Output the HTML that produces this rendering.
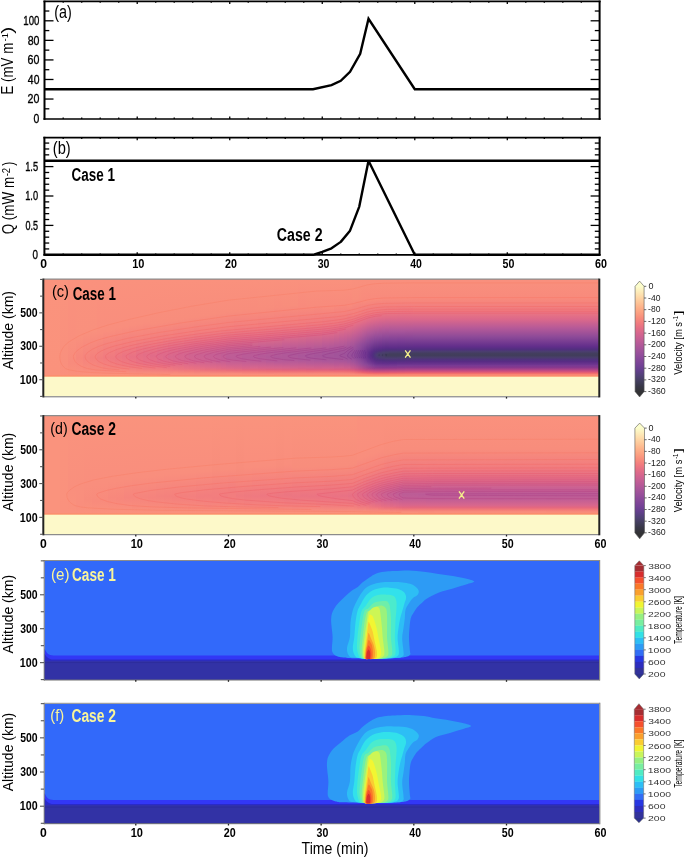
<!DOCTYPE html>
<html><head><meta charset="utf-8"><style>
html,body{margin:0;padding:0;background:#fff;}
svg{display:block;will-change:transform;}
text{font-family:"Liberation Sans",sans-serif;}
</style></head><body>
<svg width="685" height="858" viewBox="0 0 685 858" shape-rendering="auto">
<defs><linearGradient id="c0" x1="0" y1="0" x2="0" y2="1"><stop offset="0" stop-color="#fa937d"/><stop offset="0.8162" stop-color="#fa927c"/><stop offset="0.8205" stop-color="#fb8d6f"/><stop offset="0.8291" stop-color="#fd9d74"/><stop offset="0.8333" stop-color="#fdf9c9"/><stop offset="1" stop-color="#fdf9c9"/></linearGradient>
<linearGradient id="c1" x1="0" y1="0" x2="0" y2="1"><stop offset="0" stop-color="#fa937d"/><stop offset="0.8162" stop-color="#fa927c"/><stop offset="0.8205" stop-color="#fb8d6f"/><stop offset="0.8291" stop-color="#fd9d74"/><stop offset="0.8333" stop-color="#fdf9c9"/><stop offset="1" stop-color="#fdf9c9"/></linearGradient>
<linearGradient id="c2" x1="0" y1="0" x2="0" y2="1"><stop offset="0" stop-color="#fa937d"/><stop offset="0.7436" stop-color="#f98f7d"/><stop offset="0.8162" stop-color="#fa907c"/><stop offset="0.8205" stop-color="#fb8d6f"/><stop offset="0.8291" stop-color="#fd9d74"/><stop offset="0.8333" stop-color="#fdf9c9"/><stop offset="1" stop-color="#fdf9c9"/></linearGradient>
<linearGradient id="c3" x1="0" y1="0" x2="0" y2="1"><stop offset="0" stop-color="#fa917d"/><stop offset="0.5299" stop-color="#f98f7d"/><stop offset="0.7137" stop-color="#f88b7c"/><stop offset="0.8162" stop-color="#fa907b"/><stop offset="0.8205" stop-color="#fb8d6f"/><stop offset="0.8291" stop-color="#fd9d74"/><stop offset="0.8333" stop-color="#fdf9c9"/><stop offset="1" stop-color="#fdf9c9"/></linearGradient>
<linearGradient id="c4" x1="0" y1="0" x2="0" y2="1"><stop offset="0" stop-color="#fa917d"/><stop offset="0.4915" stop-color="#f9907d"/><stop offset="0.6752" stop-color="#f7877c"/><stop offset="0.7821" stop-color="#f98e7d"/><stop offset="0.8162" stop-color="#fa907b"/><stop offset="0.8205" stop-color="#fb8d6f"/><stop offset="0.8291" stop-color="#fd9d74"/><stop offset="0.8333" stop-color="#fdf9c9"/><stop offset="1" stop-color="#fdf9c9"/></linearGradient>
<linearGradient id="c5" x1="0" y1="0" x2="0" y2="1"><stop offset="0" stop-color="#fa917d"/><stop offset="0.4658" stop-color="#f9907d"/><stop offset="0.6752" stop-color="#f5847d"/><stop offset="0.7692" stop-color="#f88b7c"/><stop offset="0.812" stop-color="#fa917d"/><stop offset="0.8162" stop-color="#fa8f7b"/><stop offset="0.8205" stop-color="#fb8c6f"/><stop offset="0.8291" stop-color="#fd9d74"/><stop offset="0.8333" stop-color="#fdf9c9"/><stop offset="1" stop-color="#fdf9c9"/></linearGradient>
<linearGradient id="c6" x1="0" y1="0" x2="0" y2="1"><stop offset="0" stop-color="#fa917d"/><stop offset="0.4402" stop-color="#f9907d"/><stop offset="0.6709" stop-color="#f4817d"/><stop offset="0.765" stop-color="#f7887c"/><stop offset="0.812" stop-color="#fa917d"/><stop offset="0.8162" stop-color="#fa8f7b"/><stop offset="0.8205" stop-color="#fb8c6e"/><stop offset="0.8291" stop-color="#fd9d74"/><stop offset="0.8333" stop-color="#fdf9c9"/><stop offset="1" stop-color="#fdf9c9"/></linearGradient>
<linearGradient id="c7" x1="0" y1="0" x2="0" y2="1"><stop offset="0" stop-color="#fa917d"/><stop offset="0.4573" stop-color="#f98e7d"/><stop offset="0.6752" stop-color="#f27e7e"/><stop offset="0.7692" stop-color="#f7887c"/><stop offset="0.812" stop-color="#fa917d"/><stop offset="0.8162" stop-color="#fa8f7b"/><stop offset="0.8205" stop-color="#fb8c6e"/><stop offset="0.8291" stop-color="#fd9d74"/><stop offset="0.8333" stop-color="#fdf9c9"/><stop offset="1" stop-color="#fdf9c9"/></linearGradient>
<linearGradient id="c8" x1="0" y1="0" x2="0" y2="1"><stop offset="0" stop-color="#fa917d"/><stop offset="0.4402" stop-color="#f98e7d"/><stop offset="0.6667" stop-color="#f17b7f"/><stop offset="0.765" stop-color="#f6857d"/><stop offset="0.812" stop-color="#fa917d"/><stop offset="0.8162" stop-color="#fa8f7a"/><stop offset="0.8205" stop-color="#fb8c6e"/><stop offset="0.8291" stop-color="#fd9d74"/><stop offset="0.8333" stop-color="#fdf9c9"/><stop offset="1" stop-color="#fdf9c9"/></linearGradient>
<linearGradient id="c9" x1="0" y1="0" x2="0" y2="1"><stop offset="0" stop-color="#fa917d"/><stop offset="0.4274" stop-color="#f98e7d"/><stop offset="0.5897" stop-color="#f37f7e"/><stop offset="0.6752" stop-color="#ef7980"/><stop offset="0.7521" stop-color="#f4817d"/><stop offset="0.812" stop-color="#fa917d"/><stop offset="0.8162" stop-color="#fa8f7a"/><stop offset="0.8205" stop-color="#fb8c6e"/><stop offset="0.8291" stop-color="#fd9d74"/><stop offset="0.8333" stop-color="#fdf9c9"/><stop offset="1" stop-color="#fdf9c9"/></linearGradient>
<linearGradient id="c10" x1="0" y1="0" x2="0" y2="1"><stop offset="0" stop-color="#fa917d"/><stop offset="0.4145" stop-color="#f98e7d"/><stop offset="0.5726" stop-color="#f37f7e"/><stop offset="0.6624" stop-color="#ed7681"/><stop offset="0.7393" stop-color="#f27d7e"/><stop offset="0.812" stop-color="#fa917d"/><stop offset="0.8162" stop-color="#fa8f7a"/><stop offset="0.8205" stop-color="#fb8c6e"/><stop offset="0.8291" stop-color="#fd9d74"/><stop offset="0.8333" stop-color="#fdf9c9"/><stop offset="1" stop-color="#fdf9c9"/></linearGradient>
<linearGradient id="c11" x1="0" y1="0" x2="0" y2="1"><stop offset="0" stop-color="#fa917d"/><stop offset="0.4017" stop-color="#f98e7d"/><stop offset="0.5556" stop-color="#f37f7e"/><stop offset="0.6538" stop-color="#eb7482"/><stop offset="0.7308" stop-color="#f07a7f"/><stop offset="0.7821" stop-color="#f7877c"/><stop offset="0.812" stop-color="#fa917d"/><stop offset="0.8162" stop-color="#fa8e7a"/><stop offset="0.8205" stop-color="#fb8c6e"/><stop offset="0.8291" stop-color="#fd9d74"/><stop offset="0.8333" stop-color="#fdf9c9"/><stop offset="1" stop-color="#fdf9c9"/></linearGradient>
<linearGradient id="c12" x1="0" y1="0" x2="0" y2="1"><stop offset="0" stop-color="#fa917d"/><stop offset="0.3889" stop-color="#f98e7d"/><stop offset="0.5427" stop-color="#f37f7e"/><stop offset="0.6624" stop-color="#e97184"/><stop offset="0.7479" stop-color="#f17b7f"/><stop offset="0.812" stop-color="#f9907d"/><stop offset="0.8162" stop-color="#fa8e7a"/><stop offset="0.8205" stop-color="#fb8c6e"/><stop offset="0.8291" stop-color="#fd9d74"/><stop offset="0.8333" stop-color="#fdf9c9"/><stop offset="1" stop-color="#fdf9c9"/></linearGradient>
<linearGradient id="c13" x1="0" y1="0" x2="0" y2="1"><stop offset="0" stop-color="#fa917d"/><stop offset="0.3761" stop-color="#f98e7d"/><stop offset="0.5043" stop-color="#f5837d"/><stop offset="0.6453" stop-color="#e66f85"/><stop offset="0.7094" stop-color="#ea7283"/><stop offset="0.7735" stop-color="#f4817d"/><stop offset="0.812" stop-color="#f9907d"/><stop offset="0.8162" stop-color="#fa8e79"/><stop offset="0.8205" stop-color="#fb8c6e"/><stop offset="0.8291" stop-color="#fd9d74"/><stop offset="0.8333" stop-color="#fdf9c9"/><stop offset="1" stop-color="#fdf9c9"/></linearGradient>
<linearGradient id="c14" x1="0" y1="0" x2="0" y2="1"><stop offset="0" stop-color="#fa917d"/><stop offset="0.3632" stop-color="#f98e7d"/><stop offset="0.4915" stop-color="#f5837d"/><stop offset="0.641" stop-color="#e46e86"/><stop offset="0.7094" stop-color="#e77085"/><stop offset="0.7692" stop-color="#f27d7e"/><stop offset="0.8077" stop-color="#f9907d"/><stop offset="0.8162" stop-color="#fa8e79"/><stop offset="0.8205" stop-color="#fb8b6d"/><stop offset="0.8291" stop-color="#fd9d74"/><stop offset="0.8333" stop-color="#fdf9c9"/><stop offset="1" stop-color="#fdf9c9"/></linearGradient>
<linearGradient id="c15" x1="0" y1="0" x2="0" y2="1"><stop offset="0" stop-color="#fa917d"/><stop offset="0.3803" stop-color="#f88d7c"/><stop offset="0.5299" stop-color="#f17b7f"/><stop offset="0.6496" stop-color="#e16b88"/><stop offset="0.7222" stop-color="#e77085"/><stop offset="0.7692" stop-color="#f17c7f"/><stop offset="0.812" stop-color="#f9907d"/><stop offset="0.8162" stop-color="#fa8e79"/><stop offset="0.8205" stop-color="#fb8b6d"/><stop offset="0.8291" stop-color="#fd9d74"/><stop offset="0.8333" stop-color="#fdf9c9"/><stop offset="1" stop-color="#fdf9c9"/></linearGradient>
<linearGradient id="c16" x1="0" y1="0" x2="0" y2="1"><stop offset="0" stop-color="#fa917d"/><stop offset="0.3718" stop-color="#f88d7c"/><stop offset="0.5214" stop-color="#f17b7f"/><stop offset="0.641" stop-color="#de6a8a"/><stop offset="0.7051" stop-color="#e26c88"/><stop offset="0.7692" stop-color="#f17b7f"/><stop offset="0.812" stop-color="#f9907d"/><stop offset="0.8162" stop-color="#fa8d79"/><stop offset="0.8205" stop-color="#fa896d"/><stop offset="0.8291" stop-color="#fd9d74"/><stop offset="0.8333" stop-color="#fdf9c9"/><stop offset="1" stop-color="#fdf9c9"/></linearGradient>
<linearGradient id="c17" x1="0" y1="0" x2="0" y2="1"><stop offset="0" stop-color="#fa917d"/><stop offset="0.3632" stop-color="#f88d7c"/><stop offset="0.5043" stop-color="#f17c7f"/><stop offset="0.6197" stop-color="#e06b89"/><stop offset="0.6709" stop-color="#dc688b"/><stop offset="0.7308" stop-color="#e56f86"/><stop offset="0.7692" stop-color="#f07a7f"/><stop offset="0.8077" stop-color="#f98e7d"/><stop offset="0.8162" stop-color="#fa8d79"/><stop offset="0.8205" stop-color="#fa896d"/><stop offset="0.8291" stop-color="#fd9d74"/><stop offset="0.8333" stop-color="#fdf9c9"/><stop offset="1" stop-color="#fdf9c9"/></linearGradient>
<linearGradient id="c18" x1="0" y1="0" x2="0" y2="1"><stop offset="0" stop-color="#fa917d"/><stop offset="0.3547" stop-color="#f88d7c"/><stop offset="0.4829" stop-color="#f37f7e"/><stop offset="0.5983" stop-color="#e16b88"/><stop offset="0.6624" stop-color="#d8678d"/><stop offset="0.7308" stop-color="#e46e86"/><stop offset="0.7735" stop-color="#f17a7e"/><stop offset="0.812" stop-color="#f9907d"/><stop offset="0.8162" stop-color="#fa8d78"/><stop offset="0.8205" stop-color="#fa896d"/><stop offset="0.8291" stop-color="#fd9d74"/><stop offset="0.8333" stop-color="#fdf9c9"/><stop offset="1" stop-color="#fdf9c9"/></linearGradient>
<linearGradient id="c19" x1="0" y1="0" x2="0" y2="1"><stop offset="0" stop-color="#fa917d"/><stop offset="0.3504" stop-color="#f88d7c"/><stop offset="0.4829" stop-color="#f27d7e"/><stop offset="0.5726" stop-color="#e46e86"/><stop offset="0.6538" stop-color="#d7668d"/><stop offset="0.7009" stop-color="#db688b"/><stop offset="0.7692" stop-color="#ee7680"/><stop offset="0.7949" stop-color="#f7887c"/><stop offset="0.812" stop-color="#f9907d"/><stop offset="0.8162" stop-color="#f98c78"/><stop offset="0.8205" stop-color="#fa896c"/><stop offset="0.8291" stop-color="#fd9d74"/><stop offset="0.8333" stop-color="#fdf9c9"/><stop offset="1" stop-color="#fdf9c9"/></linearGradient>
<linearGradient id="c20" x1="0" y1="0" x2="0" y2="1"><stop offset="0" stop-color="#fa917d"/><stop offset="0.3419" stop-color="#f88d7c"/><stop offset="0.4915" stop-color="#f17b7f"/><stop offset="0.6368" stop-color="#d6658e"/><stop offset="0.6923" stop-color="#d7668d"/><stop offset="0.7692" stop-color="#ed7580"/><stop offset="0.8034" stop-color="#f88b7c"/><stop offset="0.812" stop-color="#f9907d"/><stop offset="0.8162" stop-color="#f98c78"/><stop offset="0.8205" stop-color="#fa896c"/><stop offset="0.8291" stop-color="#fd9d74"/><stop offset="0.8333" stop-color="#fdf9c9"/><stop offset="1" stop-color="#fdf9c9"/></linearGradient>
<linearGradient id="c21" x1="0" y1="0" x2="0" y2="1"><stop offset="0" stop-color="#fa917d"/><stop offset="0.3333" stop-color="#f88d7c"/><stop offset="0.4615" stop-color="#f37f7e"/><stop offset="0.5556" stop-color="#e46e86"/><stop offset="0.6496" stop-color="#d2648f"/><stop offset="0.6923" stop-color="#d5658e"/><stop offset="0.7607" stop-color="#e97184"/><stop offset="0.7821" stop-color="#f27b7c"/><stop offset="0.8034" stop-color="#f88b7c"/><stop offset="0.812" stop-color="#f9907d"/><stop offset="0.8162" stop-color="#f98c78"/><stop offset="0.8205" stop-color="#fa896c"/><stop offset="0.8291" stop-color="#fd9d74"/><stop offset="0.8333" stop-color="#fdf9c9"/><stop offset="1" stop-color="#fdf9c9"/></linearGradient>
<linearGradient id="c22" x1="0" y1="0" x2="0" y2="1"><stop offset="0" stop-color="#fa917d"/><stop offset="0.3248" stop-color="#f88d7c"/><stop offset="0.4573" stop-color="#f37f7e"/><stop offset="0.5556" stop-color="#e36d87"/><stop offset="0.6453" stop-color="#d06390"/><stop offset="0.6966" stop-color="#d3648f"/><stop offset="0.765" stop-color="#ea7182"/><stop offset="0.7863" stop-color="#f47e7b"/><stop offset="0.8034" stop-color="#f88b7c"/><stop offset="0.812" stop-color="#f98e7d"/><stop offset="0.8162" stop-color="#f98b78"/><stop offset="0.8205" stop-color="#fa896c"/><stop offset="0.8291" stop-color="#fd9d74"/><stop offset="0.8333" stop-color="#fdf9c9"/><stop offset="1" stop-color="#fdf9c9"/></linearGradient>
<linearGradient id="c23" x1="0" y1="0" x2="0" y2="1"><stop offset="0" stop-color="#fa917d"/><stop offset="0.3205" stop-color="#f88d7c"/><stop offset="0.453" stop-color="#f27e7e"/><stop offset="0.547" stop-color="#e36d87"/><stop offset="0.6496" stop-color="#cd6291"/><stop offset="0.6966" stop-color="#d16390"/><stop offset="0.765" stop-color="#e97083"/><stop offset="0.7821" stop-color="#f1797c"/><stop offset="0.8077" stop-color="#f88d7c"/><stop offset="0.812" stop-color="#f98e7d"/><stop offset="0.8162" stop-color="#f98b78"/><stop offset="0.8205" stop-color="#fa896c"/><stop offset="0.8291" stop-color="#fd9d74"/><stop offset="0.8333" stop-color="#fdf9c9"/><stop offset="1" stop-color="#fdf9c9"/></linearGradient>
<linearGradient id="c24" x1="0" y1="0" x2="0" y2="1"><stop offset="0" stop-color="#fa917d"/><stop offset="0.312" stop-color="#f88d7c"/><stop offset="0.4444" stop-color="#f37f7e"/><stop offset="0.5256" stop-color="#e66f85"/><stop offset="0.6453" stop-color="#ca6192"/><stop offset="0.6966" stop-color="#ce6291"/><stop offset="0.7564" stop-color="#e36d87"/><stop offset="0.7735" stop-color="#eb717e"/><stop offset="0.8034" stop-color="#f88b7c"/><stop offset="0.812" stop-color="#f98e7d"/><stop offset="0.8162" stop-color="#f98b77"/><stop offset="0.8205" stop-color="#fa896c"/><stop offset="0.8291" stop-color="#fd9d74"/><stop offset="0.8333" stop-color="#fdf9c9"/><stop offset="1" stop-color="#fdf9c9"/></linearGradient>
<linearGradient id="c25" x1="0" y1="0" x2="0" y2="1"><stop offset="0" stop-color="#fa917d"/><stop offset="0.3077" stop-color="#f88d7c"/><stop offset="0.4402" stop-color="#f37f7e"/><stop offset="0.5342" stop-color="#e36d87"/><stop offset="0.6453" stop-color="#c86093"/><stop offset="0.688" stop-color="#ca6192"/><stop offset="0.7479" stop-color="#de6a8a"/><stop offset="0.7735" stop-color="#ea6f7e"/><stop offset="0.7991" stop-color="#f7887c"/><stop offset="0.812" stop-color="#f98e7d"/><stop offset="0.8162" stop-color="#f98b77"/><stop offset="0.8205" stop-color="#fa896c"/><stop offset="0.8291" stop-color="#fd9d74"/><stop offset="0.8333" stop-color="#fdf9c9"/><stop offset="1" stop-color="#fdf9c9"/></linearGradient>
<linearGradient id="c26" x1="0" y1="0" x2="0" y2="1"><stop offset="0" stop-color="#fa917d"/><stop offset="0.2991" stop-color="#f88d7c"/><stop offset="0.4316" stop-color="#f37f7e"/><stop offset="0.5214" stop-color="#e46e86"/><stop offset="0.641" stop-color="#c65f94"/><stop offset="0.6923" stop-color="#c86093"/><stop offset="0.7521" stop-color="#de6a8a"/><stop offset="0.7778" stop-color="#ec717c"/><stop offset="0.8077" stop-color="#f88d7c"/><stop offset="0.812" stop-color="#f98e7d"/><stop offset="0.8205" stop-color="#fa896c"/><stop offset="0.8291" stop-color="#fd9d74"/><stop offset="0.8333" stop-color="#fdf9c9"/><stop offset="1" stop-color="#fdf9c9"/></linearGradient>
<linearGradient id="c27" x1="0" y1="0" x2="0" y2="1"><stop offset="0" stop-color="#fa917d"/><stop offset="0.2906" stop-color="#f88d7c"/><stop offset="0.4274" stop-color="#f37f7e"/><stop offset="0.5171" stop-color="#e46e86"/><stop offset="0.6368" stop-color="#c45e94"/><stop offset="0.6966" stop-color="#c65f94"/><stop offset="0.7607" stop-color="#e16a87"/><stop offset="0.7778" stop-color="#ec707b"/><stop offset="0.8077" stop-color="#f88d7c"/><stop offset="0.812" stop-color="#f98e7d"/><stop offset="0.8205" stop-color="#fa896c"/><stop offset="0.8291" stop-color="#fd9d74"/><stop offset="0.8333" stop-color="#fdf9c9"/><stop offset="1" stop-color="#fdf9c9"/></linearGradient>
<linearGradient id="c28" x1="0" y1="0" x2="0" y2="1"><stop offset="0" stop-color="#fa917d"/><stop offset="0.2863" stop-color="#f88d7c"/><stop offset="0.4188" stop-color="#f37f7e"/><stop offset="0.5171" stop-color="#e36d87"/><stop offset="0.6453" stop-color="#c05d95"/><stop offset="0.6923" stop-color="#c45e94"/><stop offset="0.7479" stop-color="#da678c"/><stop offset="0.765" stop-color="#e26984"/><stop offset="0.7821" stop-color="#ee737a"/><stop offset="0.8077" stop-color="#f88d7c"/><stop offset="0.812" stop-color="#f98e7d"/><stop offset="0.8205" stop-color="#fa896c"/><stop offset="0.8291" stop-color="#fd9d74"/><stop offset="0.8333" stop-color="#fdf9c9"/><stop offset="1" stop-color="#fdf9c9"/></linearGradient>
<linearGradient id="c29" x1="0" y1="0" x2="0" y2="1"><stop offset="0" stop-color="#fa917d"/><stop offset="0.2778" stop-color="#f88d7c"/><stop offset="0.4145" stop-color="#f37f7e"/><stop offset="0.5043" stop-color="#e46e86"/><stop offset="0.6368" stop-color="#bf5d96"/><stop offset="0.6752" stop-color="#bd5c96"/><stop offset="0.7265" stop-color="#cd6291"/><stop offset="0.7607" stop-color="#de6888"/><stop offset="0.7778" stop-color="#ea6d7b"/><stop offset="0.8034" stop-color="#f88a7c"/><stop offset="0.812" stop-color="#f98e7d"/><stop offset="0.8205" stop-color="#fa896c"/><stop offset="0.8291" stop-color="#fd9d74"/><stop offset="0.8333" stop-color="#fdf9c9"/><stop offset="1" stop-color="#fdf9c9"/></linearGradient>
<linearGradient id="c30" x1="0" y1="0" x2="0" y2="1"><stop offset="0" stop-color="#fa917d"/><stop offset="0.2735" stop-color="#f88d7c"/><stop offset="0.4145" stop-color="#f27d7e"/><stop offset="0.5043" stop-color="#e36d87"/><stop offset="0.6368" stop-color="#bd5c96"/><stop offset="0.6838" stop-color="#bd5c96"/><stop offset="0.7393" stop-color="#d2648f"/><stop offset="0.7607" stop-color="#dc6788"/><stop offset="0.7778" stop-color="#ea6c7c"/><stop offset="0.7991" stop-color="#f6837b"/><stop offset="0.8034" stop-color="#f88a7c"/><stop offset="0.812" stop-color="#f98e7d"/><stop offset="0.8205" stop-color="#fa896c"/><stop offset="0.8291" stop-color="#fd9d74"/><stop offset="0.8333" stop-color="#fdf9c9"/><stop offset="1" stop-color="#fdf9c9"/></linearGradient>
<linearGradient id="c31" x1="0" y1="0" x2="0" y2="1"><stop offset="0" stop-color="#fa917d"/><stop offset="0.265" stop-color="#f88d7c"/><stop offset="0.4017" stop-color="#f37f7e"/><stop offset="0.5" stop-color="#e36d87"/><stop offset="0.641" stop-color="#ba5b97"/><stop offset="0.6752" stop-color="#b95b97"/><stop offset="0.735" stop-color="#ce6291"/><stop offset="0.7607" stop-color="#db6589"/><stop offset="0.7735" stop-color="#e5677e"/><stop offset="0.7906" stop-color="#f27a79"/><stop offset="0.812" stop-color="#f98e7d"/><stop offset="0.8205" stop-color="#fa896c"/><stop offset="0.8291" stop-color="#fd9d74"/><stop offset="0.8333" stop-color="#fdf9c9"/><stop offset="1" stop-color="#fdf9c9"/></linearGradient>
<linearGradient id="c32" x1="0" y1="0" x2="0" y2="1"><stop offset="0" stop-color="#fa917d"/><stop offset="0.2607" stop-color="#f88c7c"/><stop offset="0.3974" stop-color="#f37f7e"/><stop offset="0.4786" stop-color="#e66f85"/><stop offset="0.6282" stop-color="#bb5b97"/><stop offset="0.6709" stop-color="#b75a98"/><stop offset="0.7094" stop-color="#c15e95"/><stop offset="0.7564" stop-color="#d8668d"/><stop offset="0.7735" stop-color="#e5667e"/><stop offset="0.7949" stop-color="#f47d79"/><stop offset="0.812" stop-color="#f98e7d"/><stop offset="0.8205" stop-color="#fa896c"/><stop offset="0.8291" stop-color="#fd9d74"/><stop offset="0.8333" stop-color="#fdf9c9"/><stop offset="1" stop-color="#fdf9c9"/></linearGradient>
<linearGradient id="c33" x1="0" y1="0" x2="0" y2="1"><stop offset="0" stop-color="#fa917d"/><stop offset="0.2521" stop-color="#f88d7c"/><stop offset="0.3974" stop-color="#f27d7e"/><stop offset="0.4786" stop-color="#e56f86"/><stop offset="0.5897" stop-color="#c35e95"/><stop offset="0.6538" stop-color="#b45998"/><stop offset="0.6923" stop-color="#b95b97"/><stop offset="0.7393" stop-color="#ce6291"/><stop offset="0.7607" stop-color="#da6489"/><stop offset="0.7735" stop-color="#e3667e"/><stop offset="0.7906" stop-color="#f17778"/><stop offset="0.812" stop-color="#f98e7d"/><stop offset="0.8205" stop-color="#fa896c"/><stop offset="0.8291" stop-color="#fd9d74"/><stop offset="0.8333" stop-color="#fdf9c9"/><stop offset="1" stop-color="#fdf9c9"/></linearGradient>
<linearGradient id="c34" x1="0" y1="0" x2="0" y2="1"><stop offset="0" stop-color="#fa917d"/><stop offset="0.2436" stop-color="#f88d7c"/><stop offset="0.3846" stop-color="#f37f7e"/><stop offset="0.4829" stop-color="#e36d87"/><stop offset="0.6154" stop-color="#b95b97"/><stop offset="0.6624" stop-color="#b25998"/><stop offset="0.7009" stop-color="#b95b97"/><stop offset="0.7564" stop-color="#d6648d"/><stop offset="0.7692" stop-color="#df6281"/><stop offset="0.7863" stop-color="#ee7178"/><stop offset="0.812" stop-color="#f98e7d"/><stop offset="0.8205" stop-color="#fa896c"/><stop offset="0.8291" stop-color="#fd9d74"/><stop offset="0.8333" stop-color="#fdf9c9"/><stop offset="1" stop-color="#fdf9c9"/></linearGradient>
<linearGradient id="c35" x1="0" y1="0" x2="0" y2="1"><stop offset="0" stop-color="#fa917d"/><stop offset="0.2393" stop-color="#f88c7c"/><stop offset="0.3803" stop-color="#f37f7e"/><stop offset="0.4786" stop-color="#e36d87"/><stop offset="0.6197" stop-color="#b55a98"/><stop offset="0.6667" stop-color="#b05899"/><stop offset="0.7094" stop-color="#bb5b97"/><stop offset="0.7564" stop-color="#d5648d"/><stop offset="0.7692" stop-color="#de6282"/><stop offset="0.7863" stop-color="#ee7078"/><stop offset="0.8077" stop-color="#f88b7c"/><stop offset="0.812" stop-color="#f88d7c"/><stop offset="0.8205" stop-color="#fa896c"/><stop offset="0.8291" stop-color="#fd9d74"/><stop offset="0.8333" stop-color="#fdf9c9"/><stop offset="1" stop-color="#fdf9c9"/></linearGradient>
<linearGradient id="c36" x1="0" y1="0" x2="0" y2="1"><stop offset="0" stop-color="#fa917d"/><stop offset="0.2308" stop-color="#f88d7c"/><stop offset="0.3718" stop-color="#f37f7e"/><stop offset="0.4658" stop-color="#e46e86"/><stop offset="0.5556" stop-color="#c86093"/><stop offset="0.6325" stop-color="#b05899"/><stop offset="0.6838" stop-color="#b05898"/><stop offset="0.7222" stop-color="#c05d95"/><stop offset="0.7564" stop-color="#d4638d"/><stop offset="0.7735" stop-color="#e1627e"/><stop offset="0.7906" stop-color="#f07578"/><stop offset="0.8077" stop-color="#f88b7c"/><stop offset="0.812" stop-color="#f88d7c"/><stop offset="0.8205" stop-color="#fa896c"/><stop offset="0.8291" stop-color="#fd9d74"/><stop offset="0.8333" stop-color="#fdf9c9"/><stop offset="1" stop-color="#fdf9c9"/></linearGradient>
<linearGradient id="c37" x1="0" y1="0" x2="0" y2="1"><stop offset="0" stop-color="#fa917d"/><stop offset="0.2222" stop-color="#f88d7c"/><stop offset="0.3675" stop-color="#f27e7e"/><stop offset="0.4615" stop-color="#e46e86"/><stop offset="0.5641" stop-color="#c35e94"/><stop offset="0.641" stop-color="#ac5799"/><stop offset="0.6838" stop-color="#af5899"/><stop offset="0.7265" stop-color="#c15e95"/><stop offset="0.7564" stop-color="#d2628d"/><stop offset="0.7735" stop-color="#e1627e"/><stop offset="0.7906" stop-color="#f07578"/><stop offset="0.8077" stop-color="#f88b7c"/><stop offset="0.812" stop-color="#f88d7c"/><stop offset="0.8205" stop-color="#fa896c"/><stop offset="0.8291" stop-color="#fd9d74"/><stop offset="0.8333" stop-color="#fdf9c9"/><stop offset="1" stop-color="#fdf9c9"/></linearGradient>
<linearGradient id="c38" x1="0" y1="0" x2="0" y2="1"><stop offset="0" stop-color="#fa917d"/><stop offset="0.2436" stop-color="#f88a7c"/><stop offset="0.3889" stop-color="#f07a7f"/><stop offset="0.4701" stop-color="#e06b88"/><stop offset="0.5983" stop-color="#b55a98"/><stop offset="0.6538" stop-color="#aa569a"/><stop offset="0.6923" stop-color="#af5899"/><stop offset="0.7479" stop-color="#cd6090"/><stop offset="0.765" stop-color="#d85f86"/><stop offset="0.7821" stop-color="#ea6a79"/><stop offset="0.8034" stop-color="#f7867a"/><stop offset="0.812" stop-color="#f88d7c"/><stop offset="0.8205" stop-color="#fa896c"/><stop offset="0.8291" stop-color="#fd9d74"/><stop offset="0.8333" stop-color="#fdf9c9"/><stop offset="1" stop-color="#fdf9c9"/></linearGradient>
<linearGradient id="c39" x1="0" y1="0" x2="0" y2="1"><stop offset="0" stop-color="#fa917d"/><stop offset="0.235" stop-color="#f88b7c"/><stop offset="0.3675" stop-color="#f17c7f"/><stop offset="0.453" stop-color="#e36d87"/><stop offset="0.5513" stop-color="#c35e94"/><stop offset="0.6325" stop-color="#aa569a"/><stop offset="0.6709" stop-color="#a8569a"/><stop offset="0.7179" stop-color="#b95b97"/><stop offset="0.7564" stop-color="#d1618d"/><stop offset="0.7692" stop-color="#db5e82"/><stop offset="0.7863" stop-color="#ed6e78"/><stop offset="0.8077" stop-color="#f88b7c"/><stop offset="0.812" stop-color="#f88d7c"/><stop offset="0.8205" stop-color="#fa896c"/><stop offset="0.8291" stop-color="#fd9d74"/><stop offset="0.8333" stop-color="#fdf9c9"/><stop offset="1" stop-color="#fdf9c9"/></linearGradient>
<linearGradient id="c40" x1="0" y1="0" x2="0" y2="1"><stop offset="0" stop-color="#fa917d"/><stop offset="0.2265" stop-color="#f88b7c"/><stop offset="0.3761" stop-color="#f07a7f"/><stop offset="0.4615" stop-color="#e06b89"/><stop offset="0.6026" stop-color="#af5899"/><stop offset="0.6538" stop-color="#a5549a"/><stop offset="0.6923" stop-color="#ac5799"/><stop offset="0.7393" stop-color="#c55d93"/><stop offset="0.7607" stop-color="#d35f8a"/><stop offset="0.7735" stop-color="#e0607e"/><stop offset="0.7949" stop-color="#f37a77"/><stop offset="0.8077" stop-color="#f88b7c"/><stop offset="0.812" stop-color="#f88d7c"/><stop offset="0.8205" stop-color="#fa896c"/><stop offset="0.8291" stop-color="#fd9d74"/><stop offset="0.8333" stop-color="#fdf9c9"/><stop offset="1" stop-color="#fdf9c9"/></linearGradient>
<linearGradient id="c41" x1="0" y1="0" x2="0" y2="1"><stop offset="0" stop-color="#fa917d"/><stop offset="0.2436" stop-color="#f88a7c"/><stop offset="0.3846" stop-color="#ee7781"/><stop offset="0.453" stop-color="#e06b89"/><stop offset="0.5598" stop-color="#bb5b97"/><stop offset="0.6282" stop-color="#a6559a"/><stop offset="0.6624" stop-color="#a3549a"/><stop offset="0.7009" stop-color="#ae5799"/><stop offset="0.7564" stop-color="#d0608e"/><stop offset="0.7735" stop-color="#e0607e"/><stop offset="0.7949" stop-color="#f37a77"/><stop offset="0.8077" stop-color="#f88b7c"/><stop offset="0.812" stop-color="#f88d7c"/><stop offset="0.8205" stop-color="#fa896c"/><stop offset="0.8291" stop-color="#fd9d74"/><stop offset="0.8333" stop-color="#fdf9c9"/><stop offset="1" stop-color="#fdf9c9"/></linearGradient>
<linearGradient id="c42" x1="0" y1="0" x2="0" y2="1"><stop offset="0" stop-color="#fa917d"/><stop offset="0.2436" stop-color="#f88a7c"/><stop offset="0.3803" stop-color="#ee7781"/><stop offset="0.4658" stop-color="#db688b"/><stop offset="0.5726" stop-color="#b45998"/><stop offset="0.6239" stop-color="#a5549a"/><stop offset="0.6709" stop-color="#a3549a"/><stop offset="0.7094" stop-color="#b15998"/><stop offset="0.7564" stop-color="#d0608d"/><stop offset="0.7735" stop-color="#de5e7e"/><stop offset="0.7949" stop-color="#f37a77"/><stop offset="0.8077" stop-color="#f88b7c"/><stop offset="0.812" stop-color="#f88d7c"/><stop offset="0.8205" stop-color="#fa896c"/><stop offset="0.8291" stop-color="#fd9d74"/><stop offset="0.8333" stop-color="#fdf9c9"/><stop offset="1" stop-color="#fdf9c9"/></linearGradient>
<linearGradient id="c43" x1="0" y1="0" x2="0" y2="1"><stop offset="0" stop-color="#fa917d"/><stop offset="0.2179" stop-color="#f88b7c"/><stop offset="0.359" stop-color="#f07a7f"/><stop offset="0.4402" stop-color="#e06b89"/><stop offset="0.5641" stop-color="#b45998"/><stop offset="0.6368" stop-color="#a1539a"/><stop offset="0.6795" stop-color="#a3549a"/><stop offset="0.7308" stop-color="#bc5a95"/><stop offset="0.7564" stop-color="#cf5f8d"/><stop offset="0.7692" stop-color="#d95c82"/><stop offset="0.7863" stop-color="#ed6d77"/><stop offset="0.8077" stop-color="#f88b7c"/><stop offset="0.812" stop-color="#f88d7c"/><stop offset="0.8205" stop-color="#fa896c"/><stop offset="0.8291" stop-color="#fd9d74"/><stop offset="0.8333" stop-color="#fdf9c9"/><stop offset="1" stop-color="#fdf9c9"/></linearGradient>
<linearGradient id="c44" x1="0" y1="0" x2="0" y2="1"><stop offset="0" stop-color="#fa917d"/><stop offset="0.2137" stop-color="#f88b7c"/><stop offset="0.3462" stop-color="#f17b7f"/><stop offset="0.4274" stop-color="#e16b88"/><stop offset="0.5256" stop-color="#bf5d96"/><stop offset="0.6111" stop-color="#a3549a"/><stop offset="0.6624" stop-color="#9f529a"/><stop offset="0.7009" stop-color="#ab5699"/><stop offset="0.7521" stop-color="#cc5f8f"/><stop offset="0.7692" stop-color="#d95c82"/><stop offset="0.7863" stop-color="#ed6d77"/><stop offset="0.8077" stop-color="#f88b7c"/><stop offset="0.812" stop-color="#f88d7c"/><stop offset="0.8205" stop-color="#fa896c"/><stop offset="0.8291" stop-color="#fd9d74"/><stop offset="0.8333" stop-color="#fdf9c9"/><stop offset="1" stop-color="#fdf9c9"/></linearGradient>
<linearGradient id="c45" x1="0" y1="0" x2="0" y2="1"><stop offset="0" stop-color="#fa917d"/><stop offset="0.2094" stop-color="#f88b7c"/><stop offset="0.3248" stop-color="#f27d7e"/><stop offset="0.4017" stop-color="#e56f86"/><stop offset="0.4829" stop-color="#cc6192"/><stop offset="0.5897" stop-color="#a6559a"/><stop offset="0.6453" stop-color="#9d519b"/><stop offset="0.688" stop-color="#a3549a"/><stop offset="0.735" stop-color="#be5a94"/><stop offset="0.7607" stop-color="#d05d8a"/><stop offset="0.7735" stop-color="#de5e7d"/><stop offset="0.7906" stop-color="#f07276"/><stop offset="0.8077" stop-color="#f88a7c"/><stop offset="0.812" stop-color="#f88d7c"/><stop offset="0.8205" stop-color="#fa896c"/><stop offset="0.8291" stop-color="#fd9d74"/><stop offset="0.8333" stop-color="#fdf9c9"/><stop offset="1" stop-color="#fdf9c9"/></linearGradient>
<linearGradient id="c46" x1="0" y1="0" x2="0" y2="1"><stop offset="0" stop-color="#fa917d"/><stop offset="0.2265" stop-color="#f88a7c"/><stop offset="0.3504" stop-color="#ee7781"/><stop offset="0.4188" stop-color="#e06b89"/><stop offset="0.5385" stop-color="#b35998"/><stop offset="0.6154" stop-color="#9d519b"/><stop offset="0.6624" stop-color="#99509a"/><stop offset="0.7051" stop-color="#a8569a"/><stop offset="0.7564" stop-color="#cc5d8e"/><stop offset="0.7692" stop-color="#d85b81"/><stop offset="0.7821" stop-color="#e86578"/><stop offset="0.8034" stop-color="#f78479"/><stop offset="0.812" stop-color="#f88d7c"/><stop offset="0.8205" stop-color="#fa896c"/><stop offset="0.8291" stop-color="#fd9d74"/><stop offset="0.8333" stop-color="#fdf9c9"/><stop offset="1" stop-color="#fdf9c9"/></linearGradient>
<linearGradient id="c47" x1="0" y1="0" x2="0" y2="1"><stop offset="0" stop-color="#fa917d"/><stop offset="0.2222" stop-color="#f88a7c"/><stop offset="0.3462" stop-color="#ee7781"/><stop offset="0.4359" stop-color="#d8678d"/><stop offset="0.5641" stop-color="#a7559a"/><stop offset="0.6368" stop-color="#974f9a"/><stop offset="0.6752" stop-color="#99509a"/><stop offset="0.7265" stop-color="#b35696"/><stop offset="0.7564" stop-color="#c85c8e"/><stop offset="0.7692" stop-color="#d55983"/><stop offset="0.7821" stop-color="#e56379"/><stop offset="0.7949" stop-color="#f17576"/><stop offset="0.812" stop-color="#f88d7c"/><stop offset="0.8205" stop-color="#fa896c"/><stop offset="0.8291" stop-color="#fd9d74"/><stop offset="0.8333" stop-color="#fdf9c9"/><stop offset="1" stop-color="#fdf9c9"/></linearGradient>
<linearGradient id="c48" x1="0" y1="0" x2="0" y2="1"><stop offset="0" stop-color="#fa917d"/><stop offset="0.2222" stop-color="#f88a7c"/><stop offset="0.3376" stop-color="#ef7980"/><stop offset="0.4103" stop-color="#e06b89"/><stop offset="0.5385" stop-color="#af5899"/><stop offset="0.6026" stop-color="#9c509b"/><stop offset="0.6581" stop-color="#964e9a"/><stop offset="0.6923" stop-color="#9f529a"/><stop offset="0.735" stop-color="#b65795"/><stop offset="0.7607" stop-color="#ca598b"/><stop offset="0.7735" stop-color="#da5a7e"/><stop offset="0.7949" stop-color="#f17475"/><stop offset="0.812" stop-color="#f88d7c"/><stop offset="0.8162" stop-color="#f98774"/><stop offset="0.8205" stop-color="#fa896c"/><stop offset="0.8291" stop-color="#fd9d74"/><stop offset="0.8333" stop-color="#fdf9c9"/><stop offset="1" stop-color="#fdf9c9"/></linearGradient>
<linearGradient id="c49" x1="0" y1="0" x2="0" y2="1"><stop offset="0" stop-color="#f9907d"/><stop offset="0.1752" stop-color="#f88d7c"/><stop offset="0.3034" stop-color="#f37f7e"/><stop offset="0.3932" stop-color="#e36d87"/><stop offset="0.5" stop-color="#bc5c96"/><stop offset="0.5855" stop-color="#9e529a"/><stop offset="0.6496" stop-color="#934d9a"/><stop offset="0.6966" stop-color="#9e529a"/><stop offset="0.7393" stop-color="#b85794"/><stop offset="0.7607" stop-color="#c8588c"/><stop offset="0.7735" stop-color="#d8597f"/><stop offset="0.7906" stop-color="#ed6c76"/><stop offset="0.8034" stop-color="#f68078"/><stop offset="0.812" stop-color="#f88d7c"/><stop offset="0.8162" stop-color="#f98674"/><stop offset="0.8205" stop-color="#fa896c"/><stop offset="0.8291" stop-color="#fd9d74"/><stop offset="0.8333" stop-color="#fdf9c9"/><stop offset="1" stop-color="#fdf9c9"/></linearGradient>
<linearGradient id="c50" x1="0" y1="0" x2="0" y2="1"><stop offset="0" stop-color="#f9907d"/><stop offset="0.1752" stop-color="#f88d7c"/><stop offset="0.2991" stop-color="#f37f7e"/><stop offset="0.3803" stop-color="#e56f86"/><stop offset="0.4701" stop-color="#c65f94"/><stop offset="0.5641" stop-color="#a2539a"/><stop offset="0.6325" stop-color="#924c9a"/><stop offset="0.6752" stop-color="#944d9a"/><stop offset="0.7179" stop-color="#a75499"/><stop offset="0.7607" stop-color="#c6568c"/><stop offset="0.7735" stop-color="#d65780"/><stop offset="0.7949" stop-color="#f07074"/><stop offset="0.812" stop-color="#f88d7c"/><stop offset="0.8162" stop-color="#f98674"/><stop offset="0.8205" stop-color="#fa896c"/><stop offset="0.8291" stop-color="#fd9d74"/><stop offset="0.8333" stop-color="#fdf9c9"/><stop offset="1" stop-color="#fdf9c9"/></linearGradient>
<linearGradient id="c51" x1="0" y1="0" x2="0" y2="1"><stop offset="0" stop-color="#f9907d"/><stop offset="0.1709" stop-color="#f88d7c"/><stop offset="0.2949" stop-color="#f37f7e"/><stop offset="0.3761" stop-color="#e56f86"/><stop offset="0.4615" stop-color="#c86093"/><stop offset="0.5556" stop-color="#a2539a"/><stop offset="0.6239" stop-color="#904b9a"/><stop offset="0.6709" stop-color="#914b9a"/><stop offset="0.7094" stop-color="#9f529a"/><stop offset="0.7521" stop-color="#bc5692"/><stop offset="0.7692" stop-color="#cd5484"/><stop offset="0.7821" stop-color="#e05d7a"/><stop offset="0.7991" stop-color="#f27574"/><stop offset="0.812" stop-color="#f88a7b"/><stop offset="0.8162" stop-color="#f88673"/><stop offset="0.8205" stop-color="#fa896c"/><stop offset="0.8291" stop-color="#fd9d74"/><stop offset="0.8333" stop-color="#fdf9c9"/><stop offset="1" stop-color="#fdf9c9"/></linearGradient>
<linearGradient id="c52" x1="0" y1="0" x2="0" y2="1"><stop offset="0" stop-color="#f9907d"/><stop offset="0.1667" stop-color="#f88d7c"/><stop offset="0.2949" stop-color="#f37f7e"/><stop offset="0.3803" stop-color="#e36d87"/><stop offset="0.4573" stop-color="#c86093"/><stop offset="0.5598" stop-color="#9e519a"/><stop offset="0.6282" stop-color="#8d4a98"/><stop offset="0.6752" stop-color="#8e4a99"/><stop offset="0.7265" stop-color="#a65298"/><stop offset="0.7607" stop-color="#c1548d"/><stop offset="0.7735" stop-color="#d15481"/><stop offset="0.7949" stop-color="#ef6d73"/><stop offset="0.812" stop-color="#f88a7b"/><stop offset="0.8162" stop-color="#f88673"/><stop offset="0.8205" stop-color="#fa896c"/><stop offset="0.8291" stop-color="#fd9d74"/><stop offset="0.8333" stop-color="#fdf9c9"/><stop offset="1" stop-color="#fdf9c9"/></linearGradient>
<linearGradient id="c53" x1="0" y1="0" x2="0" y2="1"><stop offset="0" stop-color="#f9907d"/><stop offset="0.1667" stop-color="#f88d7c"/><stop offset="0.2906" stop-color="#f37f7e"/><stop offset="0.3761" stop-color="#e36d87"/><stop offset="0.453" stop-color="#c86093"/><stop offset="0.5641" stop-color="#99509a"/><stop offset="0.6282" stop-color="#8b4898"/><stop offset="0.6795" stop-color="#8d4a98"/><stop offset="0.7265" stop-color="#a45198"/><stop offset="0.7564" stop-color="#bb5490"/><stop offset="0.7735" stop-color="#d05381"/><stop offset="0.7949" stop-color="#ed6b73"/><stop offset="0.812" stop-color="#f88a7a"/><stop offset="0.8162" stop-color="#f88573"/><stop offset="0.8205" stop-color="#fa896c"/><stop offset="0.8291" stop-color="#fd9d74"/><stop offset="0.8333" stop-color="#fdf9c9"/><stop offset="1" stop-color="#fdf9c9"/></linearGradient>
<linearGradient id="c54" x1="0" y1="0" x2="0" y2="1"><stop offset="0" stop-color="#f9907d"/><stop offset="0.1624" stop-color="#f88d7c"/><stop offset="0.2863" stop-color="#f37f7e"/><stop offset="0.3675" stop-color="#e56f86"/><stop offset="0.4487" stop-color="#c86093"/><stop offset="0.5598" stop-color="#99509a"/><stop offset="0.6154" stop-color="#8a4898"/><stop offset="0.6624" stop-color="#874697"/><stop offset="0.7009" stop-color="#934c9a"/><stop offset="0.7308" stop-color="#a45198"/><stop offset="0.7607" stop-color="#bc518d"/><stop offset="0.7735" stop-color="#ce5281"/><stop offset="0.7949" stop-color="#ec6873"/><stop offset="0.8077" stop-color="#f78276"/><stop offset="0.812" stop-color="#f8897a"/><stop offset="0.8162" stop-color="#f88573"/><stop offset="0.8205" stop-color="#fa896c"/><stop offset="0.8291" stop-color="#fd9d74"/><stop offset="0.8333" stop-color="#fdf9c9"/><stop offset="1" stop-color="#fdf9c9"/></linearGradient>
<linearGradient id="c55" x1="0" y1="0" x2="0" y2="1"><stop offset="0" stop-color="#f9907d"/><stop offset="0.1838" stop-color="#f88b7c"/><stop offset="0.3034" stop-color="#f17b7f"/><stop offset="0.3761" stop-color="#e26c88"/><stop offset="0.4658" stop-color="#bf5d96"/><stop offset="0.5556" stop-color="#984f9a"/><stop offset="0.6239" stop-color="#864597"/><stop offset="0.6752" stop-color="#874697"/><stop offset="0.7265" stop-color="#9d5098"/><stop offset="0.7607" stop-color="#ba508d"/><stop offset="0.7735" stop-color="#cb5082"/><stop offset="0.7949" stop-color="#ec6872"/><stop offset="0.8077" stop-color="#f68176"/><stop offset="0.812" stop-color="#f88979"/><stop offset="0.8162" stop-color="#f88572"/><stop offset="0.8205" stop-color="#fa896c"/><stop offset="0.8291" stop-color="#fd9d74"/><stop offset="0.8333" stop-color="#fdf9c9"/><stop offset="1" stop-color="#fdf9c9"/></linearGradient>
<linearGradient id="c56" x1="0" y1="0" x2="0" y2="1"><stop offset="0" stop-color="#f9907d"/><stop offset="0.1581" stop-color="#f88d7c"/><stop offset="0.2821" stop-color="#f37f7e"/><stop offset="0.3675" stop-color="#e36d87"/><stop offset="0.4402" stop-color="#c86093"/><stop offset="0.547" stop-color="#984f9a"/><stop offset="0.6197" stop-color="#844497"/><stop offset="0.6667" stop-color="#824396"/><stop offset="0.7137" stop-color="#944d9a"/><stop offset="0.7479" stop-color="#ab4f94"/><stop offset="0.7692" stop-color="#c34d86"/><stop offset="0.7821" stop-color="#d9567b"/><stop offset="0.7991" stop-color="#f06e71"/><stop offset="0.812" stop-color="#f88879"/><stop offset="0.8162" stop-color="#f88572"/><stop offset="0.8205" stop-color="#fa896c"/><stop offset="0.8291" stop-color="#fd9d74"/><stop offset="0.8333" stop-color="#fdf9c9"/><stop offset="1" stop-color="#fdf9c9"/></linearGradient>
<linearGradient id="c57" x1="0" y1="0" x2="0" y2="1"><stop offset="0" stop-color="#f9907d"/><stop offset="0.1795" stop-color="#f88b7c"/><stop offset="0.2778" stop-color="#f37f7e"/><stop offset="0.3632" stop-color="#e36d87"/><stop offset="0.4487" stop-color="#c35e95"/><stop offset="0.5556" stop-color="#934c9a"/><stop offset="0.6197" stop-color="#804296"/><stop offset="0.6752" stop-color="#804296"/><stop offset="0.7265" stop-color="#984e99"/><stop offset="0.7564" stop-color="#b04e91"/><stop offset="0.7735" stop-color="#c84e83"/><stop offset="0.7949" stop-color="#ea6372"/><stop offset="0.8077" stop-color="#f68074"/><stop offset="0.812" stop-color="#f88879"/><stop offset="0.8162" stop-color="#f88472"/><stop offset="0.8205" stop-color="#fa896c"/><stop offset="0.8291" stop-color="#fd9d74"/><stop offset="0.8333" stop-color="#fdf9c9"/><stop offset="1" stop-color="#fdf9c9"/></linearGradient>
<linearGradient id="c58" x1="0" y1="0" x2="0" y2="1"><stop offset="0" stop-color="#f9907d"/><stop offset="0.1795" stop-color="#f88b7c"/><stop offset="0.3077" stop-color="#ef7980"/><stop offset="0.3718" stop-color="#e06b89"/><stop offset="0.4658" stop-color="#b85b97"/><stop offset="0.5598" stop-color="#8e4a99"/><stop offset="0.6239" stop-color="#7d3f94"/><stop offset="0.6709" stop-color="#7d3f94"/><stop offset="0.7137" stop-color="#8e4a99"/><stop offset="0.735" stop-color="#9b4c97"/><stop offset="0.7607" stop-color="#b34c8d"/><stop offset="0.7735" stop-color="#c64d82"/><stop offset="0.7949" stop-color="#e96171"/><stop offset="0.8034" stop-color="#f37471"/><stop offset="0.812" stop-color="#f88878"/><stop offset="0.8162" stop-color="#f88471"/><stop offset="0.8205" stop-color="#fa896c"/><stop offset="0.8291" stop-color="#fd9d74"/><stop offset="0.8333" stop-color="#fdf9c9"/><stop offset="1" stop-color="#fdf9c9"/></linearGradient>
<linearGradient id="c59" x1="0" y1="0" x2="0" y2="1"><stop offset="0" stop-color="#f9907d"/><stop offset="0.1923" stop-color="#f88a7c"/><stop offset="0.3034" stop-color="#ef7980"/><stop offset="0.3675" stop-color="#e06b89"/><stop offset="0.4615" stop-color="#b85b97"/><stop offset="0.5556" stop-color="#8e4a99"/><stop offset="0.6239" stop-color="#793c94"/><stop offset="0.6752" stop-color="#7b3e94"/><stop offset="0.7137" stop-color="#8c4898"/><stop offset="0.7393" stop-color="#9b4b96"/><stop offset="0.765" stop-color="#b5498a"/><stop offset="0.7821" stop-color="#d3527d"/><stop offset="0.7949" stop-color="#e86072"/><stop offset="0.8034" stop-color="#f37370"/><stop offset="0.812" stop-color="#f88678"/><stop offset="0.8162" stop-color="#f88471"/><stop offset="0.8205" stop-color="#fa896c"/><stop offset="0.8291" stop-color="#fd9d74"/><stop offset="0.8333" stop-color="#fdf9c9"/><stop offset="1" stop-color="#fdf9c9"/></linearGradient>
<linearGradient id="c60" x1="0" y1="0" x2="0" y2="1"><stop offset="0" stop-color="#f9907d"/><stop offset="0.1923" stop-color="#f88a7c"/><stop offset="0.3077" stop-color="#ee7781"/><stop offset="0.3803" stop-color="#db688b"/><stop offset="0.4786" stop-color="#ae5799"/><stop offset="0.5726" stop-color="#854497"/><stop offset="0.6239" stop-color="#763a93"/><stop offset="0.6709" stop-color="#763a93"/><stop offset="0.7094" stop-color="#854497"/><stop offset="0.7308" stop-color="#924a98"/><stop offset="0.7607" stop-color="#ac488e"/><stop offset="0.7735" stop-color="#c24a84"/><stop offset="0.7949" stop-color="#e86072"/><stop offset="0.7991" stop-color="#ed666f"/><stop offset="0.8077" stop-color="#f57c73"/><stop offset="0.812" stop-color="#f88677"/><stop offset="0.8162" stop-color="#f88471"/><stop offset="0.8205" stop-color="#fa896c"/><stop offset="0.8291" stop-color="#fd9d74"/><stop offset="0.8333" stop-color="#fdf9c9"/><stop offset="1" stop-color="#fdf9c9"/></linearGradient>
<linearGradient id="c61" x1="0" y1="0" x2="0" y2="1"><stop offset="0" stop-color="#f9907d"/><stop offset="0.188" stop-color="#f88a7c"/><stop offset="0.2991" stop-color="#ef7980"/><stop offset="0.3632" stop-color="#e06b89"/><stop offset="0.4615" stop-color="#b45998"/><stop offset="0.547" stop-color="#8c4998"/><stop offset="0.6154" stop-color="#743992"/><stop offset="0.6752" stop-color="#743991"/><stop offset="0.7137" stop-color="#844497"/><stop offset="0.7308" stop-color="#904998"/><stop offset="0.7564" stop-color="#a54890"/><stop offset="0.7735" stop-color="#be4985"/><stop offset="0.7906" stop-color="#df5977"/><stop offset="0.7991" stop-color="#ed666f"/><stop offset="0.8077" stop-color="#f57b72"/><stop offset="0.812" stop-color="#f88577"/><stop offset="0.8162" stop-color="#f88370"/><stop offset="0.8205" stop-color="#fa896c"/><stop offset="0.8291" stop-color="#fd9d74"/><stop offset="0.8333" stop-color="#fdf9c9"/><stop offset="1" stop-color="#fdf9c9"/></linearGradient>
<linearGradient id="c62" x1="0" y1="0" x2="0" y2="1"><stop offset="0" stop-color="#f9907d"/><stop offset="0.188" stop-color="#f88a7c"/><stop offset="0.2949" stop-color="#ef7980"/><stop offset="0.359" stop-color="#e06b89"/><stop offset="0.4145" stop-color="#c96093"/><stop offset="0.5171" stop-color="#974f9a"/><stop offset="0.5897" stop-color="#783c93"/><stop offset="0.6453" stop-color="#6f358f"/><stop offset="0.688" stop-color="#743991"/><stop offset="0.7222" stop-color="#874697"/><stop offset="0.7521" stop-color="#9e4692"/><stop offset="0.7692" stop-color="#b44688"/><stop offset="0.7906" stop-color="#de5877"/><stop offset="0.7991" stop-color="#ec656f"/><stop offset="0.8034" stop-color="#f16f6e"/><stop offset="0.812" stop-color="#f88576"/><stop offset="0.8162" stop-color="#f88370"/><stop offset="0.8205" stop-color="#fa896c"/><stop offset="0.8291" stop-color="#fd9d74"/><stop offset="0.8333" stop-color="#fdf9c9"/><stop offset="1" stop-color="#fdf9c9"/></linearGradient>
<linearGradient id="c63" x1="0" y1="0" x2="0" y2="1"><stop offset="0" stop-color="#f9907d"/><stop offset="0.1838" stop-color="#f88a7c"/><stop offset="0.2991" stop-color="#ee7781"/><stop offset="0.3718" stop-color="#da678c"/><stop offset="0.453" stop-color="#b45998"/><stop offset="0.5299" stop-color="#8e4a99"/><stop offset="0.6068" stop-color="#6f358f"/><stop offset="0.6538" stop-color="#68318d"/><stop offset="0.7009" stop-color="#743992"/><stop offset="0.7308" stop-color="#8b4797"/><stop offset="0.7521" stop-color="#9a4592"/><stop offset="0.7692" stop-color="#b34588"/><stop offset="0.7906" stop-color="#dd5778"/><stop offset="0.8034" stop-color="#f06c6d"/><stop offset="0.812" stop-color="#f88476"/><stop offset="0.8162" stop-color="#f88370"/><stop offset="0.8205" stop-color="#fa896c"/><stop offset="0.8291" stop-color="#fd9d74"/><stop offset="0.8333" stop-color="#fdf9c9"/><stop offset="1" stop-color="#fdf9c9"/></linearGradient>
<linearGradient id="c64" x1="0" y1="0" x2="0" y2="1"><stop offset="0" stop-color="#f9907d"/><stop offset="0.1838" stop-color="#f88a7c"/><stop offset="0.2906" stop-color="#ef7980"/><stop offset="0.3547" stop-color="#e06b89"/><stop offset="0.453" stop-color="#b35998"/><stop offset="0.5299" stop-color="#8d4a98"/><stop offset="0.6239" stop-color="#66308c"/><stop offset="0.6624" stop-color="#642f8b"/><stop offset="0.7051" stop-color="#743991"/><stop offset="0.735" stop-color="#8a4696"/><stop offset="0.7607" stop-color="#a2438d"/><stop offset="0.7735" stop-color="#ba4886"/><stop offset="0.7949" stop-color="#e45d74"/><stop offset="0.8034" stop-color="#f06c6c"/><stop offset="0.812" stop-color="#f88475"/><stop offset="0.8162" stop-color="#f7816f"/><stop offset="0.8205" stop-color="#fa896c"/><stop offset="0.8291" stop-color="#fd9d74"/><stop offset="0.8333" stop-color="#fdf9c9"/><stop offset="1" stop-color="#fdf9c9"/></linearGradient>
<linearGradient id="c65" x1="0" y1="0" x2="0" y2="1"><stop offset="0" stop-color="#f9907d"/><stop offset="0.1795" stop-color="#f88a7c"/><stop offset="0.2906" stop-color="#ef7980"/><stop offset="0.3675" stop-color="#da678c"/><stop offset="0.4658" stop-color="#ab5699"/><stop offset="0.5427" stop-color="#854497"/><stop offset="0.6282" stop-color="#602e8a"/><stop offset="0.6667" stop-color="#602e8a"/><stop offset="0.7094" stop-color="#743991"/><stop offset="0.735" stop-color="#884496"/><stop offset="0.7521" stop-color="#954291"/><stop offset="0.7692" stop-color="#b04489"/><stop offset="0.7906" stop-color="#da557a"/><stop offset="0.8034" stop-color="#f06b6c"/><stop offset="0.812" stop-color="#f78475"/><stop offset="0.8162" stop-color="#f7816f"/><stop offset="0.8205" stop-color="#fa896c"/><stop offset="0.8291" stop-color="#fd9d74"/><stop offset="0.8333" stop-color="#fdf9c9"/><stop offset="1" stop-color="#fdf9c9"/></linearGradient>
<linearGradient id="c66" x1="0" y1="0" x2="0" y2="1"><stop offset="0" stop-color="#f9907d"/><stop offset="0.1795" stop-color="#f88a7c"/><stop offset="0.2863" stop-color="#ef7980"/><stop offset="0.3504" stop-color="#e06b89"/><stop offset="0.4658" stop-color="#aa569a"/><stop offset="0.5513" stop-color="#7f4096"/><stop offset="0.6239" stop-color="#5f2d89"/><stop offset="0.6496" stop-color="#5a2c86"/><stop offset="0.6795" stop-color="#602e8a"/><stop offset="0.7179" stop-color="#773b93"/><stop offset="0.735" stop-color="#854396"/><stop offset="0.7607" stop-color="#9d418d"/><stop offset="0.7821" stop-color="#c94d81"/><stop offset="0.7991" stop-color="#ea6271"/><stop offset="0.8034" stop-color="#ef6a6d"/><stop offset="0.812" stop-color="#f78375"/><stop offset="0.8162" stop-color="#f7816f"/><stop offset="0.8205" stop-color="#fa896c"/><stop offset="0.8291" stop-color="#fd9d74"/><stop offset="0.8333" stop-color="#fdf9c9"/><stop offset="1" stop-color="#fdf9c9"/></linearGradient>
<linearGradient id="c67" x1="0" y1="0" x2="0" y2="1"><stop offset="0" stop-color="#f9907d"/><stop offset="0.1795" stop-color="#f88a7c"/><stop offset="0.2863" stop-color="#ef7980"/><stop offset="0.3632" stop-color="#da678c"/><stop offset="0.453" stop-color="#af5899"/><stop offset="0.5299" stop-color="#874697"/><stop offset="0.6197" stop-color="#5b2c87"/><stop offset="0.6538" stop-color="#562c83"/><stop offset="0.6966" stop-color="#65308c"/><stop offset="0.7265" stop-color="#7b3e94"/><stop offset="0.7393" stop-color="#864294"/><stop offset="0.7564" stop-color="#96408f"/><stop offset="0.7735" stop-color="#b44688"/><stop offset="0.7949" stop-color="#e25b75"/><stop offset="0.8034" stop-color="#ef6a6d"/><stop offset="0.812" stop-color="#f78374"/><stop offset="0.8162" stop-color="#f7816e"/><stop offset="0.8205" stop-color="#fa896c"/><stop offset="0.8291" stop-color="#fd9d74"/><stop offset="0.8333" stop-color="#fdf9c9"/><stop offset="1" stop-color="#fdf9c9"/></linearGradient>
<linearGradient id="c68" x1="0" y1="0" x2="0" y2="1"><stop offset="0" stop-color="#f9907d"/><stop offset="0.1752" stop-color="#f88a7c"/><stop offset="0.2906" stop-color="#ee7781"/><stop offset="0.3632" stop-color="#da678c"/><stop offset="0.4658" stop-color="#a7559a"/><stop offset="0.5427" stop-color="#7f4096"/><stop offset="0.6154" stop-color="#5b2c87"/><stop offset="0.641" stop-color="#522d80"/><stop offset="0.6667" stop-color="#552c82"/><stop offset="0.7051" stop-color="#68318d"/><stop offset="0.7393" stop-color="#834094"/><stop offset="0.7607" stop-color="#9a3e8d"/><stop offset="0.7863" stop-color="#cf507f"/><stop offset="0.7991" stop-color="#e96171"/><stop offset="0.8077" stop-color="#f4756e"/><stop offset="0.812" stop-color="#f78174"/><stop offset="0.8162" stop-color="#f7816e"/><stop offset="0.8205" stop-color="#fa896c"/><stop offset="0.8291" stop-color="#fd9d74"/><stop offset="0.8333" stop-color="#fdf9c9"/><stop offset="1" stop-color="#fdf9c9"/></linearGradient>
<linearGradient id="c69" x1="0" y1="0" x2="0" y2="1"><stop offset="0" stop-color="#f9907d"/><stop offset="0.1752" stop-color="#f88a7c"/><stop offset="0.2821" stop-color="#ef7980"/><stop offset="0.3419" stop-color="#e16b88"/><stop offset="0.4402" stop-color="#b35998"/><stop offset="0.5128" stop-color="#8d4a98"/><stop offset="0.6068" stop-color="#5b2c87"/><stop offset="0.6368" stop-color="#4f307d"/><stop offset="0.6624" stop-color="#502f7e"/><stop offset="0.6966" stop-color="#602d8a"/><stop offset="0.7222" stop-color="#713791"/><stop offset="0.735" stop-color="#7e4095"/><stop offset="0.7564" stop-color="#913d8f"/><stop offset="0.7692" stop-color="#a8428a"/><stop offset="0.7906" stop-color="#d6537b"/><stop offset="0.8034" stop-color="#ef696d"/><stop offset="0.8077" stop-color="#f4746e"/><stop offset="0.812" stop-color="#f68073"/><stop offset="0.8162" stop-color="#f7806e"/><stop offset="0.8248" stop-color="#fc9370"/><stop offset="0.8291" stop-color="#fd9d74"/><stop offset="0.8333" stop-color="#fdf9c9"/><stop offset="1" stop-color="#fdf9c9"/></linearGradient>
<linearGradient id="c70" x1="0" y1="0" x2="0" y2="1"><stop offset="0" stop-color="#f9907d"/><stop offset="0.1752" stop-color="#f88a7c"/><stop offset="0.2821" stop-color="#ef7980"/><stop offset="0.359" stop-color="#da678c"/><stop offset="0.4615" stop-color="#a6559a"/><stop offset="0.5342" stop-color="#7f4096"/><stop offset="0.6068" stop-color="#592c85"/><stop offset="0.6325" stop-color="#4e327b"/><stop offset="0.6538" stop-color="#4d3578"/><stop offset="0.6838" stop-color="#562c83"/><stop offset="0.7179" stop-color="#6b328e"/><stop offset="0.7393" stop-color="#7f3e94"/><stop offset="0.7607" stop-color="#953c8c"/><stop offset="0.7821" stop-color="#c34b83"/><stop offset="0.7949" stop-color="#df5977"/><stop offset="0.8034" stop-color="#ef696d"/><stop offset="0.8077" stop-color="#f4746d"/><stop offset="0.812" stop-color="#f68073"/><stop offset="0.8162" stop-color="#f7806e"/><stop offset="0.8248" stop-color="#fc9370"/><stop offset="0.8291" stop-color="#fd9d74"/><stop offset="0.8333" stop-color="#fdf9c9"/><stop offset="1" stop-color="#fdf9c9"/></linearGradient>
<linearGradient id="c71" x1="0" y1="0" x2="0" y2="1"><stop offset="0" stop-color="#f9907d"/><stop offset="0.1752" stop-color="#f88a7c"/><stop offset="0.2778" stop-color="#ef7980"/><stop offset="0.3419" stop-color="#e06b89"/><stop offset="0.4188" stop-color="#bc5c96"/><stop offset="0.5" stop-color="#904b9a"/><stop offset="0.5983" stop-color="#5d2d88"/><stop offset="0.6197" stop-color="#50307e"/><stop offset="0.6453" stop-color="#4c3a76"/><stop offset="0.6709" stop-color="#4f327c"/><stop offset="0.6966" stop-color="#5a2c86"/><stop offset="0.7222" stop-color="#6b338e"/><stop offset="0.7393" stop-color="#7c3d94"/><stop offset="0.7564" stop-color="#8d3b8e"/><stop offset="0.7778" stop-color="#b94886"/><stop offset="0.7949" stop-color="#de5877"/><stop offset="0.8034" stop-color="#ef696d"/><stop offset="0.8077" stop-color="#f4736d"/><stop offset="0.812" stop-color="#f68073"/><stop offset="0.8162" stop-color="#f7806d"/><stop offset="0.8248" stop-color="#fc9370"/><stop offset="0.8291" stop-color="#fd9d74"/><stop offset="0.8333" stop-color="#fdf9c9"/><stop offset="1" stop-color="#fdf9c9"/></linearGradient>
<linearGradient id="c72" x1="0" y1="0" x2="0" y2="1"><stop offset="0" stop-color="#f9907d"/><stop offset="0.1709" stop-color="#f88a7c"/><stop offset="0.2778" stop-color="#ef7980"/><stop offset="0.3333" stop-color="#e26c88"/><stop offset="0.4103" stop-color="#c05d95"/><stop offset="0.4915" stop-color="#944d9a"/><stop offset="0.594" stop-color="#5d2d88"/><stop offset="0.6154" stop-color="#502f7e"/><stop offset="0.641" stop-color="#4c3c73"/><stop offset="0.6581" stop-color="#4c3b75"/><stop offset="0.6923" stop-color="#562c83"/><stop offset="0.7222" stop-color="#69328d"/><stop offset="0.7393" stop-color="#7b3c93"/><stop offset="0.7564" stop-color="#8c3a8e"/><stop offset="0.7821" stop-color="#c04a84"/><stop offset="0.7949" stop-color="#de5877"/><stop offset="0.8034" stop-color="#ef696d"/><stop offset="0.8077" stop-color="#f4736c"/><stop offset="0.812" stop-color="#f67f73"/><stop offset="0.8162" stop-color="#f7806d"/><stop offset="0.8248" stop-color="#fc9370"/><stop offset="0.8291" stop-color="#fd9d74"/><stop offset="0.8333" stop-color="#fdf9c9"/><stop offset="1" stop-color="#fdf9c9"/></linearGradient>
<linearGradient id="c73" x1="0" y1="0" x2="0" y2="1"><stop offset="0" stop-color="#f9907d"/><stop offset="0.1709" stop-color="#f88a7c"/><stop offset="0.2778" stop-color="#ef7980"/><stop offset="0.3547" stop-color="#da678c"/><stop offset="0.4573" stop-color="#a6559a"/><stop offset="0.5299" stop-color="#7f4096"/><stop offset="0.5983" stop-color="#5a2c86"/><stop offset="0.6154" stop-color="#50317d"/><stop offset="0.6368" stop-color="#4c3d70"/><stop offset="0.6538" stop-color="#4a3e6f"/><stop offset="0.688" stop-color="#522d80"/><stop offset="0.7179" stop-color="#65308c"/><stop offset="0.7393" stop-color="#7b3b93"/><stop offset="0.7564" stop-color="#8c398e"/><stop offset="0.7821" stop-color="#c04a84"/><stop offset="0.7949" stop-color="#de5877"/><stop offset="0.8034" stop-color="#ef696d"/><stop offset="0.8077" stop-color="#f4736c"/><stop offset="0.812" stop-color="#f67f73"/><stop offset="0.8162" stop-color="#f7806d"/><stop offset="0.8248" stop-color="#fc9370"/><stop offset="0.8291" stop-color="#fd9d74"/><stop offset="0.8333" stop-color="#fdf9c9"/><stop offset="1" stop-color="#fdf9c9"/></linearGradient>
<linearGradient id="c74" x1="0" y1="0" x2="0" y2="1"><stop offset="0" stop-color="#f9907d"/><stop offset="0.1709" stop-color="#f88a7c"/><stop offset="0.2778" stop-color="#ef7980"/><stop offset="0.3504" stop-color="#db688b"/><stop offset="0.4316" stop-color="#b35998"/><stop offset="0.5" stop-color="#8e4a99"/><stop offset="0.594" stop-color="#5b2c87"/><stop offset="0.6111" stop-color="#50307e"/><stop offset="0.6325" stop-color="#4a3e6f"/><stop offset="0.6496" stop-color="#493f6a"/><stop offset="0.6709" stop-color="#4c3976"/><stop offset="0.6923" stop-color="#552d82"/><stop offset="0.7179" stop-color="#642f8b"/><stop offset="0.7393" stop-color="#7b3b93"/><stop offset="0.7564" stop-color="#8c398e"/><stop offset="0.7821" stop-color="#c04a84"/><stop offset="0.7949" stop-color="#de5877"/><stop offset="0.8034" stop-color="#ef696d"/><stop offset="0.8077" stop-color="#f4736c"/><stop offset="0.812" stop-color="#f67f73"/><stop offset="0.8162" stop-color="#f7806d"/><stop offset="0.8248" stop-color="#fc9370"/><stop offset="0.8291" stop-color="#fd9d74"/><stop offset="0.8333" stop-color="#fdf9c9"/><stop offset="1" stop-color="#fdf9c9"/></linearGradient>
<linearGradient id="c75" x1="0" y1="0" x2="0" y2="1"><stop offset="0" stop-color="#f9907d"/><stop offset="0.1709" stop-color="#f88a7c"/><stop offset="0.2735" stop-color="#ef7980"/><stop offset="0.3291" stop-color="#e26c88"/><stop offset="0.3974" stop-color="#c45e94"/><stop offset="0.4829" stop-color="#964e9a"/><stop offset="0.5812" stop-color="#622e8b"/><stop offset="0.6068" stop-color="#522e7f"/><stop offset="0.6325" stop-color="#493f6c"/><stop offset="0.6496" stop-color="#484068"/><stop offset="0.6709" stop-color="#4c3b73"/><stop offset="0.6923" stop-color="#532d81"/><stop offset="0.7179" stop-color="#642f8b"/><stop offset="0.7393" stop-color="#793b92"/><stop offset="0.7564" stop-color="#8a398d"/><stop offset="0.7821" stop-color="#c04a84"/><stop offset="0.7949" stop-color="#de5877"/><stop offset="0.8034" stop-color="#ef696d"/><stop offset="0.8077" stop-color="#f4736c"/><stop offset="0.812" stop-color="#f67f73"/><stop offset="0.8162" stop-color="#f7806d"/><stop offset="0.8248" stop-color="#fc9370"/><stop offset="0.8291" stop-color="#fd9d74"/><stop offset="0.8333" stop-color="#fdf9c9"/><stop offset="1" stop-color="#fdf9c9"/></linearGradient>
<linearGradient id="c76" x1="0" y1="0" x2="0" y2="1"><stop offset="0" stop-color="#f9907d"/><stop offset="0.1667" stop-color="#f88a7c"/><stop offset="0.2735" stop-color="#ef7980"/><stop offset="0.3462" stop-color="#db688b"/><stop offset="0.4359" stop-color="#ae5799"/><stop offset="0.5085" stop-color="#864597"/><stop offset="0.5855" stop-color="#5d2d88"/><stop offset="0.6026" stop-color="#512e7f"/><stop offset="0.6239" stop-color="#4b3e6f"/><stop offset="0.6453" stop-color="#443e60"/><stop offset="0.6709" stop-color="#4c3d70"/><stop offset="0.6923" stop-color="#512e7f"/><stop offset="0.7179" stop-color="#622e8b"/><stop offset="0.7393" stop-color="#793a92"/><stop offset="0.7564" stop-color="#8a388d"/><stop offset="0.7821" stop-color="#c04a84"/><stop offset="0.7949" stop-color="#de5877"/><stop offset="0.8034" stop-color="#ef696d"/><stop offset="0.8077" stop-color="#f4736c"/><stop offset="0.812" stop-color="#f68073"/><stop offset="0.8162" stop-color="#f7806e"/><stop offset="0.8248" stop-color="#fc9370"/><stop offset="0.8291" stop-color="#fd9d74"/><stop offset="0.8333" stop-color="#fdf9c9"/><stop offset="1" stop-color="#fdf9c9"/></linearGradient>
<linearGradient id="c77" x1="0" y1="0" x2="0" y2="1"><stop offset="0" stop-color="#f9907d"/><stop offset="0.1667" stop-color="#f88a7c"/><stop offset="0.2692" stop-color="#ef7980"/><stop offset="0.3291" stop-color="#e06b88"/><stop offset="0.4103" stop-color="#bb5b97"/><stop offset="0.4915" stop-color="#8e4a99"/><stop offset="0.5855" stop-color="#5b2c87"/><stop offset="0.6026" stop-color="#502f7e"/><stop offset="0.6239" stop-color="#493f6b"/><stop offset="0.641" stop-color="#423e5c"/><stop offset="0.6538" stop-color="#423e5d"/><stop offset="0.6752" stop-color="#4c3c72"/><stop offset="0.6966" stop-color="#532d81"/><stop offset="0.7222" stop-color="#65308c"/><stop offset="0.7393" stop-color="#783a92"/><stop offset="0.7564" stop-color="#8a388d"/><stop offset="0.7821" stop-color="#c24a84"/><stop offset="0.7949" stop-color="#de5877"/><stop offset="0.8034" stop-color="#ef696d"/><stop offset="0.8077" stop-color="#f4736d"/><stop offset="0.812" stop-color="#f68073"/><stop offset="0.8162" stop-color="#f7806e"/><stop offset="0.8248" stop-color="#fc9370"/><stop offset="0.8291" stop-color="#fd9d74"/><stop offset="0.8333" stop-color="#fdf9c9"/><stop offset="1" stop-color="#fdf9c9"/></linearGradient>
<linearGradient id="c78" x1="0" y1="0" x2="0" y2="1"><stop offset="0" stop-color="#f9907d"/><stop offset="0.1667" stop-color="#f88a7c"/><stop offset="0.2692" stop-color="#ef7980"/><stop offset="0.3376" stop-color="#dd698a"/><stop offset="0.4402" stop-color="#aa569a"/><stop offset="0.5171" stop-color="#804196"/><stop offset="0.5812" stop-color="#5f2d89"/><stop offset="0.5983" stop-color="#522d80"/><stop offset="0.6197" stop-color="#4a3e6e"/><stop offset="0.6368" stop-color="#423e5c"/><stop offset="0.6538" stop-color="#423e5c"/><stop offset="0.6752" stop-color="#4c3c72"/><stop offset="0.6966" stop-color="#532d81"/><stop offset="0.7179" stop-color="#622e8b"/><stop offset="0.7393" stop-color="#793a92"/><stop offset="0.7564" stop-color="#8b388d"/><stop offset="0.7778" stop-color="#b94886"/><stop offset="0.7949" stop-color="#df5977"/><stop offset="0.8034" stop-color="#ef6a6d"/><stop offset="0.8077" stop-color="#f4746d"/><stop offset="0.812" stop-color="#f78274"/><stop offset="0.8162" stop-color="#f7816e"/><stop offset="0.8205" stop-color="#fa896c"/><stop offset="0.8291" stop-color="#fd9d74"/><stop offset="0.8333" stop-color="#fdf9c9"/><stop offset="1" stop-color="#fdf9c9"/></linearGradient>
<linearGradient id="c79" x1="0" y1="0" x2="0" y2="1"><stop offset="0" stop-color="#f9907d"/><stop offset="0.1667" stop-color="#f88a7c"/><stop offset="0.2735" stop-color="#ee7781"/><stop offset="0.3462" stop-color="#d9678c"/><stop offset="0.4402" stop-color="#aa569a"/><stop offset="0.5171" stop-color="#7f4096"/><stop offset="0.5855" stop-color="#5b2c87"/><stop offset="0.6026" stop-color="#50307d"/><stop offset="0.6197" stop-color="#493e6d"/><stop offset="0.6368" stop-color="#423e5c"/><stop offset="0.6538" stop-color="#423e5c"/><stop offset="0.6709" stop-color="#4b3e6f"/><stop offset="0.6966" stop-color="#532d81"/><stop offset="0.7222" stop-color="#68318d"/><stop offset="0.735" stop-color="#773b93"/><stop offset="0.7521" stop-color="#87388e"/><stop offset="0.7692" stop-color="#a7428a"/><stop offset="0.7906" stop-color="#d7547b"/><stop offset="0.8034" stop-color="#ef6a6d"/><stop offset="0.8077" stop-color="#f4766e"/><stop offset="0.812" stop-color="#f78374"/><stop offset="0.8162" stop-color="#f8826f"/><stop offset="0.8205" stop-color="#fa896c"/><stop offset="0.8291" stop-color="#fd9d74"/><stop offset="0.8333" stop-color="#fdf9c9"/><stop offset="1" stop-color="#fdf9c9"/></linearGradient>
<linearGradient id="c80" x1="0" y1="0" x2="0" y2="1"><stop offset="0" stop-color="#f9907d"/><stop offset="0.1667" stop-color="#f88a7c"/><stop offset="0.2735" stop-color="#ee7781"/><stop offset="0.3419" stop-color="#db688b"/><stop offset="0.4316" stop-color="#ae5799"/><stop offset="0.5043" stop-color="#864597"/><stop offset="0.5812" stop-color="#5d2d88"/><stop offset="0.5983" stop-color="#512e7f"/><stop offset="0.6154" stop-color="#4c3c72"/><stop offset="0.6325" stop-color="#433e5e"/><stop offset="0.6496" stop-color="#413d5b"/><stop offset="0.6709" stop-color="#4a3e6f"/><stop offset="0.6966" stop-color="#552c82"/><stop offset="0.7222" stop-color="#68318d"/><stop offset="0.735" stop-color="#773b93"/><stop offset="0.7521" stop-color="#88388e"/><stop offset="0.7778" stop-color="#bc4886"/><stop offset="0.7949" stop-color="#e25b75"/><stop offset="0.8034" stop-color="#f06b6c"/><stop offset="0.812" stop-color="#f78375"/><stop offset="0.8162" stop-color="#f88370"/><stop offset="0.8205" stop-color="#fa896c"/><stop offset="0.8291" stop-color="#fd9d74"/><stop offset="0.8333" stop-color="#fdf9c9"/><stop offset="1" stop-color="#fdf9c9"/></linearGradient>
<linearGradient id="c81" x1="0" y1="0" x2="0" y2="1"><stop offset="0" stop-color="#f9907d"/><stop offset="0.1624" stop-color="#f88a7c"/><stop offset="0.2692" stop-color="#ef7980"/><stop offset="0.3419" stop-color="#db688b"/><stop offset="0.4188" stop-color="#b45998"/><stop offset="0.4915" stop-color="#8d4a98"/><stop offset="0.5726" stop-color="#622e8b"/><stop offset="0.5983" stop-color="#512e7f"/><stop offset="0.6154" stop-color="#4b3d70"/><stop offset="0.6325" stop-color="#433e5e"/><stop offset="0.6496" stop-color="#413d5b"/><stop offset="0.6667" stop-color="#493e6a"/><stop offset="0.6838" stop-color="#4f337c"/><stop offset="0.7009" stop-color="#572c84"/><stop offset="0.7265" stop-color="#6d348f"/><stop offset="0.735" stop-color="#783a93"/><stop offset="0.7521" stop-color="#87388e"/><stop offset="0.7692" stop-color="#aa428a"/><stop offset="0.7906" stop-color="#d9547a"/><stop offset="0.8034" stop-color="#f06b6c"/><stop offset="0.812" stop-color="#f88475"/><stop offset="0.8162" stop-color="#f88370"/><stop offset="0.8205" stop-color="#fa896c"/><stop offset="0.8291" stop-color="#fd9d74"/><stop offset="0.8333" stop-color="#fdf9c9"/><stop offset="1" stop-color="#fdf9c9"/></linearGradient>
<linearGradient id="c82" x1="0" y1="0" x2="0" y2="1"><stop offset="0" stop-color="#f9907d"/><stop offset="0.1624" stop-color="#f88a7c"/><stop offset="0.2692" stop-color="#ef7980"/><stop offset="0.3419" stop-color="#db688b"/><stop offset="0.4188" stop-color="#b45998"/><stop offset="0.4915" stop-color="#8d4a98"/><stop offset="0.5726" stop-color="#622e8b"/><stop offset="0.5983" stop-color="#512e7f"/><stop offset="0.6154" stop-color="#4b3d70"/><stop offset="0.6325" stop-color="#433e5e"/><stop offset="0.6496" stop-color="#413d5b"/><stop offset="0.6667" stop-color="#493e6a"/><stop offset="0.6838" stop-color="#4f337c"/><stop offset="0.7009" stop-color="#572c84"/><stop offset="0.7265" stop-color="#6d348f"/><stop offset="0.735" stop-color="#783a93"/><stop offset="0.7521" stop-color="#87388e"/><stop offset="0.7692" stop-color="#aa428a"/><stop offset="0.7906" stop-color="#d9547a"/><stop offset="0.8034" stop-color="#f06b6c"/><stop offset="0.812" stop-color="#f88475"/><stop offset="0.8162" stop-color="#f88370"/><stop offset="0.8205" stop-color="#fa896c"/><stop offset="0.8291" stop-color="#fd9d74"/><stop offset="0.8333" stop-color="#fdf9c9"/><stop offset="1" stop-color="#fdf9c9"/></linearGradient>
<linearGradient id="c83" x1="0" y1="0" x2="0" y2="1"><stop offset="0" stop-color="#f9907d"/><stop offset="0.1624" stop-color="#f88a7c"/><stop offset="0.2692" stop-color="#ef7980"/><stop offset="0.3419" stop-color="#db688b"/><stop offset="0.4188" stop-color="#b45998"/><stop offset="0.4915" stop-color="#8d4a98"/><stop offset="0.5726" stop-color="#622e8b"/><stop offset="0.5983" stop-color="#512e7f"/><stop offset="0.6154" stop-color="#4b3d70"/><stop offset="0.6325" stop-color="#433e5e"/><stop offset="0.6496" stop-color="#413d5b"/><stop offset="0.6667" stop-color="#493e6a"/><stop offset="0.6838" stop-color="#4f337c"/><stop offset="0.7009" stop-color="#572c84"/><stop offset="0.7265" stop-color="#6d348f"/><stop offset="0.735" stop-color="#783a93"/><stop offset="0.7521" stop-color="#87388e"/><stop offset="0.7692" stop-color="#aa428a"/><stop offset="0.7906" stop-color="#d9547a"/><stop offset="0.8034" stop-color="#f06b6c"/><stop offset="0.812" stop-color="#f88475"/><stop offset="0.8162" stop-color="#f88370"/><stop offset="0.8205" stop-color="#fa896c"/><stop offset="0.8291" stop-color="#fd9d74"/><stop offset="0.8333" stop-color="#fdf9c9"/><stop offset="1" stop-color="#fdf9c9"/></linearGradient>
<linearGradient id="c84" x1="0" y1="0" x2="0" y2="1"><stop offset="0" stop-color="#f9907d"/><stop offset="0.1624" stop-color="#f88a7c"/><stop offset="0.2692" stop-color="#ef7980"/><stop offset="0.3419" stop-color="#db688b"/><stop offset="0.4188" stop-color="#b45998"/><stop offset="0.4915" stop-color="#8d4a98"/><stop offset="0.5726" stop-color="#622e8b"/><stop offset="0.5983" stop-color="#512e7f"/><stop offset="0.6154" stop-color="#4b3d70"/><stop offset="0.6325" stop-color="#433e5e"/><stop offset="0.6496" stop-color="#413d5b"/><stop offset="0.6667" stop-color="#493e6a"/><stop offset="0.6838" stop-color="#4f337c"/><stop offset="0.7009" stop-color="#572c84"/><stop offset="0.7265" stop-color="#6d348f"/><stop offset="0.735" stop-color="#783a93"/><stop offset="0.7521" stop-color="#87388e"/><stop offset="0.7692" stop-color="#aa428a"/><stop offset="0.7906" stop-color="#d9547a"/><stop offset="0.8034" stop-color="#f06b6c"/><stop offset="0.812" stop-color="#f88475"/><stop offset="0.8162" stop-color="#f88370"/><stop offset="0.8205" stop-color="#fa896c"/><stop offset="0.8291" stop-color="#fd9d74"/><stop offset="0.8333" stop-color="#fdf9c9"/><stop offset="1" stop-color="#fdf9c9"/></linearGradient>
<linearGradient id="c85" x1="0" y1="0" x2="0" y2="1"><stop offset="0" stop-color="#f9907d"/><stop offset="0.1624" stop-color="#f88a7c"/><stop offset="0.2692" stop-color="#ef7980"/><stop offset="0.3419" stop-color="#db688b"/><stop offset="0.4188" stop-color="#b45998"/><stop offset="0.4915" stop-color="#8d4a98"/><stop offset="0.5726" stop-color="#622e8b"/><stop offset="0.5983" stop-color="#512e7f"/><stop offset="0.6154" stop-color="#4b3d70"/><stop offset="0.6325" stop-color="#433e5e"/><stop offset="0.6496" stop-color="#413d5b"/><stop offset="0.6667" stop-color="#493e6a"/><stop offset="0.6838" stop-color="#4f337c"/><stop offset="0.7009" stop-color="#572c84"/><stop offset="0.7265" stop-color="#6d348f"/><stop offset="0.735" stop-color="#783a93"/><stop offset="0.7521" stop-color="#87388e"/><stop offset="0.7692" stop-color="#aa428a"/><stop offset="0.7906" stop-color="#d9547a"/><stop offset="0.8034" stop-color="#f06b6c"/><stop offset="0.812" stop-color="#f88475"/><stop offset="0.8162" stop-color="#f88370"/><stop offset="0.8205" stop-color="#fa896c"/><stop offset="0.8291" stop-color="#fd9d74"/><stop offset="0.8333" stop-color="#fdf9c9"/><stop offset="1" stop-color="#fdf9c9"/></linearGradient>
<linearGradient id="c86" x1="0" y1="0" x2="0" y2="1"><stop offset="0" stop-color="#f9907d"/><stop offset="0.1624" stop-color="#f88a7c"/><stop offset="0.2692" stop-color="#ef7980"/><stop offset="0.3419" stop-color="#db688b"/><stop offset="0.4188" stop-color="#b45998"/><stop offset="0.4915" stop-color="#8d4a98"/><stop offset="0.5726" stop-color="#622e8b"/><stop offset="0.5983" stop-color="#512e7f"/><stop offset="0.6154" stop-color="#4b3d70"/><stop offset="0.6325" stop-color="#433e5e"/><stop offset="0.6496" stop-color="#413d5b"/><stop offset="0.6667" stop-color="#493e6a"/><stop offset="0.6838" stop-color="#4f337c"/><stop offset="0.7009" stop-color="#572c84"/><stop offset="0.7265" stop-color="#6d348f"/><stop offset="0.735" stop-color="#783a93"/><stop offset="0.7521" stop-color="#87388e"/><stop offset="0.7692" stop-color="#aa428a"/><stop offset="0.7906" stop-color="#d9547a"/><stop offset="0.8034" stop-color="#f06b6c"/><stop offset="0.812" stop-color="#f88475"/><stop offset="0.8162" stop-color="#f88370"/><stop offset="0.8205" stop-color="#fa896c"/><stop offset="0.8291" stop-color="#fd9d74"/><stop offset="0.8333" stop-color="#fdf9c9"/><stop offset="1" stop-color="#fdf9c9"/></linearGradient>
<linearGradient id="c87" x1="0" y1="0" x2="0" y2="1"><stop offset="0" stop-color="#f9907d"/><stop offset="0.1624" stop-color="#f88a7c"/><stop offset="0.2692" stop-color="#ef7980"/><stop offset="0.3419" stop-color="#db688b"/><stop offset="0.4188" stop-color="#b45998"/><stop offset="0.4915" stop-color="#8d4a98"/><stop offset="0.5726" stop-color="#622e8b"/><stop offset="0.5983" stop-color="#512e7f"/><stop offset="0.6154" stop-color="#4b3d70"/><stop offset="0.6325" stop-color="#433e5e"/><stop offset="0.6496" stop-color="#413d5b"/><stop offset="0.6667" stop-color="#493e6a"/><stop offset="0.6838" stop-color="#4f337c"/><stop offset="0.7009" stop-color="#572c84"/><stop offset="0.7265" stop-color="#6d348f"/><stop offset="0.735" stop-color="#783a93"/><stop offset="0.7521" stop-color="#87388e"/><stop offset="0.7692" stop-color="#aa428a"/><stop offset="0.7906" stop-color="#d9547a"/><stop offset="0.8034" stop-color="#f06b6c"/><stop offset="0.812" stop-color="#f88475"/><stop offset="0.8162" stop-color="#f88370"/><stop offset="0.8205" stop-color="#fa896c"/><stop offset="0.8291" stop-color="#fd9d74"/><stop offset="0.8333" stop-color="#fdf9c9"/><stop offset="1" stop-color="#fdf9c9"/></linearGradient>
<linearGradient id="c88" x1="0" y1="0" x2="0" y2="1"><stop offset="0" stop-color="#f9907d"/><stop offset="0.1624" stop-color="#f88a7c"/><stop offset="0.2692" stop-color="#ef7980"/><stop offset="0.3419" stop-color="#db688b"/><stop offset="0.4188" stop-color="#b45998"/><stop offset="0.4915" stop-color="#8d4a98"/><stop offset="0.5726" stop-color="#622e8b"/><stop offset="0.5983" stop-color="#512e7f"/><stop offset="0.6154" stop-color="#4b3d70"/><stop offset="0.6325" stop-color="#433e5e"/><stop offset="0.6496" stop-color="#413d5b"/><stop offset="0.6667" stop-color="#493e6a"/><stop offset="0.6838" stop-color="#4f337c"/><stop offset="0.7009" stop-color="#572c84"/><stop offset="0.7265" stop-color="#6d348f"/><stop offset="0.735" stop-color="#783a93"/><stop offset="0.7521" stop-color="#87388e"/><stop offset="0.7692" stop-color="#aa428a"/><stop offset="0.7906" stop-color="#d9547a"/><stop offset="0.8034" stop-color="#f06b6c"/><stop offset="0.812" stop-color="#f88475"/><stop offset="0.8162" stop-color="#f88370"/><stop offset="0.8205" stop-color="#fa896c"/><stop offset="0.8291" stop-color="#fd9d74"/><stop offset="0.8333" stop-color="#fdf9c9"/><stop offset="1" stop-color="#fdf9c9"/></linearGradient>
<linearGradient id="c89" x1="0" y1="0" x2="0" y2="1"><stop offset="0" stop-color="#f9907d"/><stop offset="0.1624" stop-color="#f88a7c"/><stop offset="0.2692" stop-color="#ef7980"/><stop offset="0.3419" stop-color="#db688b"/><stop offset="0.4188" stop-color="#b45998"/><stop offset="0.4915" stop-color="#8d4a98"/><stop offset="0.5726" stop-color="#622e8b"/><stop offset="0.5983" stop-color="#512e7f"/><stop offset="0.6154" stop-color="#4b3d70"/><stop offset="0.6325" stop-color="#433e5e"/><stop offset="0.6496" stop-color="#413d5b"/><stop offset="0.6667" stop-color="#493e6a"/><stop offset="0.6838" stop-color="#4f337c"/><stop offset="0.7009" stop-color="#572c84"/><stop offset="0.7265" stop-color="#6d348f"/><stop offset="0.735" stop-color="#783a93"/><stop offset="0.7521" stop-color="#87388e"/><stop offset="0.7692" stop-color="#aa428a"/><stop offset="0.7906" stop-color="#d9547a"/><stop offset="0.8034" stop-color="#f06b6c"/><stop offset="0.812" stop-color="#f88475"/><stop offset="0.8162" stop-color="#f88370"/><stop offset="0.8205" stop-color="#fa896c"/><stop offset="0.8291" stop-color="#fd9d74"/><stop offset="0.8333" stop-color="#fdf9c9"/><stop offset="1" stop-color="#fdf9c9"/></linearGradient>
<linearGradient id="c90" x1="0" y1="0" x2="0" y2="1"><stop offset="0" stop-color="#f9907d"/><stop offset="0.1624" stop-color="#f88a7c"/><stop offset="0.2692" stop-color="#ef7980"/><stop offset="0.3419" stop-color="#db688b"/><stop offset="0.4188" stop-color="#b45998"/><stop offset="0.4915" stop-color="#8d4a98"/><stop offset="0.5726" stop-color="#622e8b"/><stop offset="0.5983" stop-color="#512e7f"/><stop offset="0.6154" stop-color="#4b3d70"/><stop offset="0.6325" stop-color="#433e5e"/><stop offset="0.6496" stop-color="#413d5b"/><stop offset="0.6667" stop-color="#493e6a"/><stop offset="0.6838" stop-color="#4f337c"/><stop offset="0.7009" stop-color="#572c84"/><stop offset="0.7265" stop-color="#6d348f"/><stop offset="0.735" stop-color="#783a93"/><stop offset="0.7521" stop-color="#87388e"/><stop offset="0.7692" stop-color="#aa428a"/><stop offset="0.7906" stop-color="#d9547a"/><stop offset="0.8034" stop-color="#f06b6c"/><stop offset="0.812" stop-color="#f88475"/><stop offset="0.8162" stop-color="#f88370"/><stop offset="0.8205" stop-color="#fa896c"/><stop offset="0.8291" stop-color="#fd9d74"/><stop offset="0.8333" stop-color="#fdf9c9"/><stop offset="1" stop-color="#fdf9c9"/></linearGradient>
<linearGradient id="c91" x1="0" y1="0" x2="0" y2="1"><stop offset="0" stop-color="#f9907d"/><stop offset="0.1624" stop-color="#f88a7c"/><stop offset="0.2692" stop-color="#ef7980"/><stop offset="0.3419" stop-color="#db688b"/><stop offset="0.4188" stop-color="#b45998"/><stop offset="0.4915" stop-color="#8d4a98"/><stop offset="0.5726" stop-color="#622e8b"/><stop offset="0.5983" stop-color="#512e7f"/><stop offset="0.6154" stop-color="#4b3d70"/><stop offset="0.6325" stop-color="#433e5e"/><stop offset="0.6496" stop-color="#413d5b"/><stop offset="0.6667" stop-color="#493e6a"/><stop offset="0.6838" stop-color="#4f337c"/><stop offset="0.7009" stop-color="#572c84"/><stop offset="0.7265" stop-color="#6d348f"/><stop offset="0.735" stop-color="#783a93"/><stop offset="0.7521" stop-color="#87388e"/><stop offset="0.7692" stop-color="#aa428a"/><stop offset="0.7906" stop-color="#d9547a"/><stop offset="0.8034" stop-color="#f06b6c"/><stop offset="0.812" stop-color="#f88475"/><stop offset="0.8162" stop-color="#f88370"/><stop offset="0.8205" stop-color="#fa896c"/><stop offset="0.8291" stop-color="#fd9d74"/><stop offset="0.8333" stop-color="#fdf9c9"/><stop offset="1" stop-color="#fdf9c9"/></linearGradient>
<linearGradient id="c92" x1="0" y1="0" x2="0" y2="1"><stop offset="0" stop-color="#f9907d"/><stop offset="0.1624" stop-color="#f88a7c"/><stop offset="0.2692" stop-color="#ef7980"/><stop offset="0.3419" stop-color="#db688b"/><stop offset="0.4188" stop-color="#b45998"/><stop offset="0.4915" stop-color="#8d4a98"/><stop offset="0.5726" stop-color="#622e8b"/><stop offset="0.5983" stop-color="#512e7f"/><stop offset="0.6154" stop-color="#4b3d70"/><stop offset="0.6325" stop-color="#433e5e"/><stop offset="0.6496" stop-color="#413d5b"/><stop offset="0.6667" stop-color="#493e6a"/><stop offset="0.6838" stop-color="#4f337c"/><stop offset="0.7009" stop-color="#572c84"/><stop offset="0.7265" stop-color="#6d348f"/><stop offset="0.735" stop-color="#783a93"/><stop offset="0.7521" stop-color="#87388e"/><stop offset="0.7692" stop-color="#aa428a"/><stop offset="0.7906" stop-color="#d9547a"/><stop offset="0.8034" stop-color="#f06b6c"/><stop offset="0.812" stop-color="#f88475"/><stop offset="0.8162" stop-color="#f88370"/><stop offset="0.8205" stop-color="#fa896c"/><stop offset="0.8291" stop-color="#fd9d74"/><stop offset="0.8333" stop-color="#fdf9c9"/><stop offset="1" stop-color="#fdf9c9"/></linearGradient>
<linearGradient id="c93" x1="0" y1="0" x2="0" y2="1"><stop offset="0" stop-color="#f9907d"/><stop offset="0.1624" stop-color="#f88a7c"/><stop offset="0.2692" stop-color="#ef7980"/><stop offset="0.3419" stop-color="#db688b"/><stop offset="0.4188" stop-color="#b45998"/><stop offset="0.4915" stop-color="#8d4a98"/><stop offset="0.5726" stop-color="#622e8b"/><stop offset="0.5983" stop-color="#512e7f"/><stop offset="0.6154" stop-color="#4b3d70"/><stop offset="0.6325" stop-color="#433e5e"/><stop offset="0.6496" stop-color="#413d5b"/><stop offset="0.6667" stop-color="#493e6a"/><stop offset="0.6838" stop-color="#4f337c"/><stop offset="0.7009" stop-color="#572c84"/><stop offset="0.7265" stop-color="#6d348f"/><stop offset="0.735" stop-color="#783a93"/><stop offset="0.7521" stop-color="#87388e"/><stop offset="0.7692" stop-color="#aa428a"/><stop offset="0.7906" stop-color="#d9547a"/><stop offset="0.8034" stop-color="#f06b6c"/><stop offset="0.812" stop-color="#f88475"/><stop offset="0.8162" stop-color="#f88370"/><stop offset="0.8205" stop-color="#fa896c"/><stop offset="0.8291" stop-color="#fd9d74"/><stop offset="0.8333" stop-color="#fdf9c9"/><stop offset="1" stop-color="#fdf9c9"/></linearGradient>
<linearGradient id="c94" x1="0" y1="0" x2="0" y2="1"><stop offset="0" stop-color="#f9907d"/><stop offset="0.1624" stop-color="#f88a7c"/><stop offset="0.2692" stop-color="#ef7980"/><stop offset="0.3419" stop-color="#db688b"/><stop offset="0.4188" stop-color="#b45998"/><stop offset="0.4915" stop-color="#8d4a98"/><stop offset="0.5726" stop-color="#622e8b"/><stop offset="0.5983" stop-color="#512e7f"/><stop offset="0.6154" stop-color="#4b3d70"/><stop offset="0.6325" stop-color="#433e5e"/><stop offset="0.6496" stop-color="#413d5b"/><stop offset="0.6667" stop-color="#493e6a"/><stop offset="0.6838" stop-color="#4f337c"/><stop offset="0.7009" stop-color="#572c84"/><stop offset="0.7265" stop-color="#6d348f"/><stop offset="0.735" stop-color="#783a93"/><stop offset="0.7521" stop-color="#87388e"/><stop offset="0.7692" stop-color="#aa428a"/><stop offset="0.7906" stop-color="#d9547a"/><stop offset="0.8034" stop-color="#f06b6c"/><stop offset="0.812" stop-color="#f88475"/><stop offset="0.8162" stop-color="#f88370"/><stop offset="0.8205" stop-color="#fa896c"/><stop offset="0.8291" stop-color="#fd9d74"/><stop offset="0.8333" stop-color="#fdf9c9"/><stop offset="1" stop-color="#fdf9c9"/></linearGradient>
<linearGradient id="c95" x1="0" y1="0" x2="0" y2="1"><stop offset="0" stop-color="#f9907d"/><stop offset="0.1624" stop-color="#f88a7c"/><stop offset="0.2692" stop-color="#ef7980"/><stop offset="0.3419" stop-color="#db688b"/><stop offset="0.4188" stop-color="#b45998"/><stop offset="0.4915" stop-color="#8d4a98"/><stop offset="0.5726" stop-color="#622e8b"/><stop offset="0.5983" stop-color="#512e7f"/><stop offset="0.6154" stop-color="#4b3d70"/><stop offset="0.6325" stop-color="#433e5e"/><stop offset="0.6496" stop-color="#413d5b"/><stop offset="0.6667" stop-color="#493e6a"/><stop offset="0.6838" stop-color="#4f337c"/><stop offset="0.7009" stop-color="#572c84"/><stop offset="0.7265" stop-color="#6d348f"/><stop offset="0.735" stop-color="#783a93"/><stop offset="0.7521" stop-color="#87388e"/><stop offset="0.7692" stop-color="#aa428a"/><stop offset="0.7906" stop-color="#d9547a"/><stop offset="0.8034" stop-color="#f06b6c"/><stop offset="0.812" stop-color="#f88475"/><stop offset="0.8162" stop-color="#f88370"/><stop offset="0.8205" stop-color="#fa896c"/><stop offset="0.8291" stop-color="#fd9d74"/><stop offset="0.8333" stop-color="#fdf9c9"/><stop offset="1" stop-color="#fdf9c9"/></linearGradient>
<linearGradient id="c96" x1="0" y1="0" x2="0" y2="1"><stop offset="0" stop-color="#f9907d"/><stop offset="0.1624" stop-color="#f88a7c"/><stop offset="0.2692" stop-color="#ef7980"/><stop offset="0.3419" stop-color="#db688b"/><stop offset="0.4188" stop-color="#b45998"/><stop offset="0.4915" stop-color="#8d4a98"/><stop offset="0.5726" stop-color="#622e8b"/><stop offset="0.5983" stop-color="#512e7f"/><stop offset="0.6154" stop-color="#4b3d70"/><stop offset="0.6325" stop-color="#433e5e"/><stop offset="0.6496" stop-color="#413d5b"/><stop offset="0.6667" stop-color="#493e6a"/><stop offset="0.6838" stop-color="#4f337c"/><stop offset="0.7009" stop-color="#572c84"/><stop offset="0.7265" stop-color="#6d348f"/><stop offset="0.735" stop-color="#783a93"/><stop offset="0.7521" stop-color="#87388e"/><stop offset="0.7692" stop-color="#aa428a"/><stop offset="0.7906" stop-color="#d9547a"/><stop offset="0.8034" stop-color="#f06b6c"/><stop offset="0.812" stop-color="#f88475"/><stop offset="0.8162" stop-color="#f88370"/><stop offset="0.8205" stop-color="#fa896c"/><stop offset="0.8291" stop-color="#fd9d74"/><stop offset="0.8333" stop-color="#fdf9c9"/><stop offset="1" stop-color="#fdf9c9"/></linearGradient>
<linearGradient id="c97" x1="0" y1="0" x2="0" y2="1"><stop offset="0" stop-color="#f9907d"/><stop offset="0.1624" stop-color="#f88a7c"/><stop offset="0.2692" stop-color="#ef7980"/><stop offset="0.3419" stop-color="#db688b"/><stop offset="0.4188" stop-color="#b45998"/><stop offset="0.4915" stop-color="#8d4a98"/><stop offset="0.5726" stop-color="#622e8b"/><stop offset="0.5983" stop-color="#512e7f"/><stop offset="0.6154" stop-color="#4b3d70"/><stop offset="0.6325" stop-color="#433e5e"/><stop offset="0.6496" stop-color="#413d5b"/><stop offset="0.6667" stop-color="#493e6a"/><stop offset="0.6838" stop-color="#4f337c"/><stop offset="0.7009" stop-color="#572c84"/><stop offset="0.7265" stop-color="#6d348f"/><stop offset="0.735" stop-color="#783a93"/><stop offset="0.7521" stop-color="#87388e"/><stop offset="0.7692" stop-color="#aa428a"/><stop offset="0.7906" stop-color="#d9547a"/><stop offset="0.8034" stop-color="#f06b6c"/><stop offset="0.812" stop-color="#f88475"/><stop offset="0.8162" stop-color="#f88370"/><stop offset="0.8205" stop-color="#fa896c"/><stop offset="0.8291" stop-color="#fd9d74"/><stop offset="0.8333" stop-color="#fdf9c9"/><stop offset="1" stop-color="#fdf9c9"/></linearGradient>
<linearGradient id="c98" x1="0" y1="0" x2="0" y2="1"><stop offset="0" stop-color="#f9907d"/><stop offset="0.1624" stop-color="#f88a7c"/><stop offset="0.2692" stop-color="#ef7980"/><stop offset="0.3419" stop-color="#db688b"/><stop offset="0.4188" stop-color="#b45998"/><stop offset="0.4915" stop-color="#8d4a98"/><stop offset="0.5726" stop-color="#622e8b"/><stop offset="0.5983" stop-color="#512e7f"/><stop offset="0.6154" stop-color="#4b3d70"/><stop offset="0.6325" stop-color="#433e5e"/><stop offset="0.6496" stop-color="#413d5b"/><stop offset="0.6667" stop-color="#493e6a"/><stop offset="0.6838" stop-color="#4f337c"/><stop offset="0.7009" stop-color="#572c84"/><stop offset="0.7265" stop-color="#6d348f"/><stop offset="0.735" stop-color="#783a93"/><stop offset="0.7521" stop-color="#87388e"/><stop offset="0.7692" stop-color="#aa428a"/><stop offset="0.7906" stop-color="#d9547a"/><stop offset="0.8034" stop-color="#f06b6c"/><stop offset="0.812" stop-color="#f88475"/><stop offset="0.8162" stop-color="#f88370"/><stop offset="0.8205" stop-color="#fa896c"/><stop offset="0.8291" stop-color="#fd9d74"/><stop offset="0.8333" stop-color="#fdf9c9"/><stop offset="1" stop-color="#fdf9c9"/></linearGradient>
<linearGradient id="c99" x1="0" y1="0" x2="0" y2="1"><stop offset="0" stop-color="#f9907d"/><stop offset="0.1624" stop-color="#f88a7c"/><stop offset="0.2692" stop-color="#ef7980"/><stop offset="0.3419" stop-color="#db688b"/><stop offset="0.4188" stop-color="#b45998"/><stop offset="0.4915" stop-color="#8d4a98"/><stop offset="0.5726" stop-color="#622e8b"/><stop offset="0.5983" stop-color="#512e7f"/><stop offset="0.6154" stop-color="#4b3d70"/><stop offset="0.6325" stop-color="#433e5e"/><stop offset="0.6496" stop-color="#413d5b"/><stop offset="0.6667" stop-color="#493e6a"/><stop offset="0.6838" stop-color="#4f337c"/><stop offset="0.7009" stop-color="#572c84"/><stop offset="0.7265" stop-color="#6d348f"/><stop offset="0.735" stop-color="#783a93"/><stop offset="0.7521" stop-color="#87388e"/><stop offset="0.7692" stop-color="#aa428a"/><stop offset="0.7906" stop-color="#d9547a"/><stop offset="0.8034" stop-color="#f06b6c"/><stop offset="0.812" stop-color="#f88475"/><stop offset="0.8162" stop-color="#f88370"/><stop offset="0.8205" stop-color="#fa896c"/><stop offset="0.8291" stop-color="#fd9d74"/><stop offset="0.8333" stop-color="#fdf9c9"/><stop offset="1" stop-color="#fdf9c9"/></linearGradient>
<linearGradient id="c100" x1="0" y1="0" x2="0" y2="1"><stop offset="0" stop-color="#f9907d"/><stop offset="0.1624" stop-color="#f88a7c"/><stop offset="0.2692" stop-color="#ef7980"/><stop offset="0.3419" stop-color="#db688b"/><stop offset="0.4188" stop-color="#b45998"/><stop offset="0.4915" stop-color="#8d4a98"/><stop offset="0.5726" stop-color="#622e8b"/><stop offset="0.5983" stop-color="#512e7f"/><stop offset="0.6154" stop-color="#4b3d70"/><stop offset="0.6325" stop-color="#433e5e"/><stop offset="0.6496" stop-color="#413d5b"/><stop offset="0.6667" stop-color="#493e6a"/><stop offset="0.6838" stop-color="#4f337c"/><stop offset="0.7009" stop-color="#572c84"/><stop offset="0.7265" stop-color="#6d348f"/><stop offset="0.735" stop-color="#783a93"/><stop offset="0.7521" stop-color="#87388e"/><stop offset="0.7692" stop-color="#aa428a"/><stop offset="0.7906" stop-color="#d9547a"/><stop offset="0.8034" stop-color="#f06b6c"/><stop offset="0.812" stop-color="#f88475"/><stop offset="0.8162" stop-color="#f88370"/><stop offset="0.8205" stop-color="#fa896c"/><stop offset="0.8291" stop-color="#fd9d74"/><stop offset="0.8333" stop-color="#fdf9c9"/><stop offset="1" stop-color="#fdf9c9"/></linearGradient>
<linearGradient id="c101" x1="0" y1="0" x2="0" y2="1"><stop offset="0" stop-color="#f9907d"/><stop offset="0.1624" stop-color="#f88a7c"/><stop offset="0.2692" stop-color="#ef7980"/><stop offset="0.3419" stop-color="#db688b"/><stop offset="0.4188" stop-color="#b45998"/><stop offset="0.4915" stop-color="#8d4a98"/><stop offset="0.5726" stop-color="#622e8b"/><stop offset="0.5983" stop-color="#512e7f"/><stop offset="0.6154" stop-color="#4b3d70"/><stop offset="0.6325" stop-color="#433e5e"/><stop offset="0.6496" stop-color="#413d5b"/><stop offset="0.6667" stop-color="#493e6a"/><stop offset="0.6838" stop-color="#4f337c"/><stop offset="0.7009" stop-color="#572c84"/><stop offset="0.7265" stop-color="#6d348f"/><stop offset="0.735" stop-color="#783a93"/><stop offset="0.7521" stop-color="#87388e"/><stop offset="0.7692" stop-color="#aa428a"/><stop offset="0.7906" stop-color="#d9547a"/><stop offset="0.8034" stop-color="#f06b6c"/><stop offset="0.812" stop-color="#f88475"/><stop offset="0.8162" stop-color="#f88370"/><stop offset="0.8205" stop-color="#fa896c"/><stop offset="0.8291" stop-color="#fd9d74"/><stop offset="0.8333" stop-color="#fdf9c9"/><stop offset="1" stop-color="#fdf9c9"/></linearGradient>
<linearGradient id="c102" x1="0" y1="0" x2="0" y2="1"><stop offset="0" stop-color="#f9907d"/><stop offset="0.1624" stop-color="#f88a7c"/><stop offset="0.2692" stop-color="#ef7980"/><stop offset="0.3419" stop-color="#db688b"/><stop offset="0.4188" stop-color="#b45998"/><stop offset="0.4915" stop-color="#8d4a98"/><stop offset="0.5726" stop-color="#622e8b"/><stop offset="0.5983" stop-color="#512e7f"/><stop offset="0.6154" stop-color="#4b3d70"/><stop offset="0.6325" stop-color="#433e5e"/><stop offset="0.6496" stop-color="#413d5b"/><stop offset="0.6667" stop-color="#493e6a"/><stop offset="0.6838" stop-color="#4f337c"/><stop offset="0.7009" stop-color="#572c84"/><stop offset="0.7265" stop-color="#6d348f"/><stop offset="0.735" stop-color="#783a93"/><stop offset="0.7521" stop-color="#87388e"/><stop offset="0.7692" stop-color="#aa428a"/><stop offset="0.7906" stop-color="#d9547a"/><stop offset="0.8034" stop-color="#f06b6c"/><stop offset="0.812" stop-color="#f88475"/><stop offset="0.8162" stop-color="#f88370"/><stop offset="0.8205" stop-color="#fa896c"/><stop offset="0.8291" stop-color="#fd9d74"/><stop offset="0.8333" stop-color="#fdf9c9"/><stop offset="1" stop-color="#fdf9c9"/></linearGradient>
<linearGradient id="c103" x1="0" y1="0" x2="0" y2="1"><stop offset="0" stop-color="#f9907d"/><stop offset="0.1624" stop-color="#f88a7c"/><stop offset="0.2692" stop-color="#ef7980"/><stop offset="0.3419" stop-color="#db688b"/><stop offset="0.4188" stop-color="#b45998"/><stop offset="0.4915" stop-color="#8d4a98"/><stop offset="0.5726" stop-color="#622e8b"/><stop offset="0.5983" stop-color="#512e7f"/><stop offset="0.6154" stop-color="#4b3d70"/><stop offset="0.6325" stop-color="#433e5e"/><stop offset="0.6496" stop-color="#413d5b"/><stop offset="0.6667" stop-color="#493e6a"/><stop offset="0.6838" stop-color="#4f337c"/><stop offset="0.7009" stop-color="#572c84"/><stop offset="0.7265" stop-color="#6d348f"/><stop offset="0.735" stop-color="#783a93"/><stop offset="0.7521" stop-color="#87388e"/><stop offset="0.7692" stop-color="#aa428a"/><stop offset="0.7906" stop-color="#d9547a"/><stop offset="0.8034" stop-color="#f06b6c"/><stop offset="0.812" stop-color="#f88475"/><stop offset="0.8162" stop-color="#f88370"/><stop offset="0.8205" stop-color="#fa896c"/><stop offset="0.8291" stop-color="#fd9d74"/><stop offset="0.8333" stop-color="#fdf9c9"/><stop offset="1" stop-color="#fdf9c9"/></linearGradient>
<linearGradient id="c104" x1="0" y1="0" x2="0" y2="1"><stop offset="0" stop-color="#f9907d"/><stop offset="0.1624" stop-color="#f88a7c"/><stop offset="0.2692" stop-color="#ef7980"/><stop offset="0.3419" stop-color="#db688b"/><stop offset="0.4188" stop-color="#b45998"/><stop offset="0.4915" stop-color="#8d4a98"/><stop offset="0.5726" stop-color="#622e8b"/><stop offset="0.5983" stop-color="#512e7f"/><stop offset="0.6154" stop-color="#4b3d70"/><stop offset="0.6325" stop-color="#433e5e"/><stop offset="0.6496" stop-color="#413d5b"/><stop offset="0.6667" stop-color="#493e6a"/><stop offset="0.6838" stop-color="#4f337c"/><stop offset="0.7009" stop-color="#572c84"/><stop offset="0.7265" stop-color="#6d348f"/><stop offset="0.735" stop-color="#783a93"/><stop offset="0.7521" stop-color="#87388e"/><stop offset="0.7692" stop-color="#aa428a"/><stop offset="0.7906" stop-color="#d9547a"/><stop offset="0.8034" stop-color="#f06b6c"/><stop offset="0.812" stop-color="#f88475"/><stop offset="0.8162" stop-color="#f88370"/><stop offset="0.8205" stop-color="#fa896c"/><stop offset="0.8291" stop-color="#fd9d74"/><stop offset="0.8333" stop-color="#fdf9c9"/><stop offset="1" stop-color="#fdf9c9"/></linearGradient>
<linearGradient id="d0" x1="0" y1="0" x2="0" y2="1"><stop offset="0" stop-color="#fa937d"/><stop offset="0.8193" stop-color="#fa937d"/><stop offset="0.8235" stop-color="#fb8d71"/><stop offset="0.8277" stop-color="#fc926f"/><stop offset="0.8319" stop-color="#fd9c73"/><stop offset="0.8361" stop-color="#fdf9c9"/><stop offset="0.9966" stop-color="#fdf9c9"/></linearGradient>
<linearGradient id="d1" x1="0" y1="0" x2="0" y2="1"><stop offset="0" stop-color="#fa937d"/><stop offset="0.8193" stop-color="#fa937d"/><stop offset="0.8235" stop-color="#fb8d71"/><stop offset="0.8277" stop-color="#fc926f"/><stop offset="0.8319" stop-color="#fd9c73"/><stop offset="0.8361" stop-color="#fdf9c9"/><stop offset="0.9966" stop-color="#fdf9c9"/></linearGradient>
<linearGradient id="d2" x1="0" y1="0" x2="0" y2="1"><stop offset="0" stop-color="#fa937d"/><stop offset="0.815" stop-color="#fa917d"/><stop offset="0.8193" stop-color="#fa937d"/><stop offset="0.8235" stop-color="#fb8d71"/><stop offset="0.8277" stop-color="#fc926f"/><stop offset="0.8319" stop-color="#fd9c73"/><stop offset="0.8361" stop-color="#fdf9c9"/><stop offset="0.9966" stop-color="#fdf9c9"/></linearGradient>
<linearGradient id="d3" x1="0" y1="0" x2="0" y2="1"><stop offset="0" stop-color="#fa937d"/><stop offset="0.6292" stop-color="#f98f7d"/><stop offset="0.8193" stop-color="#fa917d"/><stop offset="0.8235" stop-color="#fb8d71"/><stop offset="0.8277" stop-color="#fc926f"/><stop offset="0.8319" stop-color="#fd9c73"/><stop offset="0.8361" stop-color="#fdf9c9"/><stop offset="0.9966" stop-color="#fdf9c9"/></linearGradient>
<linearGradient id="d4" x1="0" y1="0" x2="0" y2="1"><stop offset="0" stop-color="#fa937d"/><stop offset="0.5912" stop-color="#f98f7d"/><stop offset="0.7601" stop-color="#f98e7d"/><stop offset="0.8193" stop-color="#fa917d"/><stop offset="0.8235" stop-color="#fb8d71"/><stop offset="0.8277" stop-color="#fc926f"/><stop offset="0.8319" stop-color="#fd9c73"/><stop offset="0.8361" stop-color="#fdf9c9"/><stop offset="0.9966" stop-color="#fdf9c9"/></linearGradient>
<linearGradient id="d5" x1="0" y1="0" x2="0" y2="1"><stop offset="0" stop-color="#fa937d"/><stop offset="0.6039" stop-color="#f98e7d"/><stop offset="0.7052" stop-color="#f88c7c"/><stop offset="0.8193" stop-color="#fa917d"/><stop offset="0.8235" stop-color="#fb8d71"/><stop offset="0.8277" stop-color="#fc926f"/><stop offset="0.8319" stop-color="#fd9c73"/><stop offset="0.8361" stop-color="#fdf9c9"/><stop offset="0.9966" stop-color="#fdf9c9"/></linearGradient>
<linearGradient id="d6" x1="0" y1="0" x2="0" y2="1"><stop offset="0" stop-color="#fa937d"/><stop offset="0.5828" stop-color="#f98e7d"/><stop offset="0.7221" stop-color="#f88b7c"/><stop offset="0.8193" stop-color="#fa917d"/><stop offset="0.8235" stop-color="#fb8d71"/><stop offset="0.8277" stop-color="#fc926f"/><stop offset="0.8319" stop-color="#fd9c73"/><stop offset="0.8361" stop-color="#fdf9c9"/><stop offset="0.9966" stop-color="#fdf9c9"/></linearGradient>
<linearGradient id="d7" x1="0" y1="0" x2="0" y2="1"><stop offset="0" stop-color="#fa937d"/><stop offset="0.5701" stop-color="#f98e7d"/><stop offset="0.7095" stop-color="#f88a7c"/><stop offset="0.8193" stop-color="#fa917d"/><stop offset="0.8235" stop-color="#fb8c71"/><stop offset="0.8277" stop-color="#fc926f"/><stop offset="0.8319" stop-color="#fd9c73"/><stop offset="0.8361" stop-color="#fdf9c9"/><stop offset="0.9966" stop-color="#fdf9c9"/></linearGradient>
<linearGradient id="d8" x1="0" y1="0" x2="0" y2="1"><stop offset="0" stop-color="#fa937d"/><stop offset="0.5574" stop-color="#f98e7d"/><stop offset="0.6926" stop-color="#f7887c"/><stop offset="0.7813" stop-color="#f98e7d"/><stop offset="0.8193" stop-color="#fa917d"/><stop offset="0.8235" stop-color="#fb8c71"/><stop offset="0.8277" stop-color="#fc926f"/><stop offset="0.8319" stop-color="#fd9c73"/><stop offset="0.8361" stop-color="#fdf9c9"/><stop offset="0.9966" stop-color="#fdf9c9"/></linearGradient>
<linearGradient id="d9" x1="0" y1="0" x2="0" y2="1"><stop offset="0" stop-color="#fa937d"/><stop offset="0.5448" stop-color="#f98e7d"/><stop offset="0.701" stop-color="#f7877c"/><stop offset="0.8193" stop-color="#fa917d"/><stop offset="0.8235" stop-color="#fb8c71"/><stop offset="0.8277" stop-color="#fc926f"/><stop offset="0.8319" stop-color="#fd9c73"/><stop offset="0.8361" stop-color="#fdf9c9"/><stop offset="0.9966" stop-color="#fdf9c9"/></linearGradient>
<linearGradient id="d10" x1="0" y1="0" x2="0" y2="1"><stop offset="0" stop-color="#fa937d"/><stop offset="0.5363" stop-color="#f98e7d"/><stop offset="0.6883" stop-color="#f6857d"/><stop offset="0.7855" stop-color="#f98e7d"/><stop offset="0.8193" stop-color="#fa917d"/><stop offset="0.8235" stop-color="#fb8c71"/><stop offset="0.8277" stop-color="#fc926f"/><stop offset="0.8319" stop-color="#fd9c73"/><stop offset="0.8361" stop-color="#fdf9c9"/><stop offset="0.9966" stop-color="#fdf9c9"/></linearGradient>
<linearGradient id="d11" x1="0" y1="0" x2="0" y2="1"><stop offset="0" stop-color="#fa937d"/><stop offset="0.5236" stop-color="#f98e7d"/><stop offset="0.6799" stop-color="#f6857d"/><stop offset="0.7728" stop-color="#f88b7c"/><stop offset="0.8193" stop-color="#fa917d"/><stop offset="0.8235" stop-color="#fb8c71"/><stop offset="0.8277" stop-color="#fc926f"/><stop offset="0.8319" stop-color="#fd9c73"/><stop offset="0.8361" stop-color="#fdf9c9"/><stop offset="0.9966" stop-color="#fdf9c9"/></linearGradient>
<linearGradient id="d12" x1="0" y1="0" x2="0" y2="1"><stop offset="0" stop-color="#fa937d"/><stop offset="0.5152" stop-color="#f98e7d"/><stop offset="0.6841" stop-color="#f5847d"/><stop offset="0.7728" stop-color="#f88b7c"/><stop offset="0.8193" stop-color="#fa917d"/><stop offset="0.8235" stop-color="#fb8c71"/><stop offset="0.8277" stop-color="#fc926f"/><stop offset="0.8319" stop-color="#fd9c73"/><stop offset="0.8361" stop-color="#fdf9c9"/><stop offset="0.9966" stop-color="#fdf9c9"/></linearGradient>
<linearGradient id="d13" x1="0" y1="0" x2="0" y2="1"><stop offset="0" stop-color="#fa937d"/><stop offset="0.511" stop-color="#f98e7d"/><stop offset="0.6883" stop-color="#f5837d"/><stop offset="0.777" stop-color="#f88b7c"/><stop offset="0.8193" stop-color="#fa917d"/><stop offset="0.8235" stop-color="#fb8c71"/><stop offset="0.8277" stop-color="#fc926f"/><stop offset="0.8319" stop-color="#fd9c73"/><stop offset="0.8361" stop-color="#fdf9c9"/><stop offset="0.9966" stop-color="#fdf9c9"/></linearGradient>
<linearGradient id="d14" x1="0" y1="0" x2="0" y2="1"><stop offset="0" stop-color="#fa937d"/><stop offset="0.5025" stop-color="#f98e7d"/><stop offset="0.6799" stop-color="#f4827d"/><stop offset="0.777" stop-color="#f88b7c"/><stop offset="0.8193" stop-color="#fa917d"/><stop offset="0.8235" stop-color="#fb8c71"/><stop offset="0.8277" stop-color="#fc926f"/><stop offset="0.8319" stop-color="#fd9c73"/><stop offset="0.8361" stop-color="#fdf9c9"/><stop offset="0.9966" stop-color="#fdf9c9"/></linearGradient>
<linearGradient id="d15" x1="0" y1="0" x2="0" y2="1"><stop offset="0" stop-color="#fa937d"/><stop offset="0.4941" stop-color="#f98e7d"/><stop offset="0.6799" stop-color="#f4817d"/><stop offset="0.7686" stop-color="#f7897c"/><stop offset="0.8193" stop-color="#fa917d"/><stop offset="0.8235" stop-color="#fb8c71"/><stop offset="0.8277" stop-color="#fc926f"/><stop offset="0.8319" stop-color="#fd9c73"/><stop offset="0.8361" stop-color="#fdf9c9"/><stop offset="0.9966" stop-color="#fdf9c9"/></linearGradient>
<linearGradient id="d16" x1="0" y1="0" x2="0" y2="1"><stop offset="0" stop-color="#fa937d"/><stop offset="0.4899" stop-color="#f98e7d"/><stop offset="0.6841" stop-color="#f4807d"/><stop offset="0.7686" stop-color="#f7887c"/><stop offset="0.815" stop-color="#fa917d"/><stop offset="0.8193" stop-color="#fa917d"/><stop offset="0.8235" stop-color="#fb8c71"/><stop offset="0.8277" stop-color="#fc926f"/><stop offset="0.8319" stop-color="#fd9c73"/><stop offset="0.8361" stop-color="#fdf9c9"/><stop offset="0.9966" stop-color="#fdf9c9"/></linearGradient>
<linearGradient id="d17" x1="0" y1="0" x2="0" y2="1"><stop offset="0" stop-color="#fa937d"/><stop offset="0.4814" stop-color="#f98e7d"/><stop offset="0.6799" stop-color="#f37f7d"/><stop offset="0.7728" stop-color="#f7897c"/><stop offset="0.815" stop-color="#fa917d"/><stop offset="0.8193" stop-color="#fa917d"/><stop offset="0.8235" stop-color="#fb8c71"/><stop offset="0.8277" stop-color="#fc926f"/><stop offset="0.8319" stop-color="#fd9c73"/><stop offset="0.8361" stop-color="#fdf9c9"/><stop offset="0.9966" stop-color="#fdf9c9"/></linearGradient>
<linearGradient id="d18" x1="0" y1="0" x2="0" y2="1"><stop offset="0" stop-color="#fa937d"/><stop offset="0.4772" stop-color="#f98e7d"/><stop offset="0.6799" stop-color="#f37f7e"/><stop offset="0.7728" stop-color="#f7887c"/><stop offset="0.8193" stop-color="#fa917d"/><stop offset="0.8235" stop-color="#fb8c71"/><stop offset="0.8277" stop-color="#fc926f"/><stop offset="0.8319" stop-color="#fd9c73"/><stop offset="0.8361" stop-color="#fdf9c9"/><stop offset="0.9966" stop-color="#fdf9c9"/></linearGradient>
<linearGradient id="d19" x1="0" y1="0" x2="0" y2="1"><stop offset="0" stop-color="#fa937d"/><stop offset="0.4688" stop-color="#f98e7d"/><stop offset="0.6841" stop-color="#f27d7e"/><stop offset="0.7728" stop-color="#f7887c"/><stop offset="0.8193" stop-color="#fa917d"/><stop offset="0.8235" stop-color="#fb8c71"/><stop offset="0.8277" stop-color="#fc926f"/><stop offset="0.8319" stop-color="#fd9c73"/><stop offset="0.8361" stop-color="#fdf9c9"/><stop offset="0.9966" stop-color="#fdf9c9"/></linearGradient>
<linearGradient id="d20" x1="0" y1="0" x2="0" y2="1"><stop offset="0" stop-color="#fa937d"/><stop offset="0.4645" stop-color="#f98e7d"/><stop offset="0.6757" stop-color="#f27d7e"/><stop offset="0.7644" stop-color="#f6857d"/><stop offset="0.815" stop-color="#fa917d"/><stop offset="0.8193" stop-color="#fa917d"/><stop offset="0.8235" stop-color="#fb8c70"/><stop offset="0.8277" stop-color="#fc926f"/><stop offset="0.8319" stop-color="#fd9c73"/><stop offset="0.8361" stop-color="#fdf9c9"/><stop offset="0.9966" stop-color="#fdf9c9"/></linearGradient>
<linearGradient id="d21" x1="0" y1="0" x2="0" y2="1"><stop offset="0" stop-color="#fa937d"/><stop offset="0.4603" stop-color="#f88d7c"/><stop offset="0.6334" stop-color="#f37f7e"/><stop offset="0.6968" stop-color="#f27d7e"/><stop offset="0.777" stop-color="#f7887c"/><stop offset="0.815" stop-color="#fa917d"/><stop offset="0.8193" stop-color="#fa917d"/><stop offset="0.8235" stop-color="#fa8c70"/><stop offset="0.8277" stop-color="#fc926f"/><stop offset="0.8319" stop-color="#fd9c73"/><stop offset="0.8361" stop-color="#fdf9c9"/><stop offset="0.9966" stop-color="#fdf9c9"/></linearGradient>
<linearGradient id="d22" x1="0" y1="0" x2="0" y2="1"><stop offset="0" stop-color="#fa937d"/><stop offset="0.4519" stop-color="#f98e7d"/><stop offset="0.625" stop-color="#f37f7e"/><stop offset="0.6799" stop-color="#f17b7f"/><stop offset="0.7686" stop-color="#f6857d"/><stop offset="0.8108" stop-color="#fa917d"/><stop offset="0.8193" stop-color="#fa917d"/><stop offset="0.8235" stop-color="#fa8c70"/><stop offset="0.8277" stop-color="#fc926f"/><stop offset="0.8319" stop-color="#fd9c73"/><stop offset="0.8361" stop-color="#fdf9c9"/><stop offset="0.9966" stop-color="#fdf9c9"/></linearGradient>
<linearGradient id="d23" x1="0" y1="0" x2="0" y2="1"><stop offset="0" stop-color="#fa937d"/><stop offset="0.4476" stop-color="#f98e7d"/><stop offset="0.6292" stop-color="#f27d7e"/><stop offset="0.7221" stop-color="#f27d7e"/><stop offset="0.7813" stop-color="#f88a7c"/><stop offset="0.8193" stop-color="#fa917d"/><stop offset="0.8235" stop-color="#fa8c70"/><stop offset="0.8277" stop-color="#fc926f"/><stop offset="0.8319" stop-color="#fd9c73"/><stop offset="0.8361" stop-color="#fdf9c9"/><stop offset="0.9966" stop-color="#fdf9c9"/></linearGradient>
<linearGradient id="d24" x1="0" y1="0" x2="0" y2="1"><stop offset="0" stop-color="#fa937d"/><stop offset="0.4434" stop-color="#f88d7c"/><stop offset="0.5785" stop-color="#f5837d"/><stop offset="0.6757" stop-color="#f07a7f"/><stop offset="0.7601" stop-color="#f5837d"/><stop offset="0.815" stop-color="#fa917d"/><stop offset="0.8193" stop-color="#fa917d"/><stop offset="0.8235" stop-color="#fa8c70"/><stop offset="0.8277" stop-color="#fc926f"/><stop offset="0.8319" stop-color="#fd9c73"/><stop offset="0.8361" stop-color="#fdf9c9"/><stop offset="0.9966" stop-color="#fdf9c9"/></linearGradient>
<linearGradient id="d25" x1="0" y1="0" x2="0" y2="1"><stop offset="0" stop-color="#fa937d"/><stop offset="0.435" stop-color="#f98e7d"/><stop offset="0.5743" stop-color="#f5837d"/><stop offset="0.6757" stop-color="#ef797f"/><stop offset="0.7559" stop-color="#f4817d"/><stop offset="0.815" stop-color="#fa917d"/><stop offset="0.8193" stop-color="#fa917d"/><stop offset="0.8235" stop-color="#fa8c70"/><stop offset="0.8277" stop-color="#fc926f"/><stop offset="0.8319" stop-color="#fd9c73"/><stop offset="0.8361" stop-color="#fdf9c9"/><stop offset="0.9966" stop-color="#fdf9c9"/></linearGradient>
<linearGradient id="d26" x1="0" y1="0" x2="0" y2="1"><stop offset="0" stop-color="#fa937d"/><stop offset="0.4307" stop-color="#f98e7d"/><stop offset="0.6039" stop-color="#f37f7e"/><stop offset="0.6799" stop-color="#ef7980"/><stop offset="0.7644" stop-color="#f5837d"/><stop offset="0.815" stop-color="#fa917d"/><stop offset="0.8193" stop-color="#fa917d"/><stop offset="0.8235" stop-color="#fa8c70"/><stop offset="0.8277" stop-color="#fc926f"/><stop offset="0.8319" stop-color="#fd9c73"/><stop offset="0.8361" stop-color="#fdf9c9"/><stop offset="0.9966" stop-color="#fdf9c9"/></linearGradient>
<linearGradient id="d27" x1="0" y1="0" x2="0" y2="1"><stop offset="0" stop-color="#fa937d"/><stop offset="0.4265" stop-color="#f98e7d"/><stop offset="0.5997" stop-color="#f27e7e"/><stop offset="0.6757" stop-color="#ee7781"/><stop offset="0.7601" stop-color="#f4817d"/><stop offset="0.815" stop-color="#fa917d"/><stop offset="0.8193" stop-color="#fa917d"/><stop offset="0.8235" stop-color="#fa8c70"/><stop offset="0.8277" stop-color="#fc926f"/><stop offset="0.8319" stop-color="#fd9c73"/><stop offset="0.8361" stop-color="#fdf9c9"/><stop offset="0.9966" stop-color="#fdf9c9"/></linearGradient>
<linearGradient id="d28" x1="0" y1="0" x2="0" y2="1"><stop offset="0" stop-color="#fa937d"/><stop offset="0.4223" stop-color="#f98e7d"/><stop offset="0.5912" stop-color="#f37f7e"/><stop offset="0.6757" stop-color="#ee7781"/><stop offset="0.7644" stop-color="#f4817d"/><stop offset="0.8108" stop-color="#f9907d"/><stop offset="0.8193" stop-color="#fa917d"/><stop offset="0.8235" stop-color="#fa8c70"/><stop offset="0.8277" stop-color="#fc926f"/><stop offset="0.8319" stop-color="#fd9c73"/><stop offset="0.8361" stop-color="#fdf9c9"/><stop offset="0.9966" stop-color="#fdf9c9"/></linearGradient>
<linearGradient id="d29" x1="0" y1="0" x2="0" y2="1"><stop offset="0" stop-color="#fa937d"/><stop offset="0.4181" stop-color="#f88d7c"/><stop offset="0.5659" stop-color="#f4817d"/><stop offset="0.6757" stop-color="#ed7681"/><stop offset="0.7644" stop-color="#f4817d"/><stop offset="0.8108" stop-color="#f9907d"/><stop offset="0.8193" stop-color="#fa917c"/><stop offset="0.8235" stop-color="#fa8c70"/><stop offset="0.8277" stop-color="#fc926f"/><stop offset="0.8319" stop-color="#fd9c73"/><stop offset="0.8361" stop-color="#fdf9c9"/><stop offset="0.9966" stop-color="#fdf9c9"/></linearGradient>
<linearGradient id="d30" x1="0" y1="0" x2="0" y2="1"><stop offset="0" stop-color="#fa937d"/><stop offset="0.4096" stop-color="#f98e7d"/><stop offset="0.5828" stop-color="#f37f7e"/><stop offset="0.6672" stop-color="#ec7581"/><stop offset="0.7475" stop-color="#f27d7e"/><stop offset="0.815" stop-color="#fa917d"/><stop offset="0.8193" stop-color="#fa917c"/><stop offset="0.8235" stop-color="#fa8c70"/><stop offset="0.8277" stop-color="#fc926f"/><stop offset="0.8319" stop-color="#fd9c73"/><stop offset="0.8361" stop-color="#fdf9c9"/><stop offset="0.9966" stop-color="#fdf9c9"/></linearGradient>
<linearGradient id="d31" x1="0" y1="0" x2="0" y2="1"><stop offset="0" stop-color="#fa937d"/><stop offset="0.435" stop-color="#f88d7c"/><stop offset="0.6166" stop-color="#f07a7f"/><stop offset="0.6841" stop-color="#ec7582"/><stop offset="0.7644" stop-color="#f4807d"/><stop offset="0.815" stop-color="#fa917d"/><stop offset="0.8193" stop-color="#fa907c"/><stop offset="0.8235" stop-color="#fa8c70"/><stop offset="0.8277" stop-color="#fc926f"/><stop offset="0.8319" stop-color="#fd9c73"/><stop offset="0.8361" stop-color="#fdf9c9"/><stop offset="0.9966" stop-color="#fdf9c9"/></linearGradient>
<linearGradient id="d32" x1="0" y1="0" x2="0" y2="1"><stop offset="0" stop-color="#fa937d"/><stop offset="0.4307" stop-color="#f88d7c"/><stop offset="0.6123" stop-color="#f07a7f"/><stop offset="0.6757" stop-color="#eb7482"/><stop offset="0.7644" stop-color="#f4807d"/><stop offset="0.815" stop-color="#fa917d"/><stop offset="0.8193" stop-color="#fa907c"/><stop offset="0.8235" stop-color="#fa8c70"/><stop offset="0.8277" stop-color="#fc926f"/><stop offset="0.8319" stop-color="#fd9c73"/><stop offset="0.8361" stop-color="#fdf9c9"/><stop offset="0.9966" stop-color="#fdf9c9"/></linearGradient>
<linearGradient id="d33" x1="0" y1="0" x2="0" y2="1"><stop offset="0" stop-color="#fa937d"/><stop offset="0.4307" stop-color="#f88d7c"/><stop offset="0.6081" stop-color="#f07a7f"/><stop offset="0.6799" stop-color="#eb7482"/><stop offset="0.7644" stop-color="#f4807d"/><stop offset="0.815" stop-color="#fa917d"/><stop offset="0.8193" stop-color="#fa907c"/><stop offset="0.8235" stop-color="#fa8c70"/><stop offset="0.8277" stop-color="#fc926f"/><stop offset="0.8319" stop-color="#fd9c73"/><stop offset="0.8361" stop-color="#fdf9c9"/><stop offset="0.9966" stop-color="#fdf9c9"/></linearGradient>
<linearGradient id="d34" x1="0" y1="0" x2="0" y2="1"><stop offset="0" stop-color="#fa937d"/><stop offset="0.4265" stop-color="#f88d7c"/><stop offset="0.5954" stop-color="#f17b7f"/><stop offset="0.6757" stop-color="#eb7383"/><stop offset="0.7559" stop-color="#f27d7e"/><stop offset="0.815" stop-color="#fa917d"/><stop offset="0.8193" stop-color="#fa907c"/><stop offset="0.8235" stop-color="#fa8c70"/><stop offset="0.8277" stop-color="#fc926f"/><stop offset="0.8319" stop-color="#fd9c73"/><stop offset="0.8361" stop-color="#fdf9c9"/><stop offset="0.9966" stop-color="#fdf9c9"/></linearGradient>
<linearGradient id="d35" x1="0" y1="0" x2="0" y2="1"><stop offset="0" stop-color="#fa937d"/><stop offset="0.4265" stop-color="#f88d7c"/><stop offset="0.6039" stop-color="#ef797f"/><stop offset="0.6757" stop-color="#eb7383"/><stop offset="0.7601" stop-color="#f27d7e"/><stop offset="0.815" stop-color="#fa917d"/><stop offset="0.8193" stop-color="#fa907c"/><stop offset="0.8235" stop-color="#fa8c70"/><stop offset="0.8277" stop-color="#fc926f"/><stop offset="0.8319" stop-color="#fd9c73"/><stop offset="0.8361" stop-color="#fdf9c9"/><stop offset="0.9966" stop-color="#fdf9c9"/></linearGradient>
<linearGradient id="d36" x1="0" y1="0" x2="0" y2="1"><stop offset="0" stop-color="#fa937d"/><stop offset="0.4223" stop-color="#f88d7c"/><stop offset="0.5954" stop-color="#f07a7f"/><stop offset="0.6799" stop-color="#ea7283"/><stop offset="0.7601" stop-color="#f27d7e"/><stop offset="0.815" stop-color="#fa917d"/><stop offset="0.8193" stop-color="#fa907c"/><stop offset="0.8235" stop-color="#fa8c70"/><stop offset="0.8277" stop-color="#fc926f"/><stop offset="0.8319" stop-color="#fd9c73"/><stop offset="0.8361" stop-color="#fdf9c9"/><stop offset="0.9966" stop-color="#fdf9c9"/></linearGradient>
<linearGradient id="d37" x1="0" y1="0" x2="0" y2="1"><stop offset="0" stop-color="#fa937d"/><stop offset="0.4181" stop-color="#f88d7c"/><stop offset="0.5912" stop-color="#f07a7f"/><stop offset="0.6757" stop-color="#e97184"/><stop offset="0.7644" stop-color="#f27d7e"/><stop offset="0.8108" stop-color="#f9907d"/><stop offset="0.8193" stop-color="#fa907c"/><stop offset="0.8235" stop-color="#fa8c70"/><stop offset="0.8277" stop-color="#fc926f"/><stop offset="0.8319" stop-color="#fd9c73"/><stop offset="0.8361" stop-color="#fdf9c9"/><stop offset="0.9966" stop-color="#fdf9c9"/></linearGradient>
<linearGradient id="d38" x1="0" y1="0" x2="0" y2="1"><stop offset="0" stop-color="#fa937d"/><stop offset="0.4096" stop-color="#f88d7c"/><stop offset="0.5785" stop-color="#f17b7f"/><stop offset="0.6757" stop-color="#e77085"/><stop offset="0.7559" stop-color="#f17b7f"/><stop offset="0.815" stop-color="#fa917d"/><stop offset="0.8193" stop-color="#fa907c"/><stop offset="0.8235" stop-color="#fa8c70"/><stop offset="0.8277" stop-color="#fc926f"/><stop offset="0.8319" stop-color="#fd9c73"/><stop offset="0.8361" stop-color="#fdf9c9"/><stop offset="0.9966" stop-color="#fdf9c9"/></linearGradient>
<linearGradient id="d39" x1="0" y1="0" x2="0" y2="1"><stop offset="0" stop-color="#fa937d"/><stop offset="0.4012" stop-color="#f88d7c"/><stop offset="0.5743" stop-color="#f07a7f"/><stop offset="0.6672" stop-color="#e56f86"/><stop offset="0.7306" stop-color="#eb7482"/><stop offset="0.777" stop-color="#f4817d"/><stop offset="0.815" stop-color="#fa917d"/><stop offset="0.8193" stop-color="#fa907c"/><stop offset="0.8235" stop-color="#fa8c70"/><stop offset="0.8277" stop-color="#fc926f"/><stop offset="0.8319" stop-color="#fd9c73"/><stop offset="0.8361" stop-color="#fdf9c9"/><stop offset="0.9966" stop-color="#fdf9c9"/></linearGradient>
<linearGradient id="d40" x1="0" y1="0" x2="0" y2="1"><stop offset="0" stop-color="#fa917d"/><stop offset="0.3632" stop-color="#f98e7d"/><stop offset="0.5279" stop-color="#f37f7e"/><stop offset="0.6588" stop-color="#e36d87"/><stop offset="0.7179" stop-color="#e77085"/><stop offset="0.7728" stop-color="#f27d7e"/><stop offset="0.8108" stop-color="#f9907d"/><stop offset="0.8193" stop-color="#fa907c"/><stop offset="0.8235" stop-color="#fa8c70"/><stop offset="0.8277" stop-color="#fc926f"/><stop offset="0.8319" stop-color="#fd9c73"/><stop offset="0.8361" stop-color="#fdf9c9"/><stop offset="0.9966" stop-color="#fdf9c9"/></linearGradient>
<linearGradient id="d41" x1="0" y1="0" x2="0" y2="1"><stop offset="0" stop-color="#fa917d"/><stop offset="0.3547" stop-color="#f98e7d"/><stop offset="0.5194" stop-color="#f37f7e"/><stop offset="0.663" stop-color="#e16b88"/><stop offset="0.7306" stop-color="#e77085"/><stop offset="0.7728" stop-color="#f17c7f"/><stop offset="0.8108" stop-color="#f9907d"/><stop offset="0.8193" stop-color="#fa907c"/><stop offset="0.8235" stop-color="#fa8c70"/><stop offset="0.8277" stop-color="#fc926f"/><stop offset="0.8319" stop-color="#fd9c73"/><stop offset="0.8361" stop-color="#fdf9c9"/><stop offset="0.9966" stop-color="#fdf9c9"/></linearGradient>
<linearGradient id="d42" x1="0" y1="0" x2="0" y2="1"><stop offset="0" stop-color="#fa917d"/><stop offset="0.3421" stop-color="#f98e7d"/><stop offset="0.4814" stop-color="#f5837d"/><stop offset="0.5954" stop-color="#e97184"/><stop offset="0.6715" stop-color="#dd698a"/><stop offset="0.7559" stop-color="#eb7482"/><stop offset="0.8024" stop-color="#f88d7c"/><stop offset="0.8193" stop-color="#fa907b"/><stop offset="0.8235" stop-color="#fa8b70"/><stop offset="0.8277" stop-color="#fc926f"/><stop offset="0.8319" stop-color="#fd9c73"/><stop offset="0.8361" stop-color="#fdf9c9"/><stop offset="0.9966" stop-color="#fdf9c9"/></linearGradient>
<linearGradient id="d43" x1="0" y1="0" x2="0" y2="1"><stop offset="0" stop-color="#fa917d"/><stop offset="0.3336" stop-color="#f98e7d"/><stop offset="0.473" stop-color="#f5837d"/><stop offset="0.5954" stop-color="#e66f85"/><stop offset="0.6715" stop-color="#db688b"/><stop offset="0.739" stop-color="#e66f85"/><stop offset="0.777" stop-color="#f27c7d"/><stop offset="0.8108" stop-color="#f9907d"/><stop offset="0.8193" stop-color="#fa907b"/><stop offset="0.8235" stop-color="#fa8b70"/><stop offset="0.8277" stop-color="#fc926f"/><stop offset="0.8319" stop-color="#fd9c73"/><stop offset="0.8361" stop-color="#fdf9c9"/><stop offset="0.9966" stop-color="#fdf9c9"/></linearGradient>
<linearGradient id="d44" x1="0" y1="0" x2="0" y2="1"><stop offset="0" stop-color="#fa917d"/><stop offset="0.3252" stop-color="#f98e7d"/><stop offset="0.4645" stop-color="#f5837d"/><stop offset="0.587" stop-color="#e66f85"/><stop offset="0.6672" stop-color="#d8678d"/><stop offset="0.7348" stop-color="#e36d87"/><stop offset="0.7728" stop-color="#ef787f"/><stop offset="0.8066" stop-color="#f88d7c"/><stop offset="0.8193" stop-color="#fa8f7b"/><stop offset="0.8235" stop-color="#fa8b6f"/><stop offset="0.8277" stop-color="#fc926f"/><stop offset="0.8319" stop-color="#fd9c73"/><stop offset="0.8361" stop-color="#fdf9c9"/><stop offset="0.9966" stop-color="#fdf9c9"/></linearGradient>
<linearGradient id="d45" x1="0" y1="0" x2="0" y2="1"><stop offset="0" stop-color="#fa917d"/><stop offset="0.3167" stop-color="#f98e7d"/><stop offset="0.4561" stop-color="#f5837d"/><stop offset="0.5701" stop-color="#e77085"/><stop offset="0.663" stop-color="#d6658e"/><stop offset="0.7095" stop-color="#db688b"/><stop offset="0.7686" stop-color="#ec7481"/><stop offset="0.7897" stop-color="#f5827c"/><stop offset="0.815" stop-color="#f9907d"/><stop offset="0.8193" stop-color="#fa8f7b"/><stop offset="0.8235" stop-color="#fa8b6f"/><stop offset="0.8277" stop-color="#fc926f"/><stop offset="0.8319" stop-color="#fd9c73"/><stop offset="0.8361" stop-color="#fdf9c9"/><stop offset="0.9966" stop-color="#fdf9c9"/></linearGradient>
<linearGradient id="d46" x1="0" y1="0" x2="0" y2="1"><stop offset="0" stop-color="#fa917d"/><stop offset="0.3083" stop-color="#f98e7d"/><stop offset="0.4476" stop-color="#f5837d"/><stop offset="0.5617" stop-color="#e77085"/><stop offset="0.6672" stop-color="#d2648f"/><stop offset="0.7306" stop-color="#de6a8a"/><stop offset="0.7686" stop-color="#eb7281"/><stop offset="0.7897" stop-color="#f5827c"/><stop offset="0.815" stop-color="#f9907d"/><stop offset="0.8193" stop-color="#fa8f7b"/><stop offset="0.8235" stop-color="#fa8b6f"/><stop offset="0.8319" stop-color="#fd9c73"/><stop offset="0.8361" stop-color="#fdf9c9"/><stop offset="0.9966" stop-color="#fdf9c9"/></linearGradient>
<linearGradient id="d47" x1="0" y1="0" x2="0" y2="1"><stop offset="0" stop-color="#fa917d"/><stop offset="0.2998" stop-color="#f98e7d"/><stop offset="0.4392" stop-color="#f5837d"/><stop offset="0.5532" stop-color="#e77085"/><stop offset="0.663" stop-color="#d06390"/><stop offset="0.7095" stop-color="#d6658e"/><stop offset="0.7644" stop-color="#e97083"/><stop offset="0.7813" stop-color="#f1787c"/><stop offset="0.8066" stop-color="#f88d7c"/><stop offset="0.8193" stop-color="#fa8f7b"/><stop offset="0.8235" stop-color="#fa8b6f"/><stop offset="0.8319" stop-color="#fd9c73"/><stop offset="0.8361" stop-color="#fdf9c9"/><stop offset="0.9966" stop-color="#fdf9c9"/></linearGradient>
<linearGradient id="d48" x1="0" y1="0" x2="0" y2="1"><stop offset="0" stop-color="#fa917d"/><stop offset="0.2914" stop-color="#f98e7d"/><stop offset="0.4307" stop-color="#f5837d"/><stop offset="0.5405" stop-color="#e97184"/><stop offset="0.663" stop-color="#cd6291"/><stop offset="0.7095" stop-color="#d3648f"/><stop offset="0.7644" stop-color="#e66e84"/><stop offset="0.7855" stop-color="#f27a7b"/><stop offset="0.8066" stop-color="#f88d7c"/><stop offset="0.8193" stop-color="#fa8f7a"/><stop offset="0.8235" stop-color="#fa8b6f"/><stop offset="0.8319" stop-color="#fd9c73"/><stop offset="0.8361" stop-color="#fdf9c9"/><stop offset="0.9966" stop-color="#fdf9c9"/></linearGradient>
<linearGradient id="d49" x1="0" y1="0" x2="0" y2="1"><stop offset="0" stop-color="#fa917d"/><stop offset="0.3125" stop-color="#f88d7c"/><stop offset="0.4603" stop-color="#f27d7e"/><stop offset="0.549" stop-color="#e56f86"/><stop offset="0.663" stop-color="#ca6192"/><stop offset="0.7179" stop-color="#d3648f"/><stop offset="0.7644" stop-color="#e56d84"/><stop offset="0.777" stop-color="#ec717d"/><stop offset="0.8024" stop-color="#f88a7c"/><stop offset="0.8193" stop-color="#fa8f7a"/><stop offset="0.8235" stop-color="#fa8b6f"/><stop offset="0.8319" stop-color="#fd9c73"/><stop offset="0.8361" stop-color="#fdf9c9"/><stop offset="0.9966" stop-color="#fdf9c9"/></linearGradient>
<linearGradient id="d50" x1="0" y1="0" x2="0" y2="1"><stop offset="0" stop-color="#fa917d"/><stop offset="0.3083" stop-color="#f88d7c"/><stop offset="0.4772" stop-color="#f07a7f"/><stop offset="0.5574" stop-color="#e26c88"/><stop offset="0.663" stop-color="#c86093"/><stop offset="0.7052" stop-color="#ce6291"/><stop offset="0.7601" stop-color="#e26c88"/><stop offset="0.777" stop-color="#ec717c"/><stop offset="0.8024" stop-color="#f88a7c"/><stop offset="0.8193" stop-color="#fa8f7a"/><stop offset="0.8235" stop-color="#fa8b6f"/><stop offset="0.8319" stop-color="#fd9c73"/><stop offset="0.8361" stop-color="#fdf9c9"/><stop offset="0.9966" stop-color="#fdf9c9"/></linearGradient>
<linearGradient id="d51" x1="0" y1="0" x2="0" y2="1"><stop offset="0" stop-color="#fa917d"/><stop offset="0.2998" stop-color="#f88d7c"/><stop offset="0.4645" stop-color="#f17b7f"/><stop offset="0.5574" stop-color="#e16b88"/><stop offset="0.663" stop-color="#c55f94"/><stop offset="0.7137" stop-color="#ce6291"/><stop offset="0.7644" stop-color="#e26a85"/><stop offset="0.7813" stop-color="#ee737b"/><stop offset="0.8108" stop-color="#f98e7d"/><stop offset="0.8193" stop-color="#fa8f7a"/><stop offset="0.8235" stop-color="#fa8b6f"/><stop offset="0.8319" stop-color="#fd9c73"/><stop offset="0.8361" stop-color="#fdf9c9"/><stop offset="0.9966" stop-color="#fdf9c9"/></linearGradient>
<linearGradient id="d52" x1="0" y1="0" x2="0" y2="1"><stop offset="0" stop-color="#fa917d"/><stop offset="0.2956" stop-color="#f88d7c"/><stop offset="0.4434" stop-color="#f27d7e"/><stop offset="0.5321" stop-color="#e56f86"/><stop offset="0.6588" stop-color="#c45e94"/><stop offset="0.7052" stop-color="#c96093"/><stop offset="0.7601" stop-color="#e06a89"/><stop offset="0.777" stop-color="#ea6e7c"/><stop offset="0.8024" stop-color="#f7887c"/><stop offset="0.815" stop-color="#f9907d"/><stop offset="0.8193" stop-color="#fa8e7a"/><stop offset="0.8235" stop-color="#fa8b6f"/><stop offset="0.8319" stop-color="#fd9c73"/><stop offset="0.8361" stop-color="#fdf9c9"/><stop offset="0.9966" stop-color="#fdf9c9"/></linearGradient>
<linearGradient id="d53" x1="0" y1="0" x2="0" y2="1"><stop offset="0" stop-color="#fa917d"/><stop offset="0.2914" stop-color="#f88d7c"/><stop offset="0.4392" stop-color="#f27d7e"/><stop offset="0.5279" stop-color="#e56f86"/><stop offset="0.6588" stop-color="#c15e95"/><stop offset="0.701" stop-color="#c65f94"/><stop offset="0.7601" stop-color="#de6989"/><stop offset="0.7728" stop-color="#e6697f"/><stop offset="0.7939" stop-color="#f47e7a"/><stop offset="0.8108" stop-color="#f88d7c"/><stop offset="0.8193" stop-color="#fa8e7a"/><stop offset="0.8235" stop-color="#fa8b6f"/><stop offset="0.8319" stop-color="#fd9c73"/><stop offset="0.8361" stop-color="#fdf9c9"/><stop offset="0.9966" stop-color="#fdf9c9"/></linearGradient>
<linearGradient id="d54" x1="0" y1="0" x2="0" y2="1"><stop offset="0" stop-color="#fa917d"/><stop offset="0.2872" stop-color="#f88d7c"/><stop offset="0.435" stop-color="#f27d7e"/><stop offset="0.5236" stop-color="#e56f86"/><stop offset="0.6123" stop-color="#cc6192"/><stop offset="0.663" stop-color="#bf5d96"/><stop offset="0.7095" stop-color="#c65f94"/><stop offset="0.7601" stop-color="#dd6889"/><stop offset="0.7728" stop-color="#e5687f"/><stop offset="0.7939" stop-color="#f47d79"/><stop offset="0.8108" stop-color="#f88d7c"/><stop offset="0.815" stop-color="#f9907d"/><stop offset="0.8193" stop-color="#f98d7a"/><stop offset="0.8235" stop-color="#fa8b6f"/><stop offset="0.8319" stop-color="#fd9c73"/><stop offset="0.8361" stop-color="#fdf9c9"/><stop offset="0.9966" stop-color="#fdf9c9"/></linearGradient>
<linearGradient id="d55" x1="0" y1="0" x2="0" y2="1"><stop offset="0" stop-color="#fa917d"/><stop offset="0.2829" stop-color="#f88d7c"/><stop offset="0.4307" stop-color="#f27d7e"/><stop offset="0.5279" stop-color="#e36d87"/><stop offset="0.6588" stop-color="#bc5c96"/><stop offset="0.701" stop-color="#c15e95"/><stop offset="0.7601" stop-color="#dc668a"/><stop offset="0.7728" stop-color="#e4677f"/><stop offset="0.7897" stop-color="#f17778"/><stop offset="0.8066" stop-color="#f88b7c"/><stop offset="0.815" stop-color="#f9907d"/><stop offset="0.8193" stop-color="#f98d7a"/><stop offset="0.8235" stop-color="#fa8b6f"/><stop offset="0.8319" stop-color="#fd9c73"/><stop offset="0.8361" stop-color="#fdf9c9"/><stop offset="0.9966" stop-color="#fdf9c9"/></linearGradient>
<linearGradient id="d56" x1="0" y1="0" x2="0" y2="1"><stop offset="0" stop-color="#fa917d"/><stop offset="0.2829" stop-color="#f88d7c"/><stop offset="0.4519" stop-color="#f07a7f"/><stop offset="0.5405" stop-color="#e06b89"/><stop offset="0.6588" stop-color="#bc5c96"/><stop offset="0.701" stop-color="#c15e95"/><stop offset="0.7517" stop-color="#d7668d"/><stop offset="0.7728" stop-color="#e4677f"/><stop offset="0.7939" stop-color="#f47d79"/><stop offset="0.8108" stop-color="#f88d7c"/><stop offset="0.815" stop-color="#f9907d"/><stop offset="0.8193" stop-color="#f98d7a"/><stop offset="0.8235" stop-color="#fa8b6f"/><stop offset="0.8319" stop-color="#fd9c73"/><stop offset="0.8361" stop-color="#fdf9c9"/><stop offset="0.9966" stop-color="#fdf9c9"/></linearGradient>
<linearGradient id="d57" x1="0" y1="0" x2="0" y2="1"><stop offset="0" stop-color="#fa917d"/><stop offset="0.2787" stop-color="#f88d7c"/><stop offset="0.4476" stop-color="#f17b7f"/><stop offset="0.5405" stop-color="#e06b89"/><stop offset="0.663" stop-color="#bb5b97"/><stop offset="0.701" stop-color="#c15e95"/><stop offset="0.7517" stop-color="#d7668d"/><stop offset="0.7728" stop-color="#e4677f"/><stop offset="0.7939" stop-color="#f47d79"/><stop offset="0.8108" stop-color="#f88d7c"/><stop offset="0.8193" stop-color="#f98d7a"/><stop offset="0.8235" stop-color="#fa8b6e"/><stop offset="0.8319" stop-color="#fd9c73"/><stop offset="0.8361" stop-color="#fdf9c9"/><stop offset="0.9966" stop-color="#fdf9c9"/></linearGradient>
<linearGradient id="d58" x1="0" y1="0" x2="0" y2="1"><stop offset="0" stop-color="#fa917d"/><stop offset="0.2787" stop-color="#f88d7c"/><stop offset="0.4434" stop-color="#f17b7f"/><stop offset="0.5405" stop-color="#e06b89"/><stop offset="0.6588" stop-color="#bb5b97"/><stop offset="0.7052" stop-color="#c15e95"/><stop offset="0.7559" stop-color="#d8678d"/><stop offset="0.7728" stop-color="#e4677f"/><stop offset="0.7939" stop-color="#f47c78"/><stop offset="0.8108" stop-color="#f88d7c"/><stop offset="0.8193" stop-color="#f98d7a"/><stop offset="0.8235" stop-color="#fa8b6e"/><stop offset="0.8319" stop-color="#fd9c73"/><stop offset="0.8361" stop-color="#fdf9c9"/><stop offset="0.9966" stop-color="#fdf9c9"/></linearGradient>
<linearGradient id="d59" x1="0" y1="0" x2="0" y2="1"><stop offset="0" stop-color="#fa917d"/><stop offset="0.2787" stop-color="#f88d7c"/><stop offset="0.4434" stop-color="#f17b7f"/><stop offset="0.5236" stop-color="#e36d87"/><stop offset="0.6166" stop-color="#c86093"/><stop offset="0.6588" stop-color="#bb5b97"/><stop offset="0.7052" stop-color="#c15e95"/><stop offset="0.7559" stop-color="#d8678d"/><stop offset="0.7728" stop-color="#e4677f"/><stop offset="0.7939" stop-color="#f47c78"/><stop offset="0.8066" stop-color="#f88b7c"/><stop offset="0.815" stop-color="#f98e7d"/><stop offset="0.8193" stop-color="#f98d7a"/><stop offset="0.8235" stop-color="#fa8b6e"/><stop offset="0.8319" stop-color="#fd9c73"/><stop offset="0.8361" stop-color="#fdf9c9"/><stop offset="0.9966" stop-color="#fdf9c9"/></linearGradient>
<linearGradient id="d60" x1="0" y1="0" x2="0" y2="1"><stop offset="0" stop-color="#fa917d"/><stop offset="0.2787" stop-color="#f88d7c"/><stop offset="0.4434" stop-color="#f17b7f"/><stop offset="0.5236" stop-color="#e36d87"/><stop offset="0.6166" stop-color="#c86093"/><stop offset="0.6588" stop-color="#bb5b97"/><stop offset="0.7052" stop-color="#c15e95"/><stop offset="0.7559" stop-color="#d8678d"/><stop offset="0.7728" stop-color="#e4677f"/><stop offset="0.7939" stop-color="#f47c78"/><stop offset="0.8066" stop-color="#f88b7c"/><stop offset="0.815" stop-color="#f98e7d"/><stop offset="0.8193" stop-color="#f98d7a"/><stop offset="0.8235" stop-color="#fa8b6e"/><stop offset="0.8319" stop-color="#fd9c73"/><stop offset="0.8361" stop-color="#fdf9c9"/><stop offset="0.9966" stop-color="#fdf9c9"/></linearGradient>
<linearGradient id="d61" x1="0" y1="0" x2="0" y2="1"><stop offset="0" stop-color="#fa917d"/><stop offset="0.2787" stop-color="#f88d7c"/><stop offset="0.4434" stop-color="#f17b7f"/><stop offset="0.5236" stop-color="#e36d87"/><stop offset="0.6166" stop-color="#c86093"/><stop offset="0.6588" stop-color="#bb5b97"/><stop offset="0.7052" stop-color="#c15e95"/><stop offset="0.7559" stop-color="#d8678d"/><stop offset="0.7728" stop-color="#e4677f"/><stop offset="0.7939" stop-color="#f47c78"/><stop offset="0.8066" stop-color="#f88b7c"/><stop offset="0.815" stop-color="#f98e7d"/><stop offset="0.8193" stop-color="#f98d7a"/><stop offset="0.8235" stop-color="#fa8b6e"/><stop offset="0.8319" stop-color="#fd9c73"/><stop offset="0.8361" stop-color="#fdf9c9"/><stop offset="0.9966" stop-color="#fdf9c9"/></linearGradient>
<linearGradient id="d62" x1="0" y1="0" x2="0" y2="1"><stop offset="0" stop-color="#fa917d"/><stop offset="0.2787" stop-color="#f88d7c"/><stop offset="0.4434" stop-color="#f17b7f"/><stop offset="0.5236" stop-color="#e36d87"/><stop offset="0.6166" stop-color="#c86093"/><stop offset="0.6588" stop-color="#bb5b97"/><stop offset="0.7052" stop-color="#c15e95"/><stop offset="0.7559" stop-color="#d8678d"/><stop offset="0.7728" stop-color="#e4677f"/><stop offset="0.7939" stop-color="#f47c78"/><stop offset="0.8066" stop-color="#f88b7c"/><stop offset="0.815" stop-color="#f98e7d"/><stop offset="0.8193" stop-color="#f98d7a"/><stop offset="0.8235" stop-color="#fa8b6e"/><stop offset="0.8319" stop-color="#fd9c73"/><stop offset="0.8361" stop-color="#fdf9c9"/><stop offset="0.9966" stop-color="#fdf9c9"/></linearGradient>
<linearGradient id="d63" x1="0" y1="0" x2="0" y2="1"><stop offset="0" stop-color="#fa917d"/><stop offset="0.2787" stop-color="#f88d7c"/><stop offset="0.4434" stop-color="#f17b7f"/><stop offset="0.5236" stop-color="#e36d87"/><stop offset="0.6166" stop-color="#c86093"/><stop offset="0.6588" stop-color="#bb5b97"/><stop offset="0.7052" stop-color="#c15e95"/><stop offset="0.7559" stop-color="#d8678d"/><stop offset="0.7728" stop-color="#e4677f"/><stop offset="0.7939" stop-color="#f47c78"/><stop offset="0.8066" stop-color="#f88b7c"/><stop offset="0.815" stop-color="#f98e7d"/><stop offset="0.8193" stop-color="#f98d7a"/><stop offset="0.8235" stop-color="#fa8b6e"/><stop offset="0.8319" stop-color="#fd9c73"/><stop offset="0.8361" stop-color="#fdf9c9"/><stop offset="0.9966" stop-color="#fdf9c9"/></linearGradient>
<linearGradient id="d64" x1="0" y1="0" x2="0" y2="1"><stop offset="0" stop-color="#fa917d"/><stop offset="0.2787" stop-color="#f88d7c"/><stop offset="0.4434" stop-color="#f17b7f"/><stop offset="0.5236" stop-color="#e36d87"/><stop offset="0.6166" stop-color="#c86093"/><stop offset="0.6588" stop-color="#bb5b97"/><stop offset="0.7052" stop-color="#c15e95"/><stop offset="0.7559" stop-color="#d8678d"/><stop offset="0.7728" stop-color="#e4677f"/><stop offset="0.7939" stop-color="#f47c78"/><stop offset="0.8066" stop-color="#f88b7c"/><stop offset="0.815" stop-color="#f98e7d"/><stop offset="0.8193" stop-color="#f98d7a"/><stop offset="0.8235" stop-color="#fa8b6e"/><stop offset="0.8319" stop-color="#fd9c73"/><stop offset="0.8361" stop-color="#fdf9c9"/><stop offset="0.9966" stop-color="#fdf9c9"/></linearGradient>
<linearGradient id="d65" x1="0" y1="0" x2="0" y2="1"><stop offset="0" stop-color="#fa917d"/><stop offset="0.2787" stop-color="#f88d7c"/><stop offset="0.4434" stop-color="#f17b7f"/><stop offset="0.5236" stop-color="#e36d87"/><stop offset="0.6166" stop-color="#c86093"/><stop offset="0.6588" stop-color="#bb5b97"/><stop offset="0.7052" stop-color="#c15e95"/><stop offset="0.7559" stop-color="#d8678d"/><stop offset="0.7728" stop-color="#e4677f"/><stop offset="0.7939" stop-color="#f47c78"/><stop offset="0.8066" stop-color="#f88b7c"/><stop offset="0.815" stop-color="#f98e7d"/><stop offset="0.8193" stop-color="#f98d7a"/><stop offset="0.8235" stop-color="#fa8b6e"/><stop offset="0.8319" stop-color="#fd9c73"/><stop offset="0.8361" stop-color="#fdf9c9"/><stop offset="0.9966" stop-color="#fdf9c9"/></linearGradient>
<linearGradient id="d66" x1="0" y1="0" x2="0" y2="1"><stop offset="0" stop-color="#fa917d"/><stop offset="0.2787" stop-color="#f88d7c"/><stop offset="0.4434" stop-color="#f17b7f"/><stop offset="0.5236" stop-color="#e36d87"/><stop offset="0.6123" stop-color="#c96093"/><stop offset="0.6588" stop-color="#bb5b97"/><stop offset="0.7052" stop-color="#c15e95"/><stop offset="0.7559" stop-color="#d8678d"/><stop offset="0.7728" stop-color="#e4677f"/><stop offset="0.7939" stop-color="#f47b78"/><stop offset="0.8066" stop-color="#f88b7c"/><stop offset="0.815" stop-color="#f98e7d"/><stop offset="0.8193" stop-color="#f98d7a"/><stop offset="0.8235" stop-color="#fa8b6e"/><stop offset="0.8319" stop-color="#fd9c73"/><stop offset="0.8361" stop-color="#fdf9c9"/><stop offset="0.9966" stop-color="#fdf9c9"/></linearGradient>
<linearGradient id="d67" x1="0" y1="0" x2="0" y2="1"><stop offset="0" stop-color="#fa917d"/><stop offset="0.2787" stop-color="#f88d7c"/><stop offset="0.4434" stop-color="#f17b7f"/><stop offset="0.5236" stop-color="#e36d87"/><stop offset="0.6123" stop-color="#c96093"/><stop offset="0.6588" stop-color="#bb5b97"/><stop offset="0.7052" stop-color="#c15e95"/><stop offset="0.7559" stop-color="#d8678d"/><stop offset="0.7728" stop-color="#e4677f"/><stop offset="0.7939" stop-color="#f47b78"/><stop offset="0.8066" stop-color="#f88b7c"/><stop offset="0.815" stop-color="#f98e7d"/><stop offset="0.8193" stop-color="#f98d7a"/><stop offset="0.8235" stop-color="#fa8b6e"/><stop offset="0.8319" stop-color="#fd9c73"/><stop offset="0.8361" stop-color="#fdf9c9"/><stop offset="0.9966" stop-color="#fdf9c9"/></linearGradient>
<linearGradient id="d68" x1="0" y1="0" x2="0" y2="1"><stop offset="0" stop-color="#fa917d"/><stop offset="0.2787" stop-color="#f88d7c"/><stop offset="0.4434" stop-color="#f17b7f"/><stop offset="0.5236" stop-color="#e36d87"/><stop offset="0.6123" stop-color="#c96093"/><stop offset="0.6588" stop-color="#bb5b97"/><stop offset="0.7052" stop-color="#c15e95"/><stop offset="0.7559" stop-color="#d8678d"/><stop offset="0.7728" stop-color="#e4677f"/><stop offset="0.7939" stop-color="#f47b78"/><stop offset="0.8066" stop-color="#f88b7c"/><stop offset="0.815" stop-color="#f98e7d"/><stop offset="0.8193" stop-color="#f98d7a"/><stop offset="0.8235" stop-color="#fa8b6e"/><stop offset="0.8319" stop-color="#fd9c73"/><stop offset="0.8361" stop-color="#fdf9c9"/><stop offset="0.9966" stop-color="#fdf9c9"/></linearGradient>
<linearGradient id="d69" x1="0" y1="0" x2="0" y2="1"><stop offset="0" stop-color="#fa917d"/><stop offset="0.2787" stop-color="#f88d7c"/><stop offset="0.4434" stop-color="#f17b7f"/><stop offset="0.5236" stop-color="#e36d87"/><stop offset="0.6123" stop-color="#c96093"/><stop offset="0.6588" stop-color="#bb5b97"/><stop offset="0.7052" stop-color="#c15e95"/><stop offset="0.7559" stop-color="#d8678d"/><stop offset="0.7728" stop-color="#e4677f"/><stop offset="0.7939" stop-color="#f47b78"/><stop offset="0.8066" stop-color="#f88b7c"/><stop offset="0.815" stop-color="#f98e7d"/><stop offset="0.8193" stop-color="#f98d7a"/><stop offset="0.8235" stop-color="#fa8b6e"/><stop offset="0.8319" stop-color="#fd9c73"/><stop offset="0.8361" stop-color="#fdf9c9"/><stop offset="0.9966" stop-color="#fdf9c9"/></linearGradient>
<linearGradient id="d70" x1="0" y1="0" x2="0" y2="1"><stop offset="0" stop-color="#fa917d"/><stop offset="0.2787" stop-color="#f88d7c"/><stop offset="0.4434" stop-color="#f17b7f"/><stop offset="0.5236" stop-color="#e36d87"/><stop offset="0.6123" stop-color="#c96093"/><stop offset="0.6588" stop-color="#bb5b97"/><stop offset="0.7052" stop-color="#c15e95"/><stop offset="0.7559" stop-color="#d8678d"/><stop offset="0.7728" stop-color="#e4677f"/><stop offset="0.7939" stop-color="#f47b78"/><stop offset="0.8066" stop-color="#f88b7c"/><stop offset="0.815" stop-color="#f98e7d"/><stop offset="0.8193" stop-color="#f98d7a"/><stop offset="0.8235" stop-color="#fa8b6e"/><stop offset="0.8319" stop-color="#fd9c73"/><stop offset="0.8361" stop-color="#fdf9c9"/><stop offset="0.9966" stop-color="#fdf9c9"/></linearGradient>
<linearGradient id="d71" x1="0" y1="0" x2="0" y2="1"><stop offset="0" stop-color="#fa917d"/><stop offset="0.2787" stop-color="#f88d7c"/><stop offset="0.435" stop-color="#f17c7f"/><stop offset="0.5194" stop-color="#e46e86"/><stop offset="0.6123" stop-color="#c96093"/><stop offset="0.6588" stop-color="#bb5b97"/><stop offset="0.7052" stop-color="#c15e95"/><stop offset="0.7559" stop-color="#d8678d"/><stop offset="0.7728" stop-color="#e4677f"/><stop offset="0.7939" stop-color="#f47b78"/><stop offset="0.8066" stop-color="#f88b7c"/><stop offset="0.815" stop-color="#f98e7d"/><stop offset="0.8193" stop-color="#f98d7a"/><stop offset="0.8235" stop-color="#fa8b6e"/><stop offset="0.8319" stop-color="#fd9c73"/><stop offset="0.8361" stop-color="#fdf9c9"/><stop offset="0.9966" stop-color="#fdf9c9"/></linearGradient>
<linearGradient id="d72" x1="0" y1="0" x2="0" y2="1"><stop offset="0" stop-color="#fa917d"/><stop offset="0.2787" stop-color="#f88d7c"/><stop offset="0.435" stop-color="#f17c7f"/><stop offset="0.5194" stop-color="#e46e86"/><stop offset="0.6123" stop-color="#c96093"/><stop offset="0.6588" stop-color="#bb5b97"/><stop offset="0.7052" stop-color="#c15e95"/><stop offset="0.7559" stop-color="#d8678d"/><stop offset="0.7728" stop-color="#e4677f"/><stop offset="0.7939" stop-color="#f47b78"/><stop offset="0.8066" stop-color="#f88b7c"/><stop offset="0.815" stop-color="#f98e7d"/><stop offset="0.8193" stop-color="#f98d7a"/><stop offset="0.8235" stop-color="#fa8b6e"/><stop offset="0.8319" stop-color="#fd9c73"/><stop offset="0.8361" stop-color="#fdf9c9"/><stop offset="0.9966" stop-color="#fdf9c9"/></linearGradient>
<linearGradient id="d73" x1="0" y1="0" x2="0" y2="1"><stop offset="0" stop-color="#fa917d"/><stop offset="0.2787" stop-color="#f88d7c"/><stop offset="0.435" stop-color="#f17c7f"/><stop offset="0.5194" stop-color="#e46e86"/><stop offset="0.6123" stop-color="#c96093"/><stop offset="0.6588" stop-color="#bb5b97"/><stop offset="0.7052" stop-color="#c15e95"/><stop offset="0.7559" stop-color="#d8678d"/><stop offset="0.7728" stop-color="#e4677f"/><stop offset="0.7939" stop-color="#f47b78"/><stop offset="0.8108" stop-color="#f88d7c"/><stop offset="0.8193" stop-color="#f98d7a"/><stop offset="0.8235" stop-color="#fa8b6e"/><stop offset="0.8319" stop-color="#fd9c73"/><stop offset="0.8361" stop-color="#fdf9c9"/><stop offset="0.9966" stop-color="#fdf9c9"/></linearGradient>
<linearGradient id="d74" x1="0" y1="0" x2="0" y2="1"><stop offset="0" stop-color="#fa917d"/><stop offset="0.2787" stop-color="#f88d7c"/><stop offset="0.435" stop-color="#f17c7f"/><stop offset="0.5194" stop-color="#e46e86"/><stop offset="0.6123" stop-color="#c96093"/><stop offset="0.6588" stop-color="#bb5b97"/><stop offset="0.7052" stop-color="#c15e95"/><stop offset="0.7559" stop-color="#d8678d"/><stop offset="0.7728" stop-color="#e4677f"/><stop offset="0.7939" stop-color="#f47b78"/><stop offset="0.8108" stop-color="#f88d7c"/><stop offset="0.8193" stop-color="#f98d7a"/><stop offset="0.8235" stop-color="#fa8b6e"/><stop offset="0.8319" stop-color="#fd9c73"/><stop offset="0.8361" stop-color="#fdf9c9"/><stop offset="0.9966" stop-color="#fdf9c9"/></linearGradient>
<linearGradient id="d75" x1="0" y1="0" x2="0" y2="1"><stop offset="0" stop-color="#fa917d"/><stop offset="0.2787" stop-color="#f88d7c"/><stop offset="0.435" stop-color="#f17c7f"/><stop offset="0.5194" stop-color="#e46e86"/><stop offset="0.6123" stop-color="#c96093"/><stop offset="0.6588" stop-color="#bb5b97"/><stop offset="0.7052" stop-color="#c15e95"/><stop offset="0.7559" stop-color="#d8678d"/><stop offset="0.7728" stop-color="#e4677f"/><stop offset="0.7939" stop-color="#f47b78"/><stop offset="0.8108" stop-color="#f88d7c"/><stop offset="0.8193" stop-color="#f98d7a"/><stop offset="0.8235" stop-color="#fa8b6e"/><stop offset="0.8319" stop-color="#fd9c73"/><stop offset="0.8361" stop-color="#fdf9c9"/><stop offset="0.9966" stop-color="#fdf9c9"/></linearGradient>
<linearGradient id="d76" x1="0" y1="0" x2="0" y2="1"><stop offset="0" stop-color="#fa917d"/><stop offset="0.2787" stop-color="#f88d7c"/><stop offset="0.435" stop-color="#f17c7f"/><stop offset="0.5194" stop-color="#e46e86"/><stop offset="0.6123" stop-color="#c96093"/><stop offset="0.6588" stop-color="#bb5b97"/><stop offset="0.7052" stop-color="#c15e95"/><stop offset="0.7559" stop-color="#d8678d"/><stop offset="0.7728" stop-color="#e4677f"/><stop offset="0.7939" stop-color="#f47b78"/><stop offset="0.8108" stop-color="#f88d7c"/><stop offset="0.8193" stop-color="#f98d7a"/><stop offset="0.8235" stop-color="#fa8b6e"/><stop offset="0.8319" stop-color="#fd9c73"/><stop offset="0.8361" stop-color="#fdf9c9"/><stop offset="0.9966" stop-color="#fdf9c9"/></linearGradient>
<linearGradient id="d77" x1="0" y1="0" x2="0" y2="1"><stop offset="0" stop-color="#fa917d"/><stop offset="0.2787" stop-color="#f88d7c"/><stop offset="0.435" stop-color="#f17c7f"/><stop offset="0.5194" stop-color="#e46e86"/><stop offset="0.6081" stop-color="#ca6192"/><stop offset="0.6588" stop-color="#bb5b97"/><stop offset="0.7052" stop-color="#c15e95"/><stop offset="0.7559" stop-color="#d8678d"/><stop offset="0.7728" stop-color="#e4677f"/><stop offset="0.7939" stop-color="#f47b78"/><stop offset="0.8108" stop-color="#f88d7c"/><stop offset="0.8193" stop-color="#f98d7a"/><stop offset="0.8235" stop-color="#fa8b6e"/><stop offset="0.8319" stop-color="#fd9c73"/><stop offset="0.8361" stop-color="#fdf9c9"/><stop offset="0.9966" stop-color="#fdf9c9"/></linearGradient>
<linearGradient id="d78" x1="0" y1="0" x2="0" y2="1"><stop offset="0" stop-color="#fa917d"/><stop offset="0.2787" stop-color="#f88d7c"/><stop offset="0.435" stop-color="#f17c7f"/><stop offset="0.5194" stop-color="#e46e86"/><stop offset="0.6081" stop-color="#ca6192"/><stop offset="0.6588" stop-color="#bb5b97"/><stop offset="0.7052" stop-color="#c15e95"/><stop offset="0.7559" stop-color="#d8678d"/><stop offset="0.7728" stop-color="#e4677f"/><stop offset="0.7939" stop-color="#f47b78"/><stop offset="0.8108" stop-color="#f88d7c"/><stop offset="0.8193" stop-color="#f98d7a"/><stop offset="0.8235" stop-color="#fa8b6e"/><stop offset="0.8319" stop-color="#fd9c73"/><stop offset="0.8361" stop-color="#fdf9c9"/><stop offset="0.9966" stop-color="#fdf9c9"/></linearGradient>
<linearGradient id="d79" x1="0" y1="0" x2="0" y2="1"><stop offset="0" stop-color="#fa917d"/><stop offset="0.2787" stop-color="#f88d7c"/><stop offset="0.435" stop-color="#f17c7f"/><stop offset="0.5194" stop-color="#e46e86"/><stop offset="0.6081" stop-color="#ca6192"/><stop offset="0.6588" stop-color="#bb5b97"/><stop offset="0.7052" stop-color="#c15e95"/><stop offset="0.7559" stop-color="#d8678d"/><stop offset="0.7728" stop-color="#e4677f"/><stop offset="0.7939" stop-color="#f47b78"/><stop offset="0.8108" stop-color="#f88d7c"/><stop offset="0.8193" stop-color="#f98d7a"/><stop offset="0.8235" stop-color="#fa8b6e"/><stop offset="0.8319" stop-color="#fd9c73"/><stop offset="0.8361" stop-color="#fdf9c9"/><stop offset="0.9966" stop-color="#fdf9c9"/></linearGradient>
<linearGradient id="cbc" gradientUnits="userSpaceOnUse" x1="0" y1="286.3" x2="0" y2="391.6"><stop offset="0" stop-color="#fcfdcc"/><stop offset="0.05" stop-color="#fdecba"/><stop offset="0.1" stop-color="#fed9a8"/><stop offset="0.15" stop-color="#fec698"/><stop offset="0.2" stop-color="#feb28a"/><stop offset="0.25" stop-color="#fca081"/><stop offset="0.3" stop-color="#f88d7c"/><stop offset="0.35" stop-color="#f17b7f"/><stop offset="0.4" stop-color="#e46e86"/><stop offset="0.45" stop-color="#d5658e"/><stop offset="0.5" stop-color="#c55f94"/><stop offset="0.55" stop-color="#b45998"/><stop offset="0.6" stop-color="#a3549a"/><stop offset="0.65" stop-color="#934e9b"/><stop offset="0.7" stop-color="#834799"/><stop offset="0.75" stop-color="#744296"/><stop offset="0.8" stop-color="#623f8c"/><stop offset="0.85" stop-color="#514177"/><stop offset="0.9" stop-color="#433e5e"/><stop offset="0.95" stop-color="#383748"/><stop offset="1" stop-color="#333336"/></linearGradient>
<linearGradient id="cbd" gradientUnits="userSpaceOnUse" x1="0" y1="428.1" x2="0" y2="532.8"><stop offset="0" stop-color="#fcfdcc"/><stop offset="0.05" stop-color="#fdecba"/><stop offset="0.1" stop-color="#fed9a8"/><stop offset="0.15" stop-color="#fec698"/><stop offset="0.2" stop-color="#feb28a"/><stop offset="0.25" stop-color="#fca081"/><stop offset="0.3" stop-color="#f88d7c"/><stop offset="0.35" stop-color="#f17b7f"/><stop offset="0.4" stop-color="#e46e86"/><stop offset="0.45" stop-color="#d5658e"/><stop offset="0.5" stop-color="#c55f94"/><stop offset="0.55" stop-color="#b45998"/><stop offset="0.6" stop-color="#a3549a"/><stop offset="0.65" stop-color="#934e9b"/><stop offset="0.7" stop-color="#834799"/><stop offset="0.75" stop-color="#744296"/><stop offset="0.8" stop-color="#623f8c"/><stop offset="0.85" stop-color="#514177"/><stop offset="0.9" stop-color="#433e5e"/><stop offset="0.95" stop-color="#383748"/><stop offset="1" stop-color="#333336"/></linearGradient></defs>
<rect width="685" height="858" fill="#fff"/>
<line x1="44.5" y1="108.82" x2="49.3" y2="108.82" stroke="#000" stroke-width="1.3"/>
<line x1="594.8" y1="108.82" x2="599.6" y2="108.82" stroke="#000" stroke-width="1.3"/>
<line x1="44.5" y1="99.04" x2="53.5" y2="99.04" stroke="#000" stroke-width="1.3"/>
<line x1="590.6" y1="99.04" x2="599.6" y2="99.04" stroke="#000" stroke-width="1.3"/>
<line x1="44.5" y1="89.26" x2="49.3" y2="89.26" stroke="#000" stroke-width="1.3"/>
<line x1="594.8" y1="89.26" x2="599.6" y2="89.26" stroke="#000" stroke-width="1.3"/>
<line x1="44.5" y1="79.48" x2="53.5" y2="79.48" stroke="#000" stroke-width="1.3"/>
<line x1="590.6" y1="79.48" x2="599.6" y2="79.48" stroke="#000" stroke-width="1.3"/>
<line x1="44.5" y1="69.7" x2="49.3" y2="69.7" stroke="#000" stroke-width="1.3"/>
<line x1="594.8" y1="69.7" x2="599.6" y2="69.7" stroke="#000" stroke-width="1.3"/>
<line x1="44.5" y1="59.92" x2="53.5" y2="59.92" stroke="#000" stroke-width="1.3"/>
<line x1="590.6" y1="59.92" x2="599.6" y2="59.92" stroke="#000" stroke-width="1.3"/>
<line x1="44.5" y1="50.14" x2="49.3" y2="50.14" stroke="#000" stroke-width="1.3"/>
<line x1="594.8" y1="50.14" x2="599.6" y2="50.14" stroke="#000" stroke-width="1.3"/>
<line x1="44.5" y1="40.36" x2="53.5" y2="40.36" stroke="#000" stroke-width="1.3"/>
<line x1="590.6" y1="40.36" x2="599.6" y2="40.36" stroke="#000" stroke-width="1.3"/>
<line x1="44.5" y1="30.58" x2="49.3" y2="30.58" stroke="#000" stroke-width="1.3"/>
<line x1="594.8" y1="30.58" x2="599.6" y2="30.58" stroke="#000" stroke-width="1.3"/>
<line x1="44.5" y1="20.8" x2="53.5" y2="20.8" stroke="#000" stroke-width="1.3"/>
<line x1="590.6" y1="20.8" x2="599.6" y2="20.8" stroke="#000" stroke-width="1.3"/>
<line x1="44.5" y1="11.02" x2="49.3" y2="11.02" stroke="#000" stroke-width="1.3"/>
<line x1="594.8" y1="11.02" x2="599.6" y2="11.02" stroke="#000" stroke-width="1.3"/>
<line x1="63.2" y1="119" x2="63.2" y2="117.6" stroke="#000" stroke-width="1.3"/>
<line x1="63.2" y1="1.4" x2="63.2" y2="2.8" stroke="#000" stroke-width="1.3"/>
<line x1="81.71" y1="119" x2="81.71" y2="117.6" stroke="#000" stroke-width="1.3"/>
<line x1="81.71" y1="1.4" x2="81.71" y2="2.8" stroke="#000" stroke-width="1.3"/>
<line x1="100.21" y1="119" x2="100.21" y2="117.6" stroke="#000" stroke-width="1.3"/>
<line x1="100.21" y1="1.4" x2="100.21" y2="2.8" stroke="#000" stroke-width="1.3"/>
<line x1="118.72" y1="119" x2="118.72" y2="117.6" stroke="#000" stroke-width="1.3"/>
<line x1="118.72" y1="1.4" x2="118.72" y2="2.8" stroke="#000" stroke-width="1.3"/>
<line x1="137.22" y1="119" x2="137.22" y2="116.4" stroke="#000" stroke-width="1.3"/>
<line x1="137.22" y1="1.4" x2="137.22" y2="4" stroke="#000" stroke-width="1.3"/>
<line x1="155.72" y1="119" x2="155.72" y2="117.6" stroke="#000" stroke-width="1.3"/>
<line x1="155.72" y1="1.4" x2="155.72" y2="2.8" stroke="#000" stroke-width="1.3"/>
<line x1="174.23" y1="119" x2="174.23" y2="117.6" stroke="#000" stroke-width="1.3"/>
<line x1="174.23" y1="1.4" x2="174.23" y2="2.8" stroke="#000" stroke-width="1.3"/>
<line x1="192.73" y1="119" x2="192.73" y2="117.6" stroke="#000" stroke-width="1.3"/>
<line x1="192.73" y1="1.4" x2="192.73" y2="2.8" stroke="#000" stroke-width="1.3"/>
<line x1="211.24" y1="119" x2="211.24" y2="117.6" stroke="#000" stroke-width="1.3"/>
<line x1="211.24" y1="1.4" x2="211.24" y2="2.8" stroke="#000" stroke-width="1.3"/>
<line x1="229.74" y1="119" x2="229.74" y2="116.4" stroke="#000" stroke-width="1.3"/>
<line x1="229.74" y1="1.4" x2="229.74" y2="4" stroke="#000" stroke-width="1.3"/>
<line x1="248.24" y1="119" x2="248.24" y2="117.6" stroke="#000" stroke-width="1.3"/>
<line x1="248.24" y1="1.4" x2="248.24" y2="2.8" stroke="#000" stroke-width="1.3"/>
<line x1="266.75" y1="119" x2="266.75" y2="117.6" stroke="#000" stroke-width="1.3"/>
<line x1="266.75" y1="1.4" x2="266.75" y2="2.8" stroke="#000" stroke-width="1.3"/>
<line x1="285.25" y1="119" x2="285.25" y2="117.6" stroke="#000" stroke-width="1.3"/>
<line x1="285.25" y1="1.4" x2="285.25" y2="2.8" stroke="#000" stroke-width="1.3"/>
<line x1="303.76" y1="119" x2="303.76" y2="117.6" stroke="#000" stroke-width="1.3"/>
<line x1="303.76" y1="1.4" x2="303.76" y2="2.8" stroke="#000" stroke-width="1.3"/>
<line x1="322.26" y1="119" x2="322.26" y2="116.4" stroke="#000" stroke-width="1.3"/>
<line x1="322.26" y1="1.4" x2="322.26" y2="4" stroke="#000" stroke-width="1.3"/>
<line x1="340.76" y1="119" x2="340.76" y2="117.6" stroke="#000" stroke-width="1.3"/>
<line x1="340.76" y1="1.4" x2="340.76" y2="2.8" stroke="#000" stroke-width="1.3"/>
<line x1="359.27" y1="119" x2="359.27" y2="117.6" stroke="#000" stroke-width="1.3"/>
<line x1="359.27" y1="1.4" x2="359.27" y2="2.8" stroke="#000" stroke-width="1.3"/>
<line x1="377.77" y1="119" x2="377.77" y2="117.6" stroke="#000" stroke-width="1.3"/>
<line x1="377.77" y1="1.4" x2="377.77" y2="2.8" stroke="#000" stroke-width="1.3"/>
<line x1="396.28" y1="119" x2="396.28" y2="117.6" stroke="#000" stroke-width="1.3"/>
<line x1="396.28" y1="1.4" x2="396.28" y2="2.8" stroke="#000" stroke-width="1.3"/>
<line x1="414.78" y1="119" x2="414.78" y2="116.4" stroke="#000" stroke-width="1.3"/>
<line x1="414.78" y1="1.4" x2="414.78" y2="4" stroke="#000" stroke-width="1.3"/>
<line x1="433.28" y1="119" x2="433.28" y2="117.6" stroke="#000" stroke-width="1.3"/>
<line x1="433.28" y1="1.4" x2="433.28" y2="2.8" stroke="#000" stroke-width="1.3"/>
<line x1="451.79" y1="119" x2="451.79" y2="117.6" stroke="#000" stroke-width="1.3"/>
<line x1="451.79" y1="1.4" x2="451.79" y2="2.8" stroke="#000" stroke-width="1.3"/>
<line x1="470.29" y1="119" x2="470.29" y2="117.6" stroke="#000" stroke-width="1.3"/>
<line x1="470.29" y1="1.4" x2="470.29" y2="2.8" stroke="#000" stroke-width="1.3"/>
<line x1="488.8" y1="119" x2="488.8" y2="117.6" stroke="#000" stroke-width="1.3"/>
<line x1="488.8" y1="1.4" x2="488.8" y2="2.8" stroke="#000" stroke-width="1.3"/>
<line x1="507.3" y1="119" x2="507.3" y2="116.4" stroke="#000" stroke-width="1.3"/>
<line x1="507.3" y1="1.4" x2="507.3" y2="4" stroke="#000" stroke-width="1.3"/>
<line x1="525.8" y1="119" x2="525.8" y2="117.6" stroke="#000" stroke-width="1.3"/>
<line x1="525.8" y1="1.4" x2="525.8" y2="2.8" stroke="#000" stroke-width="1.3"/>
<line x1="544.31" y1="119" x2="544.31" y2="117.6" stroke="#000" stroke-width="1.3"/>
<line x1="544.31" y1="1.4" x2="544.31" y2="2.8" stroke="#000" stroke-width="1.3"/>
<line x1="562.81" y1="119" x2="562.81" y2="117.6" stroke="#000" stroke-width="1.3"/>
<line x1="562.81" y1="1.4" x2="562.81" y2="2.8" stroke="#000" stroke-width="1.3"/>
<line x1="581.32" y1="119" x2="581.32" y2="117.6" stroke="#000" stroke-width="1.3"/>
<line x1="581.32" y1="1.4" x2="581.32" y2="2.8" stroke="#000" stroke-width="1.3"/>
<line x1="43.5" y1="1.4" x2="600.6" y2="1.4" stroke="#000" stroke-width="1.6"/>
<line x1="43.5" y1="119" x2="600.6" y2="119" stroke="#000" stroke-width="1.6"/>
<line x1="44.5" y1="0.6" x2="44.5" y2="119.8" stroke="#000" stroke-width="2"/>
<line x1="599.6" y1="0.6" x2="599.6" y2="119.8" stroke="#000" stroke-width="2"/>
<path d="M44.7 89.26 L313.01 89.26 L331.51 85.05 L340.76 80.85 L350.02 71.75 L360.19 53.76 L368.52 18.84 L414.78 89.26 L599.82 89.26" fill="none" stroke="#000" stroke-width="2.4" stroke-linejoin="miter"/>
<text x="33.59" y="123" font-size="12.8" stroke="#000" stroke-width="0.35" fill="#000" textLength="5.82" lengthAdjust="spacingAndGlyphs">0</text>
<text x="27.56" y="103.44" font-size="12.8" stroke="#000" stroke-width="0.35" fill="#000" textLength="11.85" lengthAdjust="spacingAndGlyphs">20</text>
<text x="27.86" y="83.88" font-size="12.8" stroke="#000" stroke-width="0.35" fill="#000" textLength="11.54" lengthAdjust="spacingAndGlyphs">40</text>
<text x="27.56" y="64.32" font-size="12.8" stroke="#000" stroke-width="0.35" fill="#000" textLength="11.86" lengthAdjust="spacingAndGlyphs">60</text>
<text x="27.64" y="44.76" font-size="12.8" stroke="#000" stroke-width="0.35" fill="#000" textLength="11.77" lengthAdjust="spacingAndGlyphs">80</text>
<text x="23.37" y="25.2" font-size="12.8" stroke="#000" stroke-width="0.35" fill="#000" textLength="16.01" lengthAdjust="spacingAndGlyphs">100</text>
<text x="54.21" y="18.3" font-size="17.5" fill="#000" textLength="17.58" lengthAdjust="spacingAndGlyphs">(a)</text>
<text x="-12.69" y="68.5" font-size="15.7" fill="#000" textLength="51.77" lengthAdjust="spacingAndGlyphs" transform="rotate(-90 13.3 68.5)">E (mV m</text>
<text x="3.89" y="37.3" font-size="8.8" fill="#000" textLength="8.27" lengthAdjust="spacingAndGlyphs" transform="rotate(-90 8 37.3)">-1</text>
<text x="10.32" y="30.75" font-size="16.5" fill="#000" textLength="7.16" lengthAdjust="spacingAndGlyphs" transform="rotate(-90 13.3 30.75)">)</text>
<line x1="44.4" y1="248.92" x2="49.2" y2="248.92" stroke="#000" stroke-width="1.3"/>
<line x1="594.8" y1="248.92" x2="599.6" y2="248.92" stroke="#000" stroke-width="1.3"/>
<line x1="44.4" y1="243.04" x2="49.2" y2="243.04" stroke="#000" stroke-width="1.3"/>
<line x1="594.8" y1="243.04" x2="599.6" y2="243.04" stroke="#000" stroke-width="1.3"/>
<line x1="44.4" y1="237.16" x2="49.2" y2="237.16" stroke="#000" stroke-width="1.3"/>
<line x1="594.8" y1="237.16" x2="599.6" y2="237.16" stroke="#000" stroke-width="1.3"/>
<line x1="44.4" y1="231.28" x2="49.2" y2="231.28" stroke="#000" stroke-width="1.3"/>
<line x1="594.8" y1="231.28" x2="599.6" y2="231.28" stroke="#000" stroke-width="1.3"/>
<line x1="44.4" y1="225.4" x2="53.4" y2="225.4" stroke="#000" stroke-width="1.3"/>
<line x1="590.6" y1="225.4" x2="599.6" y2="225.4" stroke="#000" stroke-width="1.3"/>
<line x1="44.4" y1="219.52" x2="49.2" y2="219.52" stroke="#000" stroke-width="1.3"/>
<line x1="594.8" y1="219.52" x2="599.6" y2="219.52" stroke="#000" stroke-width="1.3"/>
<line x1="44.4" y1="213.64" x2="49.2" y2="213.64" stroke="#000" stroke-width="1.3"/>
<line x1="594.8" y1="213.64" x2="599.6" y2="213.64" stroke="#000" stroke-width="1.3"/>
<line x1="44.4" y1="207.76" x2="49.2" y2="207.76" stroke="#000" stroke-width="1.3"/>
<line x1="594.8" y1="207.76" x2="599.6" y2="207.76" stroke="#000" stroke-width="1.3"/>
<line x1="44.4" y1="201.88" x2="49.2" y2="201.88" stroke="#000" stroke-width="1.3"/>
<line x1="594.8" y1="201.88" x2="599.6" y2="201.88" stroke="#000" stroke-width="1.3"/>
<line x1="44.4" y1="196" x2="53.4" y2="196" stroke="#000" stroke-width="1.3"/>
<line x1="590.6" y1="196" x2="599.6" y2="196" stroke="#000" stroke-width="1.3"/>
<line x1="44.4" y1="190.12" x2="49.2" y2="190.12" stroke="#000" stroke-width="1.3"/>
<line x1="594.8" y1="190.12" x2="599.6" y2="190.12" stroke="#000" stroke-width="1.3"/>
<line x1="44.4" y1="184.24" x2="49.2" y2="184.24" stroke="#000" stroke-width="1.3"/>
<line x1="594.8" y1="184.24" x2="599.6" y2="184.24" stroke="#000" stroke-width="1.3"/>
<line x1="44.4" y1="178.36" x2="49.2" y2="178.36" stroke="#000" stroke-width="1.3"/>
<line x1="594.8" y1="178.36" x2="599.6" y2="178.36" stroke="#000" stroke-width="1.3"/>
<line x1="44.4" y1="172.48" x2="49.2" y2="172.48" stroke="#000" stroke-width="1.3"/>
<line x1="594.8" y1="172.48" x2="599.6" y2="172.48" stroke="#000" stroke-width="1.3"/>
<line x1="44.4" y1="166.6" x2="53.4" y2="166.6" stroke="#000" stroke-width="1.3"/>
<line x1="590.6" y1="166.6" x2="599.6" y2="166.6" stroke="#000" stroke-width="1.3"/>
<line x1="44.4" y1="160.72" x2="49.2" y2="160.72" stroke="#000" stroke-width="1.3"/>
<line x1="594.8" y1="160.72" x2="599.6" y2="160.72" stroke="#000" stroke-width="1.3"/>
<line x1="44.4" y1="154.84" x2="49.2" y2="154.84" stroke="#000" stroke-width="1.3"/>
<line x1="594.8" y1="154.84" x2="599.6" y2="154.84" stroke="#000" stroke-width="1.3"/>
<line x1="44.4" y1="148.96" x2="49.2" y2="148.96" stroke="#000" stroke-width="1.3"/>
<line x1="594.8" y1="148.96" x2="599.6" y2="148.96" stroke="#000" stroke-width="1.3"/>
<line x1="44.4" y1="143.08" x2="49.2" y2="143.08" stroke="#000" stroke-width="1.3"/>
<line x1="594.8" y1="143.08" x2="599.6" y2="143.08" stroke="#000" stroke-width="1.3"/>
<line x1="63.2" y1="254.9" x2="63.2" y2="253.5" stroke="#000" stroke-width="1.3"/>
<line x1="63.2" y1="137.6" x2="63.2" y2="139" stroke="#000" stroke-width="1.3"/>
<line x1="81.71" y1="254.9" x2="81.71" y2="253.5" stroke="#000" stroke-width="1.3"/>
<line x1="81.71" y1="137.6" x2="81.71" y2="139" stroke="#000" stroke-width="1.3"/>
<line x1="100.21" y1="254.9" x2="100.21" y2="253.5" stroke="#000" stroke-width="1.3"/>
<line x1="100.21" y1="137.6" x2="100.21" y2="139" stroke="#000" stroke-width="1.3"/>
<line x1="118.72" y1="254.9" x2="118.72" y2="253.5" stroke="#000" stroke-width="1.3"/>
<line x1="118.72" y1="137.6" x2="118.72" y2="139" stroke="#000" stroke-width="1.3"/>
<line x1="137.22" y1="254.9" x2="137.22" y2="252.3" stroke="#000" stroke-width="1.3"/>
<line x1="137.22" y1="137.6" x2="137.22" y2="140.2" stroke="#000" stroke-width="1.3"/>
<line x1="155.72" y1="254.9" x2="155.72" y2="253.5" stroke="#000" stroke-width="1.3"/>
<line x1="155.72" y1="137.6" x2="155.72" y2="139" stroke="#000" stroke-width="1.3"/>
<line x1="174.23" y1="254.9" x2="174.23" y2="253.5" stroke="#000" stroke-width="1.3"/>
<line x1="174.23" y1="137.6" x2="174.23" y2="139" stroke="#000" stroke-width="1.3"/>
<line x1="192.73" y1="254.9" x2="192.73" y2="253.5" stroke="#000" stroke-width="1.3"/>
<line x1="192.73" y1="137.6" x2="192.73" y2="139" stroke="#000" stroke-width="1.3"/>
<line x1="211.24" y1="254.9" x2="211.24" y2="253.5" stroke="#000" stroke-width="1.3"/>
<line x1="211.24" y1="137.6" x2="211.24" y2="139" stroke="#000" stroke-width="1.3"/>
<line x1="229.74" y1="254.9" x2="229.74" y2="252.3" stroke="#000" stroke-width="1.3"/>
<line x1="229.74" y1="137.6" x2="229.74" y2="140.2" stroke="#000" stroke-width="1.3"/>
<line x1="248.24" y1="254.9" x2="248.24" y2="253.5" stroke="#000" stroke-width="1.3"/>
<line x1="248.24" y1="137.6" x2="248.24" y2="139" stroke="#000" stroke-width="1.3"/>
<line x1="266.75" y1="254.9" x2="266.75" y2="253.5" stroke="#000" stroke-width="1.3"/>
<line x1="266.75" y1="137.6" x2="266.75" y2="139" stroke="#000" stroke-width="1.3"/>
<line x1="285.25" y1="254.9" x2="285.25" y2="253.5" stroke="#000" stroke-width="1.3"/>
<line x1="285.25" y1="137.6" x2="285.25" y2="139" stroke="#000" stroke-width="1.3"/>
<line x1="303.76" y1="254.9" x2="303.76" y2="253.5" stroke="#000" stroke-width="1.3"/>
<line x1="303.76" y1="137.6" x2="303.76" y2="139" stroke="#000" stroke-width="1.3"/>
<line x1="322.26" y1="254.9" x2="322.26" y2="252.3" stroke="#000" stroke-width="1.3"/>
<line x1="322.26" y1="137.6" x2="322.26" y2="140.2" stroke="#000" stroke-width="1.3"/>
<line x1="340.76" y1="254.9" x2="340.76" y2="253.5" stroke="#000" stroke-width="1.3"/>
<line x1="340.76" y1="137.6" x2="340.76" y2="139" stroke="#000" stroke-width="1.3"/>
<line x1="359.27" y1="254.9" x2="359.27" y2="253.5" stroke="#000" stroke-width="1.3"/>
<line x1="359.27" y1="137.6" x2="359.27" y2="139" stroke="#000" stroke-width="1.3"/>
<line x1="377.77" y1="254.9" x2="377.77" y2="253.5" stroke="#000" stroke-width="1.3"/>
<line x1="377.77" y1="137.6" x2="377.77" y2="139" stroke="#000" stroke-width="1.3"/>
<line x1="396.28" y1="254.9" x2="396.28" y2="253.5" stroke="#000" stroke-width="1.3"/>
<line x1="396.28" y1="137.6" x2="396.28" y2="139" stroke="#000" stroke-width="1.3"/>
<line x1="414.78" y1="254.9" x2="414.78" y2="252.3" stroke="#000" stroke-width="1.3"/>
<line x1="414.78" y1="137.6" x2="414.78" y2="140.2" stroke="#000" stroke-width="1.3"/>
<line x1="433.28" y1="254.9" x2="433.28" y2="253.5" stroke="#000" stroke-width="1.3"/>
<line x1="433.28" y1="137.6" x2="433.28" y2="139" stroke="#000" stroke-width="1.3"/>
<line x1="451.79" y1="254.9" x2="451.79" y2="253.5" stroke="#000" stroke-width="1.3"/>
<line x1="451.79" y1="137.6" x2="451.79" y2="139" stroke="#000" stroke-width="1.3"/>
<line x1="470.29" y1="254.9" x2="470.29" y2="253.5" stroke="#000" stroke-width="1.3"/>
<line x1="470.29" y1="137.6" x2="470.29" y2="139" stroke="#000" stroke-width="1.3"/>
<line x1="488.8" y1="254.9" x2="488.8" y2="253.5" stroke="#000" stroke-width="1.3"/>
<line x1="488.8" y1="137.6" x2="488.8" y2="139" stroke="#000" stroke-width="1.3"/>
<line x1="507.3" y1="254.9" x2="507.3" y2="252.3" stroke="#000" stroke-width="1.3"/>
<line x1="507.3" y1="137.6" x2="507.3" y2="140.2" stroke="#000" stroke-width="1.3"/>
<line x1="525.8" y1="254.9" x2="525.8" y2="253.5" stroke="#000" stroke-width="1.3"/>
<line x1="525.8" y1="137.6" x2="525.8" y2="139" stroke="#000" stroke-width="1.3"/>
<line x1="544.31" y1="254.9" x2="544.31" y2="253.5" stroke="#000" stroke-width="1.3"/>
<line x1="544.31" y1="137.6" x2="544.31" y2="139" stroke="#000" stroke-width="1.3"/>
<line x1="562.81" y1="254.9" x2="562.81" y2="253.5" stroke="#000" stroke-width="1.3"/>
<line x1="562.81" y1="137.6" x2="562.81" y2="139" stroke="#000" stroke-width="1.3"/>
<line x1="581.32" y1="254.9" x2="581.32" y2="253.5" stroke="#000" stroke-width="1.3"/>
<line x1="581.32" y1="137.6" x2="581.32" y2="139" stroke="#000" stroke-width="1.3"/>
<line x1="43.4" y1="137.6" x2="600.6" y2="137.6" stroke="#000" stroke-width="1.6"/>
<line x1="43.4" y1="254.9" x2="600.6" y2="254.9" stroke="#000" stroke-width="1.6"/>
<line x1="44.4" y1="136.8" x2="44.4" y2="255.7" stroke="#000" stroke-width="2"/>
<line x1="599.6" y1="136.8" x2="599.6" y2="255.7" stroke="#000" stroke-width="2"/>
<line x1="44.4" y1="160.72" x2="599.6" y2="160.72" stroke="#000" stroke-width="2.4"/>
<path d="M44.7 254.8 L313.01 254.8 L322.26 251.86 L331.51 248.33 L340.76 241.86 L350.02 230.69 L359.27 206.58 L368.52 160.72 L414.78 254.8 L599.82 254.8" fill="none" stroke="#000" stroke-width="2.4" stroke-linejoin="bevel"/>
<text x="32.62" y="259.2" font-size="12.8" stroke="#000" stroke-width="0.35" fill="#000" textLength="5.47" lengthAdjust="spacingAndGlyphs">0</text>
<text x="25.55" y="229.8" font-size="12.8" stroke="#000" stroke-width="0.35" fill="#000" textLength="12.53" lengthAdjust="spacingAndGlyphs">0.5</text>
<text x="25.19" y="200.4" font-size="12.8" stroke="#000" stroke-width="0.35" fill="#000" textLength="12.87" lengthAdjust="spacingAndGlyphs">1.0</text>
<text x="25.19" y="171" font-size="12.8" stroke="#000" stroke-width="0.35" fill="#000" textLength="12.9" lengthAdjust="spacingAndGlyphs">1.5</text>
<text x="40.32" y="267.6" font-size="13.2" font-weight="bold" fill="#000" textLength="6.78" lengthAdjust="spacingAndGlyphs">0</text>
<text x="132.18" y="267.6" font-size="13.2" font-weight="bold" fill="#000" textLength="12.24" lengthAdjust="spacingAndGlyphs">10</text>
<text x="225.02" y="267.6" font-size="13.2" font-weight="bold" fill="#000" textLength="11.91" lengthAdjust="spacingAndGlyphs">20</text>
<text x="317.67" y="267.6" font-size="13.2" font-weight="bold" fill="#000" textLength="11.78" lengthAdjust="spacingAndGlyphs">30</text>
<text x="410.27" y="267.6" font-size="13.2" font-weight="bold" fill="#000" textLength="11.69" lengthAdjust="spacingAndGlyphs">40</text>
<text x="502.62" y="267.6" font-size="13.2" font-weight="bold" fill="#000" textLength="11.87" lengthAdjust="spacingAndGlyphs">50</text>
<text x="595.08" y="267.6" font-size="13.2" font-weight="bold" fill="#000" textLength="11.93" lengthAdjust="spacingAndGlyphs">60</text>
<text x="52.79" y="154" font-size="17.5" fill="#000" textLength="17.92" lengthAdjust="spacingAndGlyphs">(b)</text>
<text x="71.55" y="180.7" font-size="18" font-weight="bold" fill="#000" textLength="43.43" lengthAdjust="spacingAndGlyphs">Case 1</text>
<text x="276.82" y="241" font-size="18" font-weight="bold" fill="#000" textLength="45.75" lengthAdjust="spacingAndGlyphs">Case 2</text>
<text x="-14.34" y="205.7" font-size="16.5" fill="#000" textLength="57.52" lengthAdjust="spacingAndGlyphs" transform="rotate(-90 14.3 205.7)">Q (mW m</text>
<text x="5.83" y="172.15" font-size="11" fill="#000" textLength="8.39" lengthAdjust="spacingAndGlyphs" transform="rotate(-90 10 172.15)">-2</text>
<text x="12.58" y="163.95" font-size="17" fill="#000" textLength="4.14" lengthAdjust="spacingAndGlyphs" transform="rotate(-90 14.3 163.95)">)</text>
<g shape-rendering="crispEdges">
<rect x="44" y="279.4" width="8" height="117" fill="url(#c0)"/>
<rect x="52" y="279.4" width="8" height="117" fill="url(#c1)"/>
<rect x="60" y="279.4" width="8" height="117" fill="url(#c2)"/>
<rect x="68" y="279.4" width="8" height="117" fill="url(#c3)"/>
<rect x="76" y="279.4" width="7" height="117" fill="url(#c4)"/>
<rect x="83" y="279.4" width="7" height="117" fill="url(#c5)"/>
<rect x="90" y="279.4" width="7" height="117" fill="url(#c6)"/>
<rect x="97" y="279.4" width="6" height="117" fill="url(#c7)"/>
<rect x="103" y="279.4" width="7" height="117" fill="url(#c8)"/>
<rect x="110" y="279.4" width="5" height="117" fill="url(#c9)"/>
<rect x="115" y="279.4" width="7" height="117" fill="url(#c10)"/>
<rect x="122" y="279.4" width="7" height="117" fill="url(#c11)"/>
<rect x="129" y="279.4" width="7" height="117" fill="url(#c12)"/>
<rect x="136" y="279.4" width="7" height="117" fill="url(#c13)"/>
<rect x="143" y="279.4" width="7" height="117" fill="url(#c14)"/>
<rect x="150" y="279.4" width="7" height="117" fill="url(#c15)"/>
<rect x="157" y="279.4" width="6" height="117" fill="url(#c16)"/>
<rect x="163" y="279.4" width="5" height="117" fill="url(#c17)"/>
<rect x="168" y="279.4" width="5" height="117" fill="url(#c18)"/>
<rect x="173" y="279.4" width="5" height="117" fill="url(#c19)"/>
<rect x="178" y="279.4" width="6" height="117" fill="url(#c20)"/>
<rect x="184" y="279.4" width="5" height="117" fill="url(#c21)"/>
<rect x="189" y="279.4" width="5" height="117" fill="url(#c22)"/>
<rect x="194" y="279.4" width="6" height="117" fill="url(#c23)"/>
<rect x="200" y="279.4" width="5" height="117" fill="url(#c24)"/>
<rect x="205" y="279.4" width="5" height="117" fill="url(#c25)"/>
<rect x="210" y="279.4" width="6" height="117" fill="url(#c26)"/>
<rect x="216" y="279.4" width="5" height="117" fill="url(#c27)"/>
<rect x="221" y="279.4" width="5" height="117" fill="url(#c28)"/>
<rect x="226" y="279.4" width="8" height="117" fill="url(#c29)"/>
<rect x="234" y="279.4" width="8" height="117" fill="url(#c30)"/>
<rect x="242" y="279.4" width="8" height="117" fill="url(#c31)"/>
<rect x="250" y="279.4" width="8" height="117" fill="url(#c32)"/>
<rect x="258" y="279.4" width="8" height="117" fill="url(#c33)"/>
<rect x="266" y="279.4" width="8" height="117" fill="url(#c34)"/>
<rect x="274" y="279.4" width="8" height="117" fill="url(#c35)"/>
<rect x="282" y="279.4" width="8" height="117" fill="url(#c36)"/>
<rect x="290" y="279.4" width="8" height="117" fill="url(#c37)"/>
<rect x="298" y="279.4" width="8" height="117" fill="url(#c38)"/>
<rect x="306" y="279.4" width="8" height="117" fill="url(#c39)"/>
<rect x="314" y="279.4" width="8" height="117" fill="url(#c40)"/>
<rect x="322" y="279.4" width="7" height="117" fill="url(#c41)"/>
<rect x="329" y="279.4" width="5" height="117" fill="url(#c42)"/>
<rect x="334" y="279.4" width="5" height="117" fill="url(#c43)"/>
<rect x="339" y="279.4" width="5" height="117" fill="url(#c44)"/>
<rect x="344" y="279.4" width="3" height="117" fill="url(#c45)"/>
<rect x="347" y="279.4" width="3" height="117" fill="url(#c46)"/>
<rect x="350" y="279.4" width="1" height="117" fill="url(#c47)"/>
<rect x="351" y="279.4" width="1" height="117" fill="url(#c48)"/>
<rect x="352" y="279.4" width="2" height="117" fill="url(#c49)"/>
<rect x="354" y="279.4" width="1" height="117" fill="url(#c50)"/>
<rect x="355" y="279.4" width="1" height="117" fill="url(#c51)"/>
<rect x="356" y="279.4" width="1" height="117" fill="url(#c52)"/>
<rect x="357" y="279.4" width="1" height="117" fill="url(#c53)"/>
<rect x="358" y="279.4" width="1" height="117" fill="url(#c54)"/>
<rect x="359" y="279.4" width="1" height="117" fill="url(#c55)"/>
<rect x="360" y="279.4" width="1" height="117" fill="url(#c56)"/>
<rect x="361" y="279.4" width="1" height="117" fill="url(#c57)"/>
<rect x="362" y="279.4" width="1" height="117" fill="url(#c58)"/>
<rect x="363" y="279.4" width="1" height="117" fill="url(#c59)"/>
<rect x="364" y="279.4" width="1" height="117" fill="url(#c60)"/>
<rect x="365" y="279.4" width="1" height="117" fill="url(#c61)"/>
<rect x="366" y="279.4" width="1" height="117" fill="url(#c62)"/>
<rect x="367" y="279.4" width="1" height="117" fill="url(#c63)"/>
<rect x="368" y="279.4" width="1" height="117" fill="url(#c64)"/>
<rect x="369" y="279.4" width="1" height="117" fill="url(#c65)"/>
<rect x="370" y="279.4" width="1" height="117" fill="url(#c66)"/>
<rect x="371" y="279.4" width="1" height="117" fill="url(#c67)"/>
<rect x="372" y="279.4" width="1" height="117" fill="url(#c68)"/>
<rect x="373" y="279.4" width="1" height="117" fill="url(#c69)"/>
<rect x="374" y="279.4" width="1" height="117" fill="url(#c70)"/>
<rect x="375" y="279.4" width="1" height="117" fill="url(#c71)"/>
<rect x="376" y="279.4" width="1" height="117" fill="url(#c72)"/>
<rect x="377" y="279.4" width="1" height="117" fill="url(#c73)"/>
<rect x="378" y="279.4" width="1" height="117" fill="url(#c74)"/>
<rect x="379" y="279.4" width="3" height="117" fill="url(#c75)"/>
<rect x="382" y="279.4" width="3" height="117" fill="url(#c76)"/>
<rect x="385" y="279.4" width="4" height="117" fill="url(#c77)"/>
<rect x="389" y="279.4" width="8" height="117" fill="url(#c78)"/>
<rect x="397" y="279.4" width="8" height="117" fill="url(#c79)"/>
<rect x="405" y="279.4" width="8" height="117" fill="url(#c80)"/>
<rect x="413" y="279.4" width="8" height="117" fill="url(#c81)"/>
<rect x="421" y="279.4" width="8" height="117" fill="url(#c82)"/>
<rect x="429" y="279.4" width="8" height="117" fill="url(#c83)"/>
<rect x="437" y="279.4" width="8" height="117" fill="url(#c84)"/>
<rect x="445" y="279.4" width="8" height="117" fill="url(#c85)"/>
<rect x="453" y="279.4" width="8" height="117" fill="url(#c86)"/>
<rect x="461" y="279.4" width="8" height="117" fill="url(#c87)"/>
<rect x="469" y="279.4" width="8" height="117" fill="url(#c88)"/>
<rect x="477" y="279.4" width="8" height="117" fill="url(#c89)"/>
<rect x="485" y="279.4" width="8" height="117" fill="url(#c90)"/>
<rect x="493" y="279.4" width="8" height="117" fill="url(#c91)"/>
<rect x="501" y="279.4" width="8" height="117" fill="url(#c92)"/>
<rect x="509" y="279.4" width="8" height="117" fill="url(#c93)"/>
<rect x="517" y="279.4" width="8" height="117" fill="url(#c94)"/>
<rect x="525" y="279.4" width="8" height="117" fill="url(#c95)"/>
<rect x="533" y="279.4" width="8" height="117" fill="url(#c96)"/>
<rect x="541" y="279.4" width="8" height="117" fill="url(#c97)"/>
<rect x="549" y="279.4" width="8" height="117" fill="url(#c98)"/>
<rect x="557" y="279.4" width="8" height="117" fill="url(#c99)"/>
<rect x="565" y="279.4" width="8" height="117" fill="url(#c100)"/>
<rect x="573" y="279.4" width="8" height="117" fill="url(#c101)"/>
<rect x="581" y="279.4" width="8" height="117" fill="url(#c102)"/>
<rect x="589" y="279.4" width="8" height="117" fill="url(#c103)"/>
<rect x="597" y="279.4" width="2" height="117" fill="url(#c104)"/>
</g>
<g fill="none" stroke-width="8" opacity="0.7" transform="scale(0.1)"><path d="M3863 3544l-5 7 7 5" stroke="#282346"/><path d="M3823 3546l-2 5 5 5" stroke="#2d254f"/><path d="M3793 3545l-3 6 3 5" stroke="#302655"/><path d="M3659 3516l-9 35 6 30" stroke="#6a2b8a"/><path d="M3648 3501l-13 25 -5 20 1 20 9 20" stroke="#6f2d8b"/><path d="M3628 3501l-13 25 -5 20 1 20 6 15" stroke="#74308c"/><path d="M3609 3501l-14 25 -6 20 2 20 6 15" stroke="#79318c"/><path d="M3589 3501l-14 25 -6 20 1 20 7 15" stroke="#7e338c"/><path d="M3569 3501l-15 25 -6 20 2 20 7 15" stroke="#83358d"/><path d="M3549 3501l-31 50 4 15 19 20" stroke="#88378d"/><path d="M3536 3491l-45 35 -16 25 1 10 7 10 34 20" stroke="#8c398d"/><path d="M3533 3472l-57 34 -33 28 -42 17 -3 5 4 5 41 13 32 17" stroke="#923b8c"/><path d="M3513 3464l-70 38 -176 39 -42 15 9 10 34 10 165 19" stroke="#983d8c"/><path d="M3463 3471l-20 10 -20 4 -316 56 -53 15 -1 5 15 10 41 10 154 17" stroke="#9c3e8c"/><path d="M3443 3462l-170 32 -303 42 -85 20 -6 5 11 10 33 10 180 21" stroke="#a3408b"/><path d="M3263 3479l-392 47 -92 15 -64 15 -9 5 2 5 16 10 19 6 92 14 108 10" stroke="#a7428a"/><path d="M3113 3480l-406 46 -100 15 -65 15 -9 5 7 10 47 15 186 23" stroke="#ad438a"/><path d="M2963 3478l-431 48 -99 15 -64 15 -9 5 6 10 45 15 96 15 106 11" stroke="#b14589"/><path d="M2833 3475l-438 46 -107 15 -32 10 -20 10 -5 10 16 15 24 10 55 10 137 14" stroke="#b74787"/><path d="M2710 3471l-417 41 -120 29 -25 10 -13 10 3 10 12 10 57 20 96 17" stroke="#bc4886"/><path d="M2603 3464l-320 30 -136 27 -84 25 -23 15 7 15 16 10 60 19 80 15" stroke="#c24a84"/><path d="M2523 3455l-270 26 -185 35 -102 30 -22 15 7 15 15 10 60 20 97 18" stroke="#c74d82"/><path d="M2523 3439l-240 20 -90 14 -190 35 -121 33 -22 10 -11 10 6 15 14 10 64 22 110 20" stroke="#cc4e80"/><path d="M2843 3397l-560 46 -260 40 -177 38 -48 15 -34 15 -11 10 6 15 22 15 42 15 140 27" stroke="#d2517d"/><path d="M3373 3326l-160 23 -930 77 -250 36 -185 34 -85 20 -64 20 -31 15 -10 10 0 5 5 10 12 10 46 20 62 15 100 17" stroke="#d6537b"/><path d="M3459 3291l-116 23 -120 17 -940 78 -300 42 -220 40 -100 24 -62 21 -36 20 -3 5 2 10 21 20 50 20 88 20 98 15" stroke="#dc5679"/><path d="M3534 3251l-91 28 -170 28 -990 83 -360 51 -260 48 -90 22 -71 25 -32 20 -3 10 4 10 25 20 57 21 84 19 116 17" stroke="#df5977"/><path d="M3817 3156l-64 7 -70 16 -150 55 -90 26 -125 21 -105 12 -930 78 -430 60 -160 27 -131 28 -109 30 -65 25 -24 20 8 20 19 15 22 10 65 20 98 20 127 18" stroke="#e45d74"/><path d="M5983 3132l-1850 0 -260 3 -110 10 -90 19 -140 50 -90 25 -101 17 -119 15 -960 82 -280 36 -230 35 -180 33 -147 34 -99 30 -52 25 -12 10 -2 10 7 15 10 10 50 25 73 20 122 22 144 18" stroke="#e86072"/><path d="M5983 3113l-1850 0 -260 3 -120 11 -80 17 -140 48 -90 24 -93 15 -117 14 -1000 88 -300 40 -230 35 -180 32 -170 38 -111 33 -65 30 -19 20 3 15 11 15 43 25 82 25 106 20 151 20" stroke="#ec656f"/><path d="M5983 3091l-1850 0 -260 3 -120 10 -80 16 -140 47 -90 22 -70 11 -130 16 -1030 93 -300 39 -240 37 -240 43 -148 33 -112 32 -78 33 -24 15 -14 15 -1 15 7 15 14 15 24 15 72 26 110 24 140 19" stroke="#ef6a6d"/><path d="M5983 3065l-1840 0 -300 4 -90 8 -70 13 -150 46 -90 21 -80 11 -1080 99 -240 31 -380 56 -320 58 -200 48 -77 26 -56 25 -39 25 -19 25 2 15 7 15 27 25 52 25 68 20 100 20 85 9" stroke="#f26f6b"/><path d="M5983 3029l-1840 0 -300 5 -90 7 -70 12 -150 43 -94 20 -1156 109 -290 39 -390 59 -330 61 -210 53 -80 28 -57 26 -52 35 -22 30 -1 15 6 20 26 31 51 29 79 25 70 13 110 9" stroke="#f5756b"/><path d="M5983 2976l-1840 0 -310 4 -80 6 -80 13 -140 37 -90 17 -280 19 -880 89 -470 68 -450 78 -280 63 -100 29 -80 30 -83 42 -49 35 -19 20 -15 25 -3 15 5 25 13 25 19 20 29 20 32 15 43 15 88 14 300 17" stroke="#f77a6a"/><path d="M5983 2829l-1840 0 -300 3 -90 5 -80 12 -140 40 -90 13 -280 9 -880 91 -370 61 -330 65 -290 66 -210 55 -150 49 -140 59 -100 59 -30 24 -25 26 -22 35 -14 35 -4 25 3 40 7 25 13 25 32 34 40 14 80 14 130 12 180 8 620 11" stroke="#f8816b"/></g>
<line x1="43.3" y1="279.1" x2="599.3" y2="279.1" stroke="#8c8c8c" stroke-width="1.2"/>
<line x1="43.3" y1="396.8" x2="599.3" y2="396.8" stroke="#707070" stroke-width="1"/>
<line x1="43.3" y1="278.6" x2="43.3" y2="397.4" stroke="#222" stroke-width="2"/>
<line x1="599.3" y1="278.6" x2="599.3" y2="397.4" stroke="#222" stroke-width="2"/>
<line x1="40.1" y1="396.4" x2="43.3" y2="396.4" stroke="#555" stroke-width="1.1"/>
<line x1="39.3" y1="379.69" x2="43.3" y2="379.69" stroke="#555" stroke-width="1.1"/>
<line x1="40.1" y1="362.98" x2="43.3" y2="362.98" stroke="#555" stroke-width="1.1"/>
<line x1="39.3" y1="346.27" x2="43.3" y2="346.27" stroke="#555" stroke-width="1.1"/>
<line x1="40.1" y1="329.56" x2="43.3" y2="329.56" stroke="#555" stroke-width="1.1"/>
<line x1="39.3" y1="312.85" x2="43.3" y2="312.85" stroke="#555" stroke-width="1.1"/>
<line x1="40.1" y1="296.14" x2="43.3" y2="296.14" stroke="#555" stroke-width="1.1"/>
<line x1="40.1" y1="279.44" x2="43.3" y2="279.44" stroke="#555" stroke-width="1.1"/>
<line x1="135.78" y1="396.9" x2="135.78" y2="398.6" stroke="#222" stroke-width="1.3"/>
<line x1="228.46" y1="396.9" x2="228.46" y2="398.6" stroke="#222" stroke-width="1.3"/>
<line x1="321.14" y1="396.9" x2="321.14" y2="398.6" stroke="#222" stroke-width="1.3"/>
<line x1="413.82" y1="396.9" x2="413.82" y2="398.6" stroke="#222" stroke-width="1.3"/>
<line x1="506.5" y1="396.9" x2="506.5" y2="398.6" stroke="#222" stroke-width="1.3"/>
<text x="19.83" y="383.89" font-size="11.9" font-weight="bold" fill="#000" textLength="17.81" lengthAdjust="spacingAndGlyphs">100</text>
<text x="20.26" y="350.47" font-size="11.9" font-weight="bold" fill="#000" textLength="17.37" lengthAdjust="spacingAndGlyphs">300</text>
<text x="20.18" y="317.05" font-size="11.9" font-weight="bold" fill="#000" textLength="17.45" lengthAdjust="spacingAndGlyphs">500</text>
<text x="-26.03" y="330.7" font-size="14.6" fill="#000" textLength="78.49" lengthAdjust="spacingAndGlyphs" transform="rotate(-90 12.8 330.7)">Altitude (km)</text>
<g shape-rendering="crispEdges">
<rect x="44" y="415.9" width="8" height="118.4" fill="url(#d0)"/>
<rect x="52" y="415.9" width="8" height="118.4" fill="url(#d1)"/>
<rect x="60" y="415.9" width="8" height="118.4" fill="url(#d2)"/>
<rect x="68" y="415.9" width="8" height="118.4" fill="url(#d3)"/>
<rect x="76" y="415.9" width="8" height="118.4" fill="url(#d4)"/>
<rect x="84" y="415.9" width="8" height="118.4" fill="url(#d5)"/>
<rect x="92" y="415.9" width="8" height="118.4" fill="url(#d6)"/>
<rect x="100" y="415.9" width="8" height="118.4" fill="url(#d7)"/>
<rect x="108" y="415.9" width="8" height="118.4" fill="url(#d8)"/>
<rect x="116" y="415.9" width="8" height="118.4" fill="url(#d9)"/>
<rect x="124" y="415.9" width="8" height="118.4" fill="url(#d10)"/>
<rect x="132" y="415.9" width="8" height="118.4" fill="url(#d11)"/>
<rect x="140" y="415.9" width="8" height="118.4" fill="url(#d12)"/>
<rect x="148" y="415.9" width="8" height="118.4" fill="url(#d13)"/>
<rect x="156" y="415.9" width="8" height="118.4" fill="url(#d14)"/>
<rect x="164" y="415.9" width="8" height="118.4" fill="url(#d15)"/>
<rect x="172" y="415.9" width="8" height="118.4" fill="url(#d16)"/>
<rect x="180" y="415.9" width="8" height="118.4" fill="url(#d17)"/>
<rect x="188" y="415.9" width="8" height="118.4" fill="url(#d18)"/>
<rect x="196" y="415.9" width="8" height="118.4" fill="url(#d19)"/>
<rect x="204" y="415.9" width="8" height="118.4" fill="url(#d20)"/>
<rect x="212" y="415.9" width="8" height="118.4" fill="url(#d21)"/>
<rect x="220" y="415.9" width="8" height="118.4" fill="url(#d22)"/>
<rect x="228" y="415.9" width="8" height="118.4" fill="url(#d23)"/>
<rect x="236" y="415.9" width="8" height="118.4" fill="url(#d24)"/>
<rect x="244" y="415.9" width="8" height="118.4" fill="url(#d25)"/>
<rect x="252" y="415.9" width="8" height="118.4" fill="url(#d26)"/>
<rect x="260" y="415.9" width="8" height="118.4" fill="url(#d27)"/>
<rect x="268" y="415.9" width="8" height="118.4" fill="url(#d28)"/>
<rect x="276" y="415.9" width="8" height="118.4" fill="url(#d29)"/>
<rect x="284" y="415.9" width="8" height="118.4" fill="url(#d30)"/>
<rect x="292" y="415.9" width="8" height="118.4" fill="url(#d31)"/>
<rect x="300" y="415.9" width="8" height="118.4" fill="url(#d32)"/>
<rect x="308" y="415.9" width="8" height="118.4" fill="url(#d33)"/>
<rect x="316" y="415.9" width="8" height="118.4" fill="url(#d34)"/>
<rect x="324" y="415.9" width="8" height="118.4" fill="url(#d35)"/>
<rect x="332" y="415.9" width="8" height="118.4" fill="url(#d36)"/>
<rect x="340" y="415.9" width="8" height="118.4" fill="url(#d37)"/>
<rect x="348" y="415.9" width="6" height="118.4" fill="url(#d38)"/>
<rect x="354" y="415.9" width="3" height="118.4" fill="url(#d39)"/>
<rect x="357" y="415.9" width="3" height="118.4" fill="url(#d40)"/>
<rect x="360" y="415.9" width="3" height="118.4" fill="url(#d41)"/>
<rect x="363" y="415.9" width="3" height="118.4" fill="url(#d42)"/>
<rect x="366" y="415.9" width="3" height="118.4" fill="url(#d43)"/>
<rect x="369" y="415.9" width="3" height="118.4" fill="url(#d44)"/>
<rect x="372" y="415.9" width="3" height="118.4" fill="url(#d45)"/>
<rect x="375" y="415.9" width="3" height="118.4" fill="url(#d46)"/>
<rect x="378" y="415.9" width="3" height="118.4" fill="url(#d47)"/>
<rect x="381" y="415.9" width="3" height="118.4" fill="url(#d48)"/>
<rect x="384" y="415.9" width="3" height="118.4" fill="url(#d49)"/>
<rect x="387" y="415.9" width="3" height="118.4" fill="url(#d50)"/>
<rect x="390" y="415.9" width="3" height="118.4" fill="url(#d51)"/>
<rect x="393" y="415.9" width="3" height="118.4" fill="url(#d52)"/>
<rect x="396" y="415.9" width="3" height="118.4" fill="url(#d53)"/>
<rect x="399" y="415.9" width="3" height="118.4" fill="url(#d54)"/>
<rect x="402" y="415.9" width="8" height="118.4" fill="url(#d55)"/>
<rect x="410" y="415.9" width="8" height="118.4" fill="url(#d56)"/>
<rect x="418" y="415.9" width="8" height="118.4" fill="url(#d57)"/>
<rect x="426" y="415.9" width="8" height="118.4" fill="url(#d58)"/>
<rect x="434" y="415.9" width="8" height="118.4" fill="url(#d59)"/>
<rect x="442" y="415.9" width="8" height="118.4" fill="url(#d60)"/>
<rect x="450" y="415.9" width="8" height="118.4" fill="url(#d61)"/>
<rect x="458" y="415.9" width="8" height="118.4" fill="url(#d62)"/>
<rect x="466" y="415.9" width="8" height="118.4" fill="url(#d63)"/>
<rect x="474" y="415.9" width="8" height="118.4" fill="url(#d64)"/>
<rect x="482" y="415.9" width="8" height="118.4" fill="url(#d65)"/>
<rect x="490" y="415.9" width="8" height="118.4" fill="url(#d66)"/>
<rect x="498" y="415.9" width="8" height="118.4" fill="url(#d67)"/>
<rect x="506" y="415.9" width="8" height="118.4" fill="url(#d68)"/>
<rect x="514" y="415.9" width="8" height="118.4" fill="url(#d69)"/>
<rect x="522" y="415.9" width="8" height="118.4" fill="url(#d70)"/>
<rect x="530" y="415.9" width="8" height="118.4" fill="url(#d71)"/>
<rect x="538" y="415.9" width="8" height="118.4" fill="url(#d72)"/>
<rect x="546" y="415.9" width="8" height="118.4" fill="url(#d73)"/>
<rect x="554" y="415.9" width="8" height="118.4" fill="url(#d74)"/>
<rect x="562" y="415.9" width="8" height="118.4" fill="url(#d75)"/>
<rect x="570" y="415.9" width="8" height="118.4" fill="url(#d76)"/>
<rect x="578" y="415.9" width="8" height="118.4" fill="url(#d77)"/>
<rect x="586" y="415.9" width="8" height="118.4" fill="url(#d78)"/>
<rect x="594" y="415.9" width="5" height="118.4" fill="url(#d79)"/>
</g>
<g fill="none" stroke-width="8" opacity="0.7" transform="scale(0.1)"><path d="M5983 4936l-1650 2 -77 3 10 5 57 7 1660 5" stroke="#b14589"/><path d="M5983 4915l-1660 1 -280 5 -35 10 -18 10 6 15 19 15 18 8 35 2 255 5 1660 1" stroke="#b74787"/><path d="M5983 4898l-1660 1 -280 4 -68 18 -44 20 5 15 18 15 69 25" stroke="#bc4886"/><path d="M4913 4882l-590 1 -290 4 -105 29 -57 25 5 15 18 15 32 15 47 14" stroke="#c24a84"/><path d="M4313 4867l-280 4 -167 45 -48 20 -6 5 4 15 17 15 18 10 72 23" stroke="#c74d82"/><path d="M5983 4850l-1660 1 -280 3 -84 17 -106 29 -40 13 -42 23 -5 5 4 15 17 20 26 15 50 15" stroke="#cc4e80"/><path d="M5983 4833l-1660 1 -290 4 -110 24 -110 30 -56 24 -33 20 -4 5 3 15 17 20 34 20 49 17" stroke="#d2517d"/><path d="M5983 4816l-1660 1 -290 4 -110 23 -110 28 -80 32 -49 27 -10 10 0 5 5 15 13 15 31 20 52 20" stroke="#d6537b"/><path d="M5983 4798l-1660 1 -290 3 -220 50 -102 39 -76 40 -10 10 0 5 5 15 13 16 39 24 61 22" stroke="#dc5679"/><path d="M5983 4779l-1660 0 -290 4 -120 24 -110 27 -146 57 -72 40 -9 10 3 15 8 15 16 15 47 25 63 21" stroke="#df5977"/><path d="M5983 4758l-1660 0 -290 4 -160 32 -110 31 -152 61 -48 25 -34 25 -4 5 5 20 15 20 19 15 53 25 76 22" stroke="#e45d74"/><path d="M5983 4735l-1660 0 -290 3 -110 21 -120 29 -170 61 -110 52 -352 40 8 10 11 5 39 10 161 25 133 15 60 25 80 22" stroke="#e86072"/><path d="M5983 4709l-1660 0 -290 3 -110 21 -110 25 -170 59 -120 51 -210 20 -425 28 -155 15 -64 10 7 10 22 10 115 21 194 19 516 33 80 23" stroke="#ec656f"/><path d="M5983 4678l-1950 4 -100 18 -120 28 -170 58 -120 48 -210 17 -350 19 -320 23 -266 23 -164 20 -20 5 5 10 17 10 32 10 80 15 127 15 350 25 509 21 226 14" stroke="#ef6a6d"/><path d="M5983 4642l-1950 3 -100 18 -120 28 -170 58 -120 46 -210 17 -360 16 -510 36 -372 32 -253 30 -72 15 9 15 17 10 49 15 49 10 163 21 226 19 304 17 290 11 350 7" stroke="#f26f6b"/><path d="M5983 4595l-1950 4 -100 17 -120 29 -290 102 -210 17 -360 15 -690 48 -450 40 -310 38 -150 29 -19 7 2 10 24 20 43 17 79 18 91 14 202 21 258 17 270 9 480 9" stroke="#f5756b"/><path d="M5983 4528l-1950 3 -100 18 -120 29 -290 103 -210 16 -360 14 -920 68 -530 53 -190 25 -150 26 -104 23 -76 25 -16 10 9 25 33 25 67 25 97 21 134 19 216 13 350 10 1240 16" stroke="#f77a6a"/><path d="M5983 4392l-1950 3 -100 18 -120 32 -290 108 -90 10 -120 7 -360 12 -760 61 -530 50 -300 35 -240 35 -180 35 -130 39 -70 31 -51 38 -18 20 -7 15 5 35 11 25 15 20 25 20 27 15 53 13 80 10 270 14 450 10 1920 13 490 9" stroke="#f8816b"/></g>
<line x1="43.3" y1="415.6" x2="599.3" y2="415.6" stroke="#8c8c8c" stroke-width="1.2"/>
<line x1="43.3" y1="534.7" x2="599.3" y2="534.7" stroke="#707070" stroke-width="1"/>
<line x1="43.3" y1="415.1" x2="43.3" y2="535.3" stroke="#222" stroke-width="2"/>
<line x1="599.3" y1="415.1" x2="599.3" y2="535.3" stroke="#222" stroke-width="2"/>
<line x1="40.1" y1="534.3" x2="43.3" y2="534.3" stroke="#555" stroke-width="1.1"/>
<line x1="39.3" y1="517.39" x2="43.3" y2="517.39" stroke="#555" stroke-width="1.1"/>
<line x1="40.1" y1="500.48" x2="43.3" y2="500.48" stroke="#555" stroke-width="1.1"/>
<line x1="39.3" y1="483.58" x2="43.3" y2="483.58" stroke="#555" stroke-width="1.1"/>
<line x1="40.1" y1="466.67" x2="43.3" y2="466.67" stroke="#555" stroke-width="1.1"/>
<line x1="39.3" y1="449.76" x2="43.3" y2="449.76" stroke="#555" stroke-width="1.1"/>
<line x1="40.1" y1="432.85" x2="43.3" y2="432.85" stroke="#555" stroke-width="1.1"/>
<line x1="40.1" y1="415.95" x2="43.3" y2="415.95" stroke="#555" stroke-width="1.1"/>
<line x1="135.78" y1="534.8" x2="135.78" y2="536.5" stroke="#222" stroke-width="1.3"/>
<line x1="228.46" y1="534.8" x2="228.46" y2="536.5" stroke="#222" stroke-width="1.3"/>
<line x1="321.14" y1="534.8" x2="321.14" y2="536.5" stroke="#222" stroke-width="1.3"/>
<line x1="413.82" y1="534.8" x2="413.82" y2="536.5" stroke="#222" stroke-width="1.3"/>
<line x1="506.5" y1="534.8" x2="506.5" y2="536.5" stroke="#222" stroke-width="1.3"/>
<text x="19.83" y="521.59" font-size="11.9" font-weight="bold" fill="#000" textLength="17.81" lengthAdjust="spacingAndGlyphs">100</text>
<text x="20.26" y="487.78" font-size="11.9" font-weight="bold" fill="#000" textLength="17.37" lengthAdjust="spacingAndGlyphs">300</text>
<text x="20.18" y="453.96" font-size="11.9" font-weight="bold" fill="#000" textLength="17.45" lengthAdjust="spacingAndGlyphs">500</text>
<text x="-26.03" y="472.4" font-size="14.6" fill="#000" textLength="78.49" lengthAdjust="spacingAndGlyphs" transform="rotate(-90 12.8 472.4)">Altitude (km)</text>
<rect x="44.5" y="561" width="554.5" height="118.6" fill="#3269fa"/>
<path d="M44.5 648.6 C46.5 653.1 48.5 655.5 53.5 655.5 H599 V679.6 H44.5 Z" fill="#3237f5"/>
<path d="M44.5 653.6 C46.5 657.1 48.5 659.6 53.5 659.6 H599 V679.6 H44.5 Z" fill="#2a2ac8"/>
<rect x="44.5" y="660.7" width="554.5" height="18.9" fill="#3232aa"/>
<rect x="44.5" y="662.3" width="554.5" height="1" fill="#2c2c96"/>
<rect x="44.5" y="663.3" width="554.5" height="16.3" fill="#3232a5"/>
<path d="M348 657.9 C343 657.7 342.17 657.45 340 657 C337.83 656.55 336.27 656.03 335 655.2 C333.73 654.37 332.92 653.2 332.4 652 C331.88 650.8 331.87 650.5 331.9 648 C331.93 645.5 332.68 640.83 332.6 637 C332.52 633.17 331.63 628.17 331.4 625 C331.17 621.83 330.98 620.25 331.2 618 C331.42 615.75 331.65 613.83 332.7 611.5 C333.75 609.17 335.53 606.42 337.5 604 C339.47 601.58 342.25 599.13 344.5 597 C346.75 594.87 348.78 592.87 351 591.2 C353.22 589.53 355.8 588.53 357.8 587 C359.8 585.47 360.8 583.77 363 582 C365.2 580.23 368.57 577.88 371 576.4 C373.43 574.92 375.05 573.92 377.6 573.1 C380.15 572.28 383.47 571.85 386.3 571.5 C389.13 571.15 390.78 571.17 394.6 571 C398.42 570.83 404.33 570.38 409.2 570.5 C414.07 570.62 418.93 571.13 423.8 571.7 C428.67 572.27 433.53 573.17 438.4 573.9 C443.27 574.63 448.13 575.25 453 576.1 C457.87 576.95 464.07 578.08 467.6 579 C471.13 579.92 474.2 580.75 474.2 581.6 C474.2 582.45 471.13 582.95 467.6 584.1 C464.07 585.25 457.87 587.05 453 588.5 C448.13 589.95 442.78 591.1 438.4 592.8 C434.02 594.5 429.62 596.87 426.7 598.7 C423.78 600.53 422.6 602.22 420.9 603.8 C419.2 605.38 417.85 606.5 416.5 608.2 C415.15 609.9 413.77 612.27 412.8 614 C411.83 615.73 411.25 616.27 410.7 618.6 C410.15 620.93 409.78 624.72 409.5 628 C409.22 631.28 408.92 634.4 409 638.3 C409.08 642.2 409.78 648.75 410 651.4 C410.22 654.05 410.8 653.33 410.3 654.2 C409.8 655.07 409.05 655.98 407 656.6 C404.95 657.22 404.17 657.63 398 657.9 C391.83 658.17 378.33 658.2 370 658.2 C361.67 658.2 353 658.1 348 657.9 Z" fill="#2d9bf5"/>
<path d="M353 657.6 C349.58 657.03 349.5 656.6 348.5 655 C347.5 653.4 346.77 651 347 648 C347.23 645 349.32 641.25 349.9 637 C350.48 632.75 350.05 626.83 350.5 622.5 C350.95 618.17 351.8 614.08 352.6 611 C353.4 607.92 354.23 606.33 355.3 604 C356.37 601.67 357.72 599.17 359 597 C360.28 594.83 361.58 592.7 363 591 C364.42 589.3 365.28 588.08 367.5 586.8 C369.72 585.52 373.38 584.1 376.3 583.3 C379.22 582.5 382.08 582.22 385 582 C387.92 581.78 390.87 581.93 393.8 582 C396.73 582.07 399.9 582.1 402.6 582.4 C405.3 582.7 407.93 583.15 410 583.8 C412.07 584.45 413.55 585.15 415 586.3 C416.45 587.45 418.28 589.25 418.7 590.7 C419.12 592.15 418.45 593.78 417.5 595 C416.55 596.22 414.5 596.5 413 598 C411.5 599.5 409.75 602 408.5 604 C407.25 606 406.12 607.57 405.5 610 C404.88 612.43 405.13 615.6 404.8 618.6 C404.47 621.6 403.93 624.72 403.5 628 C403.07 631.28 402.2 634.4 402.2 638.3 C402.2 642.2 403.37 648.45 403.5 651.4 C403.63 654.35 404.25 654.9 403 656 C401.75 657.1 401.67 657.6 396 658 C390.33 658.4 376.17 658.47 369 658.4 C361.83 658.33 356.42 658.17 353 657.6 Z" fill="#2dbef5"/>
<path d="M358.5 658 C356.08 657.4 355.45 656.67 354.5 655 C353.55 653.33 352.83 651 352.8 648 C352.77 645 353.85 641.25 354.3 637 C354.75 632.75 354.97 626.83 355.5 622.5 C356.03 618.17 356.67 613.95 357.5 611 C358.33 608.05 359.27 607.15 360.5 604.8 C361.73 602.45 363 599.23 364.9 596.9 C366.8 594.57 369.27 592.27 371.9 590.8 C374.53 589.33 377.78 588.62 380.7 588.1 C383.62 587.58 386.48 587.55 389.4 587.7 C392.32 587.85 395.72 588.2 398.2 589 C400.68 589.8 402.98 591.03 404.3 592.5 C405.62 593.97 406.1 595.9 406.1 597.8 C406.1 599.7 404.88 601.87 404.3 603.9 C403.72 605.93 403.28 607.55 402.6 610 C401.92 612.45 400.88 615.6 400.2 618.6 C399.52 621.6 398.93 624.72 398.5 628 C398.07 631.28 397.53 634.4 397.6 638.3 C397.67 642.2 398.92 648.45 398.9 651.4 C398.88 654.35 398.98 654.87 397.5 656 C396.02 657.13 394.75 657.77 390 658.2 C385.25 658.63 374.25 658.63 369 658.6 C363.75 658.57 360.92 658.6 358.5 658 Z" fill="#32e1eb"/>
<path d="M361 658.2 C359.25 657.58 359.17 656.7 358.5 655 C357.83 653.3 357.17 651 357 648 C356.83 645 357.12 641.25 357.5 637 C357.88 632.75 358.62 626.83 359.3 622.5 C359.98 618.17 360.52 613.8 361.6 611 C362.68 608.2 364.23 607.77 365.8 605.7 C367.37 603.63 368.97 600.37 371 598.6 C373.03 596.83 375.37 595.75 378 595.1 C380.63 594.45 384.17 594.55 386.8 594.7 C389.43 594.85 392.2 594.9 393.8 596 C395.4 597.1 395.97 598.97 396.4 601.3 C396.83 603.63 396.53 607.12 396.4 610 C396.27 612.88 395.8 615.6 395.6 618.6 C395.4 621.6 395.32 624.72 395.2 628 C395.08 631.28 394.83 634.4 394.9 638.3 C394.97 642.2 395.75 648.45 395.6 651.4 C395.45 654.35 395.43 654.85 394 656 C392.57 657.15 391.17 657.85 387 658.3 C382.83 658.75 373.33 658.72 369 658.7 C364.67 658.68 362.75 658.82 361 658.2 Z" fill="#4bebcd"/>
<path d="M362.5 658.3 C361.08 657.68 361 656.72 360.5 655 C360 653.28 359.52 651 359.5 648 C359.48 645 359.95 641.25 360.4 637 C360.85 632.75 361.52 626.83 362.2 622.5 C362.88 618.17 363.47 613.37 364.5 611 C365.53 608.63 366.88 609.63 368.4 608.3 C369.92 606.97 371.55 604.17 373.6 603 C375.65 601.83 378.5 601.58 380.7 601.3 C382.9 601.02 385.35 600.72 386.8 601.3 C388.25 601.88 388.82 603.35 389.4 604.8 C389.98 606.25 390.03 607.7 390.3 610 C390.57 612.3 390.88 615.6 391 618.6 C391.12 621.6 391 624.72 391 628 C391 631.28 390.78 634.4 391 638.3 C391.22 642.2 392.3 648.45 392.3 651.4 C392.3 654.35 392.22 654.85 391 656 C389.78 657.15 388.67 657.85 385 658.3 C381.33 658.75 372.75 658.7 369 658.7 C365.25 658.7 363.92 658.92 362.5 658.3 Z" fill="#6eeeaa"/>
<path d="M363.5 658.3 C362.33 657.68 362.3 656.72 362 655 C361.7 653.28 361.57 651 361.7 648 C361.83 645 362.33 641.25 362.8 637 C363.27 632.75 363.88 626.5 364.5 622.5 C365.12 618.5 365.83 614.92 366.5 613 C367.17 611.08 367.75 611.5 368.5 611 C369.25 610.5 369.7 610.75 371 610 C372.3 609.25 374.4 607.22 376.3 606.5 C378.2 605.78 380.8 605.4 382.4 605.7 C384 606 385.17 607.25 385.9 608.3 C386.63 609.35 386.6 610.28 386.8 612 C387 613.72 387.05 615.93 387.1 618.6 C387.15 621.27 387.1 624.72 387.1 628 C387.1 631.28 386.88 634.4 387.1 638.3 C387.32 642.2 388.33 648.45 388.4 651.4 C388.47 654.35 388.57 654.83 387.5 656 C386.43 657.17 385.08 657.95 382 658.4 C378.92 658.85 372.08 658.72 369 658.7 C365.92 658.68 364.67 658.92 363.5 658.3 Z" fill="#9bf27d"/>
<path d="M364.3 658.4 C363.33 657.78 363.38 656.73 363.2 655 C363.02 653.27 362.98 651 363.2 648 C363.42 645 363.93 641.25 364.5 637 C365.07 632.75 365.98 626.58 366.6 622.5 C367.22 618.42 367.63 614.5 368.2 612.5 C368.77 610.5 369.2 611.28 370 610.5 C370.8 609.72 371.8 608.42 373 607.8 C374.2 607.18 376.15 606.72 377.2 606.8 C378.25 606.88 378.8 607.43 379.3 608.3 C379.8 609.17 379.92 610.28 380.2 612 C380.48 613.72 380.7 615.93 381 618.6 C381.3 621.27 381.7 624.72 382 628 C382.3 631.28 382.4 634.4 382.8 638.3 C383.2 642.2 384.28 648.45 384.4 651.4 C384.52 654.35 384.4 654.83 383.5 656 C382.6 657.17 381.42 657.95 379 658.4 C376.58 658.85 371.45 658.7 369 658.7 C366.55 658.7 365.27 659.02 364.3 658.4 Z" fill="#cdf655"/>
<path d="M365 658.4 C364.25 657.78 364.58 656.73 364.5 655 C364.42 653.27 364.25 651 364.5 648 C364.75 645 365.42 641.25 366 637 C366.58 632.75 367.47 626.08 368 622.5 C368.53 618.92 368.77 616.78 369.2 615.5 C369.63 614.22 370 614.63 370.6 614.8 C371.2 614.97 372.07 615.22 372.8 616.5 C373.53 617.78 374.3 620.25 375 622.5 C375.7 624.75 376.42 627.37 377 630 C377.58 632.63 377.82 634.73 378.5 638.3 C379.18 641.87 380.77 648.45 381.1 651.4 C381.43 654.35 381.18 654.82 380.5 656 C379.82 657.18 378.92 658.05 377 658.5 C375.08 658.95 371 658.72 369 658.7 C367 658.68 365.75 659.02 365 658.4 Z" fill="#f2f632"/>
<path d="M364.6 658.7 C363.83 658.03 364.37 656.45 364.4 655 C364.43 653.55 364.62 651.68 364.8 650 C364.98 648.32 365.2 647.07 365.5 644.9 C365.8 642.73 366.2 640.15 366.6 637 C367 633.85 367.57 628.5 367.9 626 C368.23 623.5 368.35 622.5 368.6 622 C368.85 621.5 369 622.17 369.4 623 C369.8 623.83 370.43 625.5 371 627 C371.57 628.5 372.3 630.12 372.8 632 C373.3 633.88 373.55 636.15 374 638.3 C374.45 640.45 375.03 642.78 375.5 644.9 C375.97 647.02 376.55 649.23 376.8 651 C377.05 652.77 377.22 654.23 377 655.5 C376.78 656.77 376.83 658.02 375.5 658.6 C374.17 659.18 370.82 658.98 369 659 C367.18 659.02 365.37 659.37 364.6 658.7 Z" fill="#facd32"/>
<path d="M365.2 658.8 C364.57 658.13 365.13 656.47 365.2 655 C365.27 653.53 365.37 651.68 365.6 650 C365.83 648.32 366.27 646.9 366.6 644.9 C366.93 642.9 367.3 639.95 367.6 638 C367.9 636.05 368.12 633.87 368.4 633.2 C368.68 632.53 368.93 633.28 369.3 634 C369.67 634.72 370.1 636.25 370.6 637.5 C371.1 638.75 371.78 640.27 372.3 641.5 C372.82 642.73 373.28 643.48 373.7 644.9 C374.12 646.32 374.58 648.32 374.8 650 C375.02 651.68 375.17 653.55 375 655 C374.83 656.45 374.8 658.03 373.8 658.7 C372.8 659.37 370.43 658.98 369 659 C367.57 659.02 365.83 659.47 365.2 658.8 Z" fill="#faa02d"/>
<path d="M365.7 658.8 C365.15 658.13 365.62 656.47 365.7 655 C365.78 653.53 365.93 651.68 366.2 650 C366.47 648.32 366.97 646.4 367.3 644.9 C367.63 643.4 367.95 641.82 368.2 641 C368.45 640.18 368.57 640.03 368.8 640 C369.03 639.97 369.27 640.3 369.6 640.8 C369.93 641.3 370.43 642.32 370.8 643 C371.17 643.68 371.47 643.73 371.8 644.9 C372.13 646.07 372.6 648.32 372.8 650 C373 651.68 373.1 653.53 373 655 C372.9 656.47 372.87 658.13 372.2 658.8 C371.53 659.47 370.08 659 369 659 C367.92 659 366.25 659.47 365.7 658.8 Z" fill="#fa7828"/>
<path d="M366.1 658.8 C365.62 658.13 366.02 656.38 366.1 655 C366.18 653.62 366.35 651.8 366.6 650.5 C366.85 649.2 367.3 648.02 367.6 647.2 C367.9 646.38 368.13 645.8 368.4 645.6 C368.67 645.4 368.9 645.63 369.2 646 C369.5 646.37 369.87 647.05 370.2 647.8 C370.53 648.55 370.98 649.3 371.2 650.5 C371.42 651.7 371.53 653.62 371.5 655 C371.47 656.38 371.42 658.13 371 658.8 C370.58 659.47 369.82 659 369 659 C368.18 659 366.58 659.47 366.1 658.8 Z" fill="#f5502d"/>
<path d="M366.5 658.8 C366.17 658.13 366.42 656.13 366.5 655 C366.58 653.87 366.77 652.8 367 652 C367.23 651.2 367.63 650.63 367.9 650.2 C368.17 649.77 368.35 649.4 368.6 649.4 C368.85 649.4 369.15 649.73 369.4 650.2 C369.65 650.67 369.95 651.4 370.1 652.2 C370.25 653 370.33 653.9 370.3 655 C370.27 656.1 370.2 658.13 369.9 658.8 C369.6 659.47 369.07 659 368.5 659 C367.93 659 366.83 659.47 366.5 658.8 Z" fill="#d72d2d"/>
<line x1="44" y1="560.5" x2="599.6" y2="560.5" stroke="#8c8c8c" stroke-width="1"/>
<line x1="44" y1="680" x2="599.6" y2="680" stroke="#707070" stroke-width="1"/>
<line x1="44.2" y1="560" x2="44.2" y2="680.6" stroke="#777" stroke-width="1"/>
<line x1="599.6" y1="560" x2="599.6" y2="680.6" stroke="#888" stroke-width="1.2"/>
<line x1="40.8" y1="679.6" x2="44" y2="679.6" stroke="#555" stroke-width="1.1"/>
<line x1="40" y1="662.64" x2="44" y2="662.64" stroke="#555" stroke-width="1.1"/>
<line x1="40.8" y1="645.67" x2="44" y2="645.67" stroke="#555" stroke-width="1.1"/>
<line x1="40" y1="628.71" x2="44" y2="628.71" stroke="#555" stroke-width="1.1"/>
<line x1="40.8" y1="611.74" x2="44" y2="611.74" stroke="#555" stroke-width="1.1"/>
<line x1="40" y1="594.78" x2="44" y2="594.78" stroke="#555" stroke-width="1.1"/>
<line x1="40.8" y1="577.81" x2="44" y2="577.81" stroke="#555" stroke-width="1.1"/>
<line x1="40.8" y1="560.85" x2="44" y2="560.85" stroke="#555" stroke-width="1.1"/>
<line x1="135.78" y1="680.1" x2="135.78" y2="681.8" stroke="#222" stroke-width="1.3"/>
<line x1="228.46" y1="680.1" x2="228.46" y2="681.8" stroke="#222" stroke-width="1.3"/>
<line x1="321.14" y1="680.1" x2="321.14" y2="681.8" stroke="#222" stroke-width="1.3"/>
<line x1="413.82" y1="680.1" x2="413.82" y2="681.8" stroke="#222" stroke-width="1.3"/>
<line x1="506.5" y1="680.1" x2="506.5" y2="681.8" stroke="#222" stroke-width="1.3"/>
<text x="19.83" y="666.84" font-size="11.9" font-weight="bold" fill="#000" textLength="17.81" lengthAdjust="spacingAndGlyphs">100</text>
<text x="20.26" y="632.91" font-size="11.9" font-weight="bold" fill="#000" textLength="17.37" lengthAdjust="spacingAndGlyphs">300</text>
<text x="20.18" y="598.98" font-size="11.9" font-weight="bold" fill="#000" textLength="17.45" lengthAdjust="spacingAndGlyphs">500</text>
<text x="-26.03" y="614.6" font-size="14.6" fill="#000" textLength="78.49" lengthAdjust="spacingAndGlyphs" transform="rotate(-90 12.8 614.6)">Altitude (km)</text>
<rect x="44.5" y="703.8" width="554.7" height="119.5" fill="#3269fa"/>
<path d="M44.5 793 C46.5 797.5 48.5 799.9 53.5 799.9 H599.2 V823.3 H44.5 Z" fill="#3237f5"/>
<path d="M44.5 798 C46.5 801.5 48.5 804 53.5 804 H599.2 V823.3 H44.5 Z" fill="#2a2ac8"/>
<rect x="44.5" y="805.1" width="554.7" height="18.2" fill="#3232aa"/>
<rect x="44.5" y="806.7" width="554.7" height="1" fill="#2c2c96"/>
<rect x="44.5" y="807.7" width="554.7" height="15.6" fill="#3232a5"/>
<path d="M343.8 802.3 C338.1 802.1 337.97 801.85 335.8 801.4 C333.63 800.95 332.07 800.43 330.8 799.6 C329.53 798.77 328.72 797.6 328.2 796.4 C327.68 795.2 327.67 794.9 327.7 792.4 C327.73 789.9 328.48 785.23 328.4 781.4 C328.32 777.57 327.43 772.57 327.2 769.4 C326.97 766.23 326.78 764.65 327 762.4 C327.22 760.15 327.39 758.23 328.5 755.9 C329.61 753.57 331.42 750.82 333.66 748.4 C335.89 745.98 339.27 743.53 341.9 741.4 C344.53 739.27 346.78 737.27 349.43 735.6 C352.08 733.93 355.54 732.93 357.8 731.4 C360.06 729.87 360.8 728.17 363 726.4 C365.2 724.63 368.57 722.28 371 720.8 C373.43 719.32 375.05 718.32 377.6 717.5 C380.15 716.68 383.47 716.25 386.3 715.9 C389.13 715.55 390.78 715.57 394.6 715.4 C398.42 715.23 404.33 714.78 409.2 714.9 C414.07 715.02 419.43 715.53 423.8 716.1 C428.17 716.67 431.03 717.57 435.4 718.3 C439.77 719.03 445.13 719.65 450 720.5 C454.87 721.35 461.07 722.48 464.6 723.4 C468.13 724.32 471.2 725.15 471.2 726 C471.2 726.85 468.13 727.35 464.6 728.5 C461.07 729.65 454.87 731.45 450 732.9 C445.13 734.35 439.28 735.5 435.4 737.2 C431.52 738.9 429.12 741.27 426.7 743.1 C424.28 744.93 422.6 746.62 420.9 748.2 C419.2 749.78 417.85 750.9 416.5 752.6 C415.15 754.3 413.77 756.67 412.8 758.4 C411.83 760.13 411.25 760.67 410.7 763 C410.15 765.33 409.78 769.12 409.5 772.4 C409.22 775.68 408.92 778.8 409 782.7 C409.08 786.6 409.78 793.15 410 795.8 C410.22 798.45 410.8 797.73 410.3 798.6 C409.8 799.47 409.05 800.38 407 801 C404.95 801.62 404.17 802.03 398 802.3 C391.83 802.57 379.03 802.6 370 802.6 C360.97 802.6 349.5 802.5 343.8 802.3 Z" fill="#2d9bf5"/>
<path d="M353 802 C349.58 801.43 349.5 801 348.5 799.4 C347.5 797.8 346.77 795.4 347 792.4 C347.23 789.4 349.32 785.65 349.9 781.4 C350.48 777.15 350.05 771.23 350.5 766.9 C350.95 762.57 351.8 758.48 352.6 755.4 C353.4 752.32 354.23 750.73 355.3 748.4 C356.37 746.07 357.72 743.57 359 741.4 C360.28 739.23 361.58 737.1 363 735.4 C364.42 733.7 365.28 732.48 367.5 731.2 C369.72 729.92 373.38 728.5 376.3 727.7 C379.22 726.9 382.08 726.62 385 726.4 C387.92 726.18 390.87 726.33 393.8 726.4 C396.73 726.47 399.9 726.5 402.6 726.8 C405.3 727.1 407.93 727.55 410 728.2 C412.07 728.85 413.55 729.55 415 730.7 C416.45 731.85 418.28 733.65 418.7 735.1 C419.12 736.55 418.45 738.18 417.5 739.4 C416.55 740.62 414.5 740.9 413 742.4 C411.5 743.9 409.75 746.4 408.5 748.4 C407.25 750.4 406.12 751.97 405.5 754.4 C404.88 756.83 405.13 760 404.8 763 C404.47 766 403.93 769.12 403.5 772.4 C403.07 775.68 402.2 778.8 402.2 782.7 C402.2 786.6 403.37 792.85 403.5 795.8 C403.63 798.75 404.25 799.3 403 800.4 C401.75 801.5 401.67 802 396 802.4 C390.33 802.8 376.17 802.87 369 802.8 C361.83 802.73 356.42 802.57 353 802 Z" fill="#2dbef5"/>
<path d="M358.5 802.4 C356.08 801.8 355.45 801.07 354.5 799.4 C353.55 797.73 352.83 795.4 352.8 792.4 C352.77 789.4 353.85 785.65 354.3 781.4 C354.75 777.15 354.97 771.23 355.5 766.9 C356.03 762.57 356.67 758.35 357.5 755.4 C358.33 752.45 359.27 751.55 360.5 749.2 C361.73 746.85 363 743.63 364.9 741.3 C366.8 738.97 369.27 736.67 371.9 735.2 C374.53 733.73 377.78 733.02 380.7 732.5 C383.62 731.98 386.48 731.95 389.4 732.1 C392.32 732.25 395.72 732.6 398.2 733.4 C400.68 734.2 402.98 735.43 404.3 736.9 C405.62 738.37 406.1 740.3 406.1 742.2 C406.1 744.1 404.88 746.27 404.3 748.3 C403.72 750.33 403.28 751.95 402.6 754.4 C401.92 756.85 400.88 760 400.2 763 C399.52 766 398.93 769.12 398.5 772.4 C398.07 775.68 397.53 778.8 397.6 782.7 C397.67 786.6 398.92 792.85 398.9 795.8 C398.88 798.75 398.98 799.27 397.5 800.4 C396.02 801.53 394.75 802.17 390 802.6 C385.25 803.03 374.25 803.03 369 803 C363.75 802.97 360.92 803 358.5 802.4 Z" fill="#32e1eb"/>
<path d="M361 802.6 C359.25 801.98 359.17 801.1 358.5 799.4 C357.83 797.7 357.17 795.4 357 792.4 C356.83 789.4 357.12 785.65 357.5 781.4 C357.88 777.15 358.62 771.23 359.3 766.9 C359.98 762.57 360.52 758.2 361.6 755.4 C362.68 752.6 364.23 752.17 365.8 750.1 C367.37 748.03 368.97 744.77 371 743 C373.03 741.23 375.37 740.15 378 739.5 C380.63 738.85 384.17 738.95 386.8 739.1 C389.43 739.25 392.2 739.3 393.8 740.4 C395.4 741.5 395.97 743.37 396.4 745.7 C396.83 748.03 396.53 751.52 396.4 754.4 C396.27 757.28 395.8 760 395.6 763 C395.4 766 395.32 769.12 395.2 772.4 C395.08 775.68 394.83 778.8 394.9 782.7 C394.97 786.6 395.75 792.85 395.6 795.8 C395.45 798.75 395.43 799.25 394 800.4 C392.57 801.55 391.17 802.25 387 802.7 C382.83 803.15 373.33 803.12 369 803.1 C364.67 803.08 362.75 803.22 361 802.6 Z" fill="#4bebcd"/>
<path d="M362.5 802.7 C361.08 802.08 361 801.12 360.5 799.4 C360 797.68 359.52 795.4 359.5 792.4 C359.48 789.4 359.95 785.65 360.4 781.4 C360.85 777.15 361.52 771.23 362.2 766.9 C362.88 762.57 363.47 757.77 364.5 755.4 C365.53 753.03 366.88 754.03 368.4 752.7 C369.92 751.37 371.55 748.57 373.6 747.4 C375.65 746.23 378.5 745.98 380.7 745.7 C382.9 745.42 385.35 745.12 386.8 745.7 C388.25 746.28 388.82 747.75 389.4 749.2 C389.98 750.65 390.03 752.1 390.3 754.4 C390.57 756.7 390.88 760 391 763 C391.12 766 391 769.12 391 772.4 C391 775.68 390.78 778.8 391 782.7 C391.22 786.6 392.3 792.85 392.3 795.8 C392.3 798.75 392.22 799.25 391 800.4 C389.78 801.55 388.67 802.25 385 802.7 C381.33 803.15 372.75 803.1 369 803.1 C365.25 803.1 363.92 803.32 362.5 802.7 Z" fill="#6eeeaa"/>
<path d="M363.5 802.7 C362.33 802.08 362.3 801.12 362 799.4 C361.7 797.68 361.57 795.4 361.7 792.4 C361.83 789.4 362.33 785.65 362.8 781.4 C363.27 777.15 363.88 770.9 364.5 766.9 C365.12 762.9 365.83 759.32 366.5 757.4 C367.17 755.48 367.75 755.9 368.5 755.4 C369.25 754.9 369.7 755.15 371 754.4 C372.3 753.65 374.4 751.62 376.3 750.9 C378.2 750.18 380.8 749.8 382.4 750.1 C384 750.4 385.17 751.65 385.9 752.7 C386.63 753.75 386.6 754.68 386.8 756.4 C387 758.12 387.05 760.33 387.1 763 C387.15 765.67 387.1 769.12 387.1 772.4 C387.1 775.68 386.88 778.8 387.1 782.7 C387.32 786.6 388.33 792.85 388.4 795.8 C388.47 798.75 388.57 799.23 387.5 800.4 C386.43 801.57 385.08 802.35 382 802.8 C378.92 803.25 372.08 803.12 369 803.1 C365.92 803.08 364.67 803.32 363.5 802.7 Z" fill="#9bf27d"/>
<path d="M364.3 802.8 C363.33 802.18 363.38 801.13 363.2 799.4 C363.02 797.67 362.98 795.4 363.2 792.4 C363.42 789.4 363.93 785.65 364.5 781.4 C365.07 777.15 365.98 770.98 366.6 766.9 C367.22 762.82 367.63 758.9 368.2 756.9 C368.77 754.9 369.2 755.68 370 754.9 C370.8 754.12 371.8 752.82 373 752.2 C374.2 751.58 376.15 751.12 377.2 751.2 C378.25 751.28 378.8 751.83 379.3 752.7 C379.8 753.57 379.92 754.68 380.2 756.4 C380.48 758.12 380.7 760.33 381 763 C381.3 765.67 381.7 769.12 382 772.4 C382.3 775.68 382.4 778.8 382.8 782.7 C383.2 786.6 384.28 792.85 384.4 795.8 C384.52 798.75 384.4 799.23 383.5 800.4 C382.6 801.57 381.42 802.35 379 802.8 C376.58 803.25 371.45 803.1 369 803.1 C366.55 803.1 365.27 803.42 364.3 802.8 Z" fill="#cdf655"/>
<path d="M365 802.8 C364.25 802.18 364.58 801.13 364.5 799.4 C364.42 797.67 364.25 795.4 364.5 792.4 C364.75 789.4 365.42 785.65 366 781.4 C366.58 777.15 367.47 770.48 368 766.9 C368.53 763.32 368.77 761.18 369.2 759.9 C369.63 758.62 370 759.03 370.6 759.2 C371.2 759.37 372.07 759.62 372.8 760.9 C373.53 762.18 374.3 764.65 375 766.9 C375.7 769.15 376.42 771.77 377 774.4 C377.58 777.03 377.82 779.13 378.5 782.7 C379.18 786.27 380.77 792.85 381.1 795.8 C381.43 798.75 381.18 799.22 380.5 800.4 C379.82 801.58 378.92 802.45 377 802.9 C375.08 803.35 371 803.12 369 803.1 C367 803.08 365.75 803.42 365 802.8 Z" fill="#f2f632"/>
<path d="M364.6 803.1 C363.83 802.43 364.37 800.85 364.4 799.4 C364.43 797.95 364.62 796.08 364.8 794.4 C364.98 792.72 365.2 791.47 365.5 789.3 C365.8 787.13 366.2 784.55 366.6 781.4 C367 778.25 367.57 772.9 367.9 770.4 C368.23 767.9 368.35 766.9 368.6 766.4 C368.85 765.9 369 766.57 369.4 767.4 C369.8 768.23 370.43 769.9 371 771.4 C371.57 772.9 372.3 774.52 372.8 776.4 C373.3 778.28 373.55 780.55 374 782.7 C374.45 784.85 375.03 787.18 375.5 789.3 C375.97 791.42 376.55 793.63 376.8 795.4 C377.05 797.17 377.22 798.63 377 799.9 C376.78 801.17 376.83 802.42 375.5 803 C374.17 803.58 370.82 803.38 369 803.4 C367.18 803.42 365.37 803.77 364.6 803.1 Z" fill="#facd32"/>
<path d="M365.2 803.2 C364.57 802.53 365.13 800.87 365.2 799.4 C365.27 797.93 365.37 796.08 365.6 794.4 C365.83 792.72 366.27 791.3 366.6 789.3 C366.93 787.3 367.3 784.35 367.6 782.4 C367.9 780.45 368.12 778.27 368.4 777.6 C368.68 776.93 368.93 777.68 369.3 778.4 C369.67 779.12 370.1 780.65 370.6 781.9 C371.1 783.15 371.78 784.67 372.3 785.9 C372.82 787.13 373.28 787.88 373.7 789.3 C374.12 790.72 374.58 792.72 374.8 794.4 C375.02 796.08 375.17 797.95 375 799.4 C374.83 800.85 374.8 802.43 373.8 803.1 C372.8 803.77 370.43 803.38 369 803.4 C367.57 803.42 365.83 803.87 365.2 803.2 Z" fill="#faa02d"/>
<path d="M365.7 803.2 C365.15 802.53 365.62 800.87 365.7 799.4 C365.78 797.93 365.93 796.08 366.2 794.4 C366.47 792.72 366.97 790.8 367.3 789.3 C367.63 787.8 367.95 786.22 368.2 785.4 C368.45 784.58 368.57 784.43 368.8 784.4 C369.03 784.37 369.27 784.7 369.6 785.2 C369.93 785.7 370.43 786.72 370.8 787.4 C371.17 788.08 371.47 788.13 371.8 789.3 C372.13 790.47 372.6 792.72 372.8 794.4 C373 796.08 373.1 797.93 373 799.4 C372.9 800.87 372.87 802.53 372.2 803.2 C371.53 803.87 370.08 803.4 369 803.4 C367.92 803.4 366.25 803.87 365.7 803.2 Z" fill="#fa7828"/>
<path d="M366.1 803.2 C365.62 802.53 366.02 800.78 366.1 799.4 C366.18 798.02 366.35 796.2 366.6 794.9 C366.85 793.6 367.3 792.42 367.6 791.6 C367.9 790.78 368.13 790.2 368.4 790 C368.67 789.8 368.9 790.03 369.2 790.4 C369.5 790.77 369.87 791.45 370.2 792.2 C370.53 792.95 370.98 793.7 371.2 794.9 C371.42 796.1 371.53 798.02 371.5 799.4 C371.47 800.78 371.42 802.53 371 803.2 C370.58 803.87 369.82 803.4 369 803.4 C368.18 803.4 366.58 803.87 366.1 803.2 Z" fill="#f5502d"/>
<path d="M366.5 803.2 C366.17 802.53 366.42 800.53 366.5 799.4 C366.58 798.27 366.77 797.2 367 796.4 C367.23 795.6 367.63 795.03 367.9 794.6 C368.17 794.17 368.35 793.8 368.6 793.8 C368.85 793.8 369.15 794.13 369.4 794.6 C369.65 795.07 369.95 795.8 370.1 796.6 C370.25 797.4 370.33 798.3 370.3 799.4 C370.27 800.5 370.2 802.53 369.9 803.2 C369.6 803.87 369.07 803.4 368.5 803.4 C367.93 803.4 366.83 803.87 366.5 803.2 Z" fill="#d72d2d"/>
<line x1="44" y1="703.3" x2="599.8" y2="703.3" stroke="#8c8c8c" stroke-width="1"/>
<line x1="44" y1="823.7" x2="599.8" y2="823.7" stroke="#707070" stroke-width="1"/>
<line x1="44.2" y1="702.8" x2="44.2" y2="824.3" stroke="#777" stroke-width="1"/>
<line x1="599.8" y1="702.8" x2="599.8" y2="824.3" stroke="#888" stroke-width="1.2"/>
<line x1="40.8" y1="823.3" x2="44" y2="823.3" stroke="#555" stroke-width="1.1"/>
<line x1="40" y1="806.21" x2="44" y2="806.21" stroke="#555" stroke-width="1.1"/>
<line x1="40.8" y1="789.12" x2="44" y2="789.12" stroke="#555" stroke-width="1.1"/>
<line x1="40" y1="772.02" x2="44" y2="772.02" stroke="#555" stroke-width="1.1"/>
<line x1="40.8" y1="754.93" x2="44" y2="754.93" stroke="#555" stroke-width="1.1"/>
<line x1="40" y1="737.84" x2="44" y2="737.84" stroke="#555" stroke-width="1.1"/>
<line x1="40.8" y1="720.75" x2="44" y2="720.75" stroke="#555" stroke-width="1.1"/>
<line x1="40.8" y1="703.65" x2="44" y2="703.65" stroke="#555" stroke-width="1.1"/>
<line x1="135.78" y1="823.8" x2="135.78" y2="825.5" stroke="#222" stroke-width="1.3"/>
<line x1="228.46" y1="823.8" x2="228.46" y2="825.5" stroke="#222" stroke-width="1.3"/>
<line x1="321.14" y1="823.8" x2="321.14" y2="825.5" stroke="#222" stroke-width="1.3"/>
<line x1="413.82" y1="823.8" x2="413.82" y2="825.5" stroke="#222" stroke-width="1.3"/>
<line x1="506.5" y1="823.8" x2="506.5" y2="825.5" stroke="#222" stroke-width="1.3"/>
<text x="19.83" y="810.41" font-size="11.9" font-weight="bold" fill="#000" textLength="17.81" lengthAdjust="spacingAndGlyphs">100</text>
<text x="20.26" y="776.22" font-size="11.9" font-weight="bold" fill="#000" textLength="17.37" lengthAdjust="spacingAndGlyphs">300</text>
<text x="20.18" y="742.04" font-size="11.9" font-weight="bold" fill="#000" textLength="17.45" lengthAdjust="spacingAndGlyphs">500</text>
<text x="-26.03" y="752.4" font-size="14.6" fill="#000" textLength="78.49" lengthAdjust="spacingAndGlyphs" transform="rotate(-90 12.8 752.4)">Altitude (km)</text>
<text x="40.12" y="547.7" font-size="13.2" font-weight="bold" fill="#000" textLength="6.78" lengthAdjust="spacingAndGlyphs">0</text>
<text x="130.74" y="547.7" font-size="13.2" font-weight="bold" fill="#000" textLength="12.24" lengthAdjust="spacingAndGlyphs">10</text>
<text x="223.74" y="547.7" font-size="13.2" font-weight="bold" fill="#000" textLength="11.91" lengthAdjust="spacingAndGlyphs">20</text>
<text x="316.55" y="547.7" font-size="13.2" font-weight="bold" fill="#000" textLength="11.78" lengthAdjust="spacingAndGlyphs">30</text>
<text x="409.31" y="547.7" font-size="13.2" font-weight="bold" fill="#000" textLength="11.69" lengthAdjust="spacingAndGlyphs">40</text>
<text x="501.82" y="547.7" font-size="13.2" font-weight="bold" fill="#000" textLength="11.87" lengthAdjust="spacingAndGlyphs">50</text>
<text x="594.44" y="547.7" font-size="13.2" font-weight="bold" fill="#000" textLength="11.93" lengthAdjust="spacingAndGlyphs">60</text>
<text x="40.12" y="836.7" font-size="13.2" font-weight="bold" fill="#000" textLength="6.78" lengthAdjust="spacingAndGlyphs">0</text>
<text x="130.74" y="836.7" font-size="13.2" font-weight="bold" fill="#000" textLength="12.24" lengthAdjust="spacingAndGlyphs">10</text>
<text x="223.74" y="836.7" font-size="13.2" font-weight="bold" fill="#000" textLength="11.91" lengthAdjust="spacingAndGlyphs">20</text>
<text x="316.55" y="836.7" font-size="13.2" font-weight="bold" fill="#000" textLength="11.78" lengthAdjust="spacingAndGlyphs">30</text>
<text x="409.31" y="836.7" font-size="13.2" font-weight="bold" fill="#000" textLength="11.69" lengthAdjust="spacingAndGlyphs">40</text>
<text x="501.82" y="836.7" font-size="13.2" font-weight="bold" fill="#000" textLength="11.87" lengthAdjust="spacingAndGlyphs">50</text>
<text x="594.44" y="836.7" font-size="13.2" font-weight="bold" fill="#000" textLength="11.93" lengthAdjust="spacingAndGlyphs">60</text>
<text x="51.9" y="297.4" font-size="16.5" fill="#000" textLength="17.01" lengthAdjust="spacingAndGlyphs">(c)</text>
<text x="72.65" y="299.6" font-size="17.5" font-weight="bold" fill="#000" textLength="43.22" lengthAdjust="spacingAndGlyphs">Case 1</text>
<text x="50.32" y="433.8" font-size="16.5" fill="#000" textLength="17.36" lengthAdjust="spacingAndGlyphs">(d)</text>
<text x="71.43" y="434.9" font-size="17.5" font-weight="bold" fill="#000" textLength="44.62" lengthAdjust="spacingAndGlyphs">Case 2</text>
<text x="50.96" y="579.5" font-size="16.5" fill="#faf59a" textLength="18.47" lengthAdjust="spacingAndGlyphs">(e)</text>
<text x="72.04" y="581.3" font-size="17.5" font-weight="bold" fill="#faf59a" textLength="43.84" lengthAdjust="spacingAndGlyphs">Case 1</text>
<text x="50.28" y="720.7" font-size="16.5" fill="#faf59a" textLength="13.93" lengthAdjust="spacingAndGlyphs">(f)</text>
<text x="71.43" y="722.3" font-size="17.5" font-weight="bold" fill="#faf59a" textLength="44.62" lengthAdjust="spacingAndGlyphs">Case 2</text>
<path d="M405.5 350.8 L410.1 357.2 M410.1 350.8 L405.5 357.2" stroke="#f5f08c" stroke-width="1.35" stroke-linecap="round" fill="none"/>
<path d="M459.3 491.8 L463.9 498.2 M463.9 491.8 L459.3 498.2" stroke="#f5f08c" stroke-width="1.35" stroke-linecap="round" fill="none"/>
<path d="M639.6 281.1 L644.1 286.3 V391.6 L639.6 396.9 L635.1 391.6 V286.3 Z" fill="url(#cbc)" stroke="#555" stroke-width="0.6"/>
<line x1="644.1" y1="286.3" x2="646.3" y2="286.3" stroke="#444" stroke-width="0.8"/>
<text x="648.45" y="288.8" font-size="9.2" fill="#222" textLength="5" lengthAdjust="spacingAndGlyphs">0</text>
<line x1="644.1" y1="298" x2="646.3" y2="298" stroke="#444" stroke-width="0.8"/>
<text x="648.12" y="300.5" font-size="9.2" fill="#222" textLength="12.31" lengthAdjust="spacingAndGlyphs">-40</text>
<line x1="644.1" y1="309.7" x2="646.3" y2="309.7" stroke="#444" stroke-width="0.8"/>
<text x="648.12" y="312.2" font-size="9.2" fill="#222" textLength="12.31" lengthAdjust="spacingAndGlyphs">-80</text>
<line x1="644.1" y1="321.4" x2="646.3" y2="321.4" stroke="#444" stroke-width="0.8"/>
<text x="648.11" y="323.9" font-size="9.2" fill="#222" textLength="17.53" lengthAdjust="spacingAndGlyphs">-120</text>
<line x1="644.1" y1="333.1" x2="646.3" y2="333.1" stroke="#444" stroke-width="0.8"/>
<text x="648.11" y="335.6" font-size="9.2" fill="#222" textLength="17.53" lengthAdjust="spacingAndGlyphs">-160</text>
<line x1="644.1" y1="344.8" x2="646.3" y2="344.8" stroke="#444" stroke-width="0.8"/>
<text x="648.11" y="347.3" font-size="9.2" fill="#222" textLength="17.53" lengthAdjust="spacingAndGlyphs">-200</text>
<line x1="644.1" y1="356.5" x2="646.3" y2="356.5" stroke="#444" stroke-width="0.8"/>
<text x="648.11" y="359" font-size="9.2" fill="#222" textLength="17.53" lengthAdjust="spacingAndGlyphs">-240</text>
<line x1="644.1" y1="368.2" x2="646.3" y2="368.2" stroke="#444" stroke-width="0.8"/>
<text x="648.11" y="370.7" font-size="9.2" fill="#222" textLength="17.53" lengthAdjust="spacingAndGlyphs">-280</text>
<line x1="644.1" y1="379.9" x2="646.3" y2="379.9" stroke="#444" stroke-width="0.8"/>
<text x="648.11" y="382.4" font-size="9.2" fill="#222" textLength="17.53" lengthAdjust="spacingAndGlyphs">-320</text>
<line x1="644.1" y1="391.6" x2="646.3" y2="391.6" stroke="#444" stroke-width="0.8"/>
<text x="648.11" y="394.1" font-size="9.2" fill="#222" textLength="17.53" lengthAdjust="spacingAndGlyphs">-360</text>
<text x="656.01" y="348.45" font-size="10" fill="#000" textLength="52.68" lengthAdjust="spacingAndGlyphs" transform="rotate(-90 682.2 348.45)">Velocity [m s</text>
<text x="675.94" y="318.6" font-size="6.5" fill="#000" textLength="5.14" lengthAdjust="spacingAndGlyphs" transform="rotate(-90 678.5 318.6)">-1</text>
<text x="680.42" y="313.25" font-size="10" fill="#000" textLength="4.61" lengthAdjust="spacingAndGlyphs" transform="rotate(-90 682.2 313.25)">]</text>
<path d="M639.7 423.1 L644.5 428.1 V532.8 L639.7 538.8 L634.9 532.8 V428.1 Z" fill="url(#cbd)" stroke="#555" stroke-width="0.6"/>
<line x1="644.5" y1="428.1" x2="646.7" y2="428.1" stroke="#444" stroke-width="0.8"/>
<text x="648.45" y="430.6" font-size="9.2" fill="#222" textLength="5" lengthAdjust="spacingAndGlyphs">0</text>
<line x1="644.5" y1="439.73" x2="646.7" y2="439.73" stroke="#444" stroke-width="0.8"/>
<text x="648.12" y="442.23" font-size="9.2" fill="#222" textLength="12.31" lengthAdjust="spacingAndGlyphs">-40</text>
<line x1="644.5" y1="451.37" x2="646.7" y2="451.37" stroke="#444" stroke-width="0.8"/>
<text x="648.12" y="453.87" font-size="9.2" fill="#222" textLength="12.31" lengthAdjust="spacingAndGlyphs">-80</text>
<line x1="644.5" y1="463" x2="646.7" y2="463" stroke="#444" stroke-width="0.8"/>
<text x="648.11" y="465.5" font-size="9.2" fill="#222" textLength="17.53" lengthAdjust="spacingAndGlyphs">-120</text>
<line x1="644.5" y1="474.63" x2="646.7" y2="474.63" stroke="#444" stroke-width="0.8"/>
<text x="648.11" y="477.13" font-size="9.2" fill="#222" textLength="17.53" lengthAdjust="spacingAndGlyphs">-160</text>
<line x1="644.5" y1="486.27" x2="646.7" y2="486.27" stroke="#444" stroke-width="0.8"/>
<text x="648.11" y="488.77" font-size="9.2" fill="#222" textLength="17.53" lengthAdjust="spacingAndGlyphs">-200</text>
<line x1="644.5" y1="497.9" x2="646.7" y2="497.9" stroke="#444" stroke-width="0.8"/>
<text x="648.11" y="500.4" font-size="9.2" fill="#222" textLength="17.53" lengthAdjust="spacingAndGlyphs">-240</text>
<line x1="644.5" y1="509.53" x2="646.7" y2="509.53" stroke="#444" stroke-width="0.8"/>
<text x="648.11" y="512.03" font-size="9.2" fill="#222" textLength="17.53" lengthAdjust="spacingAndGlyphs">-280</text>
<line x1="644.5" y1="521.17" x2="646.7" y2="521.17" stroke="#444" stroke-width="0.8"/>
<text x="648.11" y="523.67" font-size="9.2" fill="#222" textLength="17.53" lengthAdjust="spacingAndGlyphs">-320</text>
<line x1="644.5" y1="532.8" x2="646.7" y2="532.8" stroke="#444" stroke-width="0.8"/>
<text x="648.11" y="535.3" font-size="9.2" fill="#222" textLength="17.53" lengthAdjust="spacingAndGlyphs">-360</text>
<text x="656.01" y="486.15" font-size="10" fill="#000" textLength="52.68" lengthAdjust="spacingAndGlyphs" transform="rotate(-90 682.2 486.15)">Velocity [m s</text>
<text x="675.94" y="456.3" font-size="6.5" fill="#000" textLength="5.14" lengthAdjust="spacingAndGlyphs" transform="rotate(-90 678.5 456.3)">-1</text>
<text x="680.42" y="450.95" font-size="10" fill="#000" textLength="4.61" lengthAdjust="spacingAndGlyphs" transform="rotate(-90 682.2 450.95)">]</text>
<path d="M639.3 560.8 L643.8 565.6 H634.8 Z" fill="#a52d32"/>
<rect x="634.8" y="565.55" width="9" height="6.12" fill="#a52d32"/>
<rect x="634.8" y="571.57" width="9" height="6.12" fill="#d72d2d"/>
<rect x="634.8" y="577.59" width="9" height="6.12" fill="#f5502d"/>
<rect x="634.8" y="583.62" width="9" height="6.12" fill="#fa7828"/>
<rect x="634.8" y="589.64" width="9" height="6.12" fill="#faa02d"/>
<rect x="634.8" y="595.66" width="9" height="6.12" fill="#facd32"/>
<rect x="634.8" y="601.68" width="9" height="6.12" fill="#f0f532"/>
<rect x="634.8" y="607.71" width="9" height="6.12" fill="#c8f55a"/>
<rect x="634.8" y="613.73" width="9" height="6.12" fill="#96f082"/>
<rect x="634.8" y="619.75" width="9" height="6.12" fill="#78eea0"/>
<rect x="634.8" y="625.77" width="9" height="6.12" fill="#50ebc3"/>
<rect x="634.8" y="631.79" width="9" height="6.12" fill="#32e1e6"/>
<rect x="634.8" y="637.82" width="9" height="6.12" fill="#2dbef5"/>
<rect x="634.8" y="643.84" width="9" height="6.12" fill="#2d9bf5"/>
<rect x="634.8" y="649.86" width="9" height="6.12" fill="#326ef5"/>
<rect x="634.8" y="655.88" width="9" height="6.12" fill="#2837e1"/>
<rect x="634.8" y="661.91" width="9" height="6.12" fill="#2d2dbe"/>
<rect x="634.8" y="667.93" width="9" height="6.12" fill="#32329b"/>
<path d="M634.8 674 L643.8 674 L639.3 678.9 Z" fill="#2d328c"/>
<path d="M639.3 560.8 L643.8 565.6 V674 L639.3 678.9 L634.8 674 V565.6 Z" fill="none" stroke="#666" stroke-width="0.5"/>
<line x1="643.8" y1="565.6" x2="645.8" y2="565.6" stroke="#555" stroke-width="0.8"/>
<text x="648.21" y="568.6" font-size="7" fill="#333" textLength="22.79" lengthAdjust="spacingAndGlyphs">3800</text>
<line x1="643.8" y1="577.64" x2="645.8" y2="577.64" stroke="#555" stroke-width="0.8"/>
<text x="648.21" y="580.64" font-size="7" fill="#333" textLength="22.79" lengthAdjust="spacingAndGlyphs">3400</text>
<line x1="643.8" y1="589.69" x2="645.8" y2="589.69" stroke="#555" stroke-width="0.8"/>
<text x="648.21" y="592.69" font-size="7" fill="#333" textLength="22.79" lengthAdjust="spacingAndGlyphs">3000</text>
<line x1="643.8" y1="601.73" x2="645.8" y2="601.73" stroke="#555" stroke-width="0.8"/>
<text x="648.08" y="604.73" font-size="7" fill="#333" textLength="22.92" lengthAdjust="spacingAndGlyphs">2600</text>
<line x1="643.8" y1="613.78" x2="645.8" y2="613.78" stroke="#555" stroke-width="0.8"/>
<text x="648.08" y="616.78" font-size="7" fill="#333" textLength="22.92" lengthAdjust="spacingAndGlyphs">2200</text>
<line x1="643.8" y1="625.82" x2="645.8" y2="625.82" stroke="#555" stroke-width="0.8"/>
<text x="647.81" y="628.82" font-size="7" fill="#333" textLength="23.2" lengthAdjust="spacingAndGlyphs">1800</text>
<line x1="643.8" y1="637.87" x2="645.8" y2="637.87" stroke="#555" stroke-width="0.8"/>
<text x="647.81" y="640.87" font-size="7" fill="#333" textLength="23.2" lengthAdjust="spacingAndGlyphs">1400</text>
<line x1="643.8" y1="649.91" x2="645.8" y2="649.91" stroke="#555" stroke-width="0.8"/>
<text x="647.81" y="652.91" font-size="7" fill="#333" textLength="23.2" lengthAdjust="spacingAndGlyphs">1000</text>
<line x1="643.8" y1="661.96" x2="645.8" y2="661.96" stroke="#555" stroke-width="0.8"/>
<text x="648.07" y="664.96" font-size="7" fill="#333" textLength="17.44" lengthAdjust="spacingAndGlyphs">600</text>
<line x1="643.8" y1="674" x2="645.8" y2="674" stroke="#555" stroke-width="0.8"/>
<text x="648.07" y="677" font-size="7" fill="#333" textLength="17.43" lengthAdjust="spacingAndGlyphs">200</text>
<text x="658.55" y="620.2" font-size="10" fill="#000" textLength="47.82" lengthAdjust="spacingAndGlyphs" transform="rotate(-90 682.3 620.2)">Temperature [K]</text>
<path d="M638.95 703.7 L643.6 709.2 H634.3 Z" fill="#a52d32"/>
<rect x="634.3" y="709.15" width="9.3" height="6.15" fill="#a52d32"/>
<rect x="634.3" y="715.2" width="9.3" height="6.15" fill="#d72d2d"/>
<rect x="634.3" y="721.25" width="9.3" height="6.15" fill="#f5502d"/>
<rect x="634.3" y="727.3" width="9.3" height="6.15" fill="#fa7828"/>
<rect x="634.3" y="733.35" width="9.3" height="6.15" fill="#faa02d"/>
<rect x="634.3" y="739.4" width="9.3" height="6.15" fill="#facd32"/>
<rect x="634.3" y="745.45" width="9.3" height="6.15" fill="#f0f532"/>
<rect x="634.3" y="751.5" width="9.3" height="6.15" fill="#c8f55a"/>
<rect x="634.3" y="757.55" width="9.3" height="6.15" fill="#96f082"/>
<rect x="634.3" y="763.6" width="9.3" height="6.15" fill="#78eea0"/>
<rect x="634.3" y="769.65" width="9.3" height="6.15" fill="#50ebc3"/>
<rect x="634.3" y="775.7" width="9.3" height="6.15" fill="#32e1e6"/>
<rect x="634.3" y="781.75" width="9.3" height="6.15" fill="#2dbef5"/>
<rect x="634.3" y="787.8" width="9.3" height="6.15" fill="#2d9bf5"/>
<rect x="634.3" y="793.85" width="9.3" height="6.15" fill="#326ef5"/>
<rect x="634.3" y="799.9" width="9.3" height="6.15" fill="#2837e1"/>
<rect x="634.3" y="805.95" width="9.3" height="6.15" fill="#2d2dbe"/>
<rect x="634.3" y="812" width="9.3" height="6.15" fill="#32329b"/>
<path d="M634.3 818.1 L643.6 818.1 L638.95 822.8 Z" fill="#2d328c"/>
<path d="M638.95 703.7 L643.6 709.2 V818.1 L638.95 822.8 L634.3 818.1 V709.2 Z" fill="none" stroke="#666" stroke-width="0.5"/>
<line x1="643.6" y1="709.2" x2="645.6" y2="709.2" stroke="#555" stroke-width="0.8"/>
<text x="648.21" y="712.2" font-size="7" fill="#333" textLength="22.79" lengthAdjust="spacingAndGlyphs">3800</text>
<line x1="643.6" y1="721.3" x2="645.6" y2="721.3" stroke="#555" stroke-width="0.8"/>
<text x="648.21" y="724.3" font-size="7" fill="#333" textLength="22.79" lengthAdjust="spacingAndGlyphs">3400</text>
<line x1="643.6" y1="733.4" x2="645.6" y2="733.4" stroke="#555" stroke-width="0.8"/>
<text x="648.21" y="736.4" font-size="7" fill="#333" textLength="22.79" lengthAdjust="spacingAndGlyphs">3000</text>
<line x1="643.6" y1="745.5" x2="645.6" y2="745.5" stroke="#555" stroke-width="0.8"/>
<text x="648.08" y="748.5" font-size="7" fill="#333" textLength="22.92" lengthAdjust="spacingAndGlyphs">2600</text>
<line x1="643.6" y1="757.6" x2="645.6" y2="757.6" stroke="#555" stroke-width="0.8"/>
<text x="648.08" y="760.6" font-size="7" fill="#333" textLength="22.92" lengthAdjust="spacingAndGlyphs">2200</text>
<line x1="643.6" y1="769.7" x2="645.6" y2="769.7" stroke="#555" stroke-width="0.8"/>
<text x="647.81" y="772.7" font-size="7" fill="#333" textLength="23.2" lengthAdjust="spacingAndGlyphs">1800</text>
<line x1="643.6" y1="781.8" x2="645.6" y2="781.8" stroke="#555" stroke-width="0.8"/>
<text x="647.81" y="784.8" font-size="7" fill="#333" textLength="23.2" lengthAdjust="spacingAndGlyphs">1400</text>
<line x1="643.6" y1="793.9" x2="645.6" y2="793.9" stroke="#555" stroke-width="0.8"/>
<text x="647.81" y="796.9" font-size="7" fill="#333" textLength="23.2" lengthAdjust="spacingAndGlyphs">1000</text>
<line x1="643.6" y1="806" x2="645.6" y2="806" stroke="#555" stroke-width="0.8"/>
<text x="648.07" y="809" font-size="7" fill="#333" textLength="17.44" lengthAdjust="spacingAndGlyphs">600</text>
<line x1="643.6" y1="818.1" x2="645.6" y2="818.1" stroke="#555" stroke-width="0.8"/>
<text x="648.07" y="821.1" font-size="7" fill="#333" textLength="17.43" lengthAdjust="spacingAndGlyphs">200</text>
<text x="658.45" y="763.9" font-size="10" fill="#000" textLength="48.02" lengthAdjust="spacingAndGlyphs" transform="rotate(-90 682.3 763.9)">Temperature [K]</text>
<text x="301.59" y="853.6" font-size="17" fill="#000" textLength="66.88" lengthAdjust="spacingAndGlyphs">Time (min)</text>
</svg>
</body></html>
